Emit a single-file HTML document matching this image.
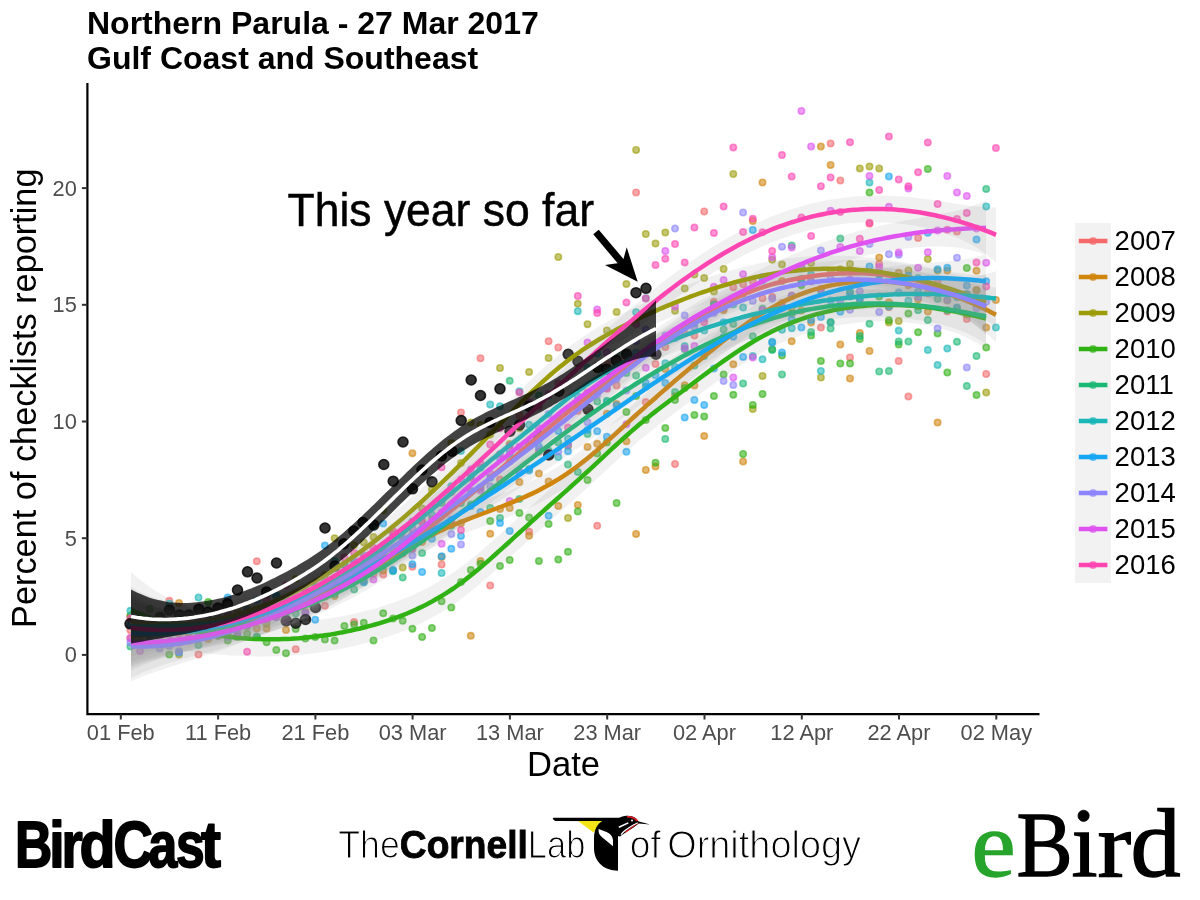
<!DOCTYPE html>
<html><head><meta charset="utf-8"><title>Northern Parula - 27 Mar 2017</title>
<style>
html,body{margin:0;padding:0;background:#fff;}
body{width:1200px;height:900px;overflow:hidden;font-family:"Liberation Sans",sans-serif;}
svg{display:block;will-change:transform;}
text{font-family:"Liberation Sans",sans-serif;}
.ti{font-weight:bold;font-size:32px;fill:#000;}
.tk{font-size:21.8px;fill:#4D4D4D;}
.at{font-size:34.6px;fill:#000;}
.lg{font-size:27.5px;fill:#000;}
.an{font-size:47px;fill:#000;stroke:#000;stroke-width:0.5px;}
.bc{font-weight:bold;font-size:64.5px;fill:#000;stroke:#000;stroke-width:1.8px;stroke-linejoin:round;}
.cl{font-size:38px;fill:#000;stroke:#fff;stroke-width:1.1px;}
.cb{font-weight:bold;font-size:38px;fill:#000;stroke:#000;stroke-width:0.8px;}
.eb text{font-family:"Liberation Serif",serif;font-size:93.7px;stroke-width:1.3px;}
.eb{fill:#000;stroke:#000;}
</style></head><body>
<svg width="1200" height="900" viewBox="0 0 1200 900">
<rect width="1200" height="900" fill="#fff"/>
<text x="87" y="34.2" class="ti">Northern Parula - 27 Mar 2017</text>
<text x="87" y="68.9" class="ti">Gulf Coast and Southeast</text>
<g id="plot">
<g fill="#F5696A" stroke="#F5696A" fill-opacity="0.58" stroke-opacity="0.58" stroke-width="1.6"><circle cx="130.4" cy="630.2" r="3.2"/><circle cx="140.1" cy="622.9" r="3.2"/><circle cx="149.8" cy="629.7" r="3.2"/><circle cx="159.6" cy="632.5" r="3.2"/><circle cx="169.3" cy="600.8" r="3.2"/><circle cx="179.0" cy="632.8" r="3.2"/><circle cx="188.8" cy="633.9" r="3.2"/><circle cx="198.5" cy="654.5" r="3.2"/><circle cx="208.2" cy="623.6" r="3.2"/><circle cx="217.9" cy="632.6" r="3.2"/><circle cx="227.7" cy="621.4" r="3.2"/><circle cx="237.4" cy="627.0" r="3.2"/><circle cx="247.1" cy="624.3" r="3.2"/><circle cx="256.8" cy="561.2" r="3.2"/><circle cx="266.6" cy="610.4" r="3.2"/><circle cx="276.3" cy="614.1" r="3.2"/><circle cx="286.0" cy="609.4" r="3.2"/><circle cx="295.7" cy="649.2" r="3.2"/><circle cx="305.4" cy="603.6" r="3.2"/><circle cx="315.2" cy="592.2" r="3.2"/><circle cx="324.9" cy="605.8" r="3.2"/><circle cx="334.6" cy="578.0" r="3.2"/><circle cx="344.4" cy="577.3" r="3.2"/><circle cx="354.1" cy="621.9" r="3.2"/><circle cx="363.8" cy="557.4" r="3.2"/><circle cx="373.5" cy="573.8" r="3.2"/><circle cx="383.2" cy="574.4" r="3.2"/><circle cx="393.0" cy="557.2" r="3.2"/><circle cx="402.7" cy="553.6" r="3.2"/><circle cx="412.4" cy="566.8" r="3.2"/><circle cx="422.1" cy="521.2" r="3.2"/><circle cx="431.9" cy="518.9" r="3.2"/><circle cx="441.6" cy="564.5" r="3.2"/><circle cx="451.3" cy="504.4" r="3.2"/><circle cx="461.0" cy="412.5" r="3.2"/><circle cx="470.8" cy="491.2" r="3.2"/><circle cx="480.5" cy="358.2" r="3.2"/><circle cx="490.2" cy="585.5" r="3.2"/><circle cx="500.0" cy="479.6" r="3.2"/><circle cx="509.7" cy="461.4" r="3.2"/><circle cx="519.4" cy="415.2" r="3.2"/><circle cx="529.1" cy="531.8" r="3.2"/><circle cx="538.9" cy="451.8" r="3.2"/><circle cx="548.6" cy="341.2" r="3.2"/><circle cx="558.3" cy="347.5" r="3.2"/><circle cx="568.0" cy="444.4" r="3.2"/><circle cx="577.8" cy="410.9" r="3.2"/><circle cx="587.5" cy="410.5" r="3.2"/><circle cx="597.2" cy="525.8" r="3.2"/><circle cx="606.9" cy="363.6" r="3.2"/><circle cx="616.6" cy="385.5" r="3.2"/><circle cx="626.4" cy="357.6" r="3.2"/><circle cx="636.1" cy="192.5" r="3.2"/><circle cx="645.8" cy="402.1" r="3.2"/><circle cx="655.5" cy="364.0" r="3.2"/><circle cx="665.3" cy="347.1" r="3.2"/><circle cx="675.0" cy="464.0" r="3.2"/><circle cx="684.7" cy="333.6" r="3.2"/><circle cx="694.4" cy="335.4" r="3.2"/><circle cx="704.2" cy="211.5" r="3.2"/><circle cx="713.9" cy="301.7" r="3.2"/><circle cx="723.6" cy="308.5" r="3.2"/><circle cx="733.3" cy="287.2" r="3.2"/><circle cx="743.1" cy="284.2" r="3.2"/><circle cx="752.8" cy="281.2" r="3.2"/><circle cx="762.5" cy="298.2" r="3.2"/><circle cx="772.2" cy="296.8" r="3.2"/><circle cx="782.0" cy="302.9" r="3.2"/><circle cx="791.7" cy="295.5" r="3.2"/><circle cx="801.4" cy="281.1" r="3.2"/><circle cx="811.1" cy="281.6" r="3.2"/><circle cx="820.9" cy="327.5" r="3.2"/><circle cx="830.6" cy="143.5" r="3.2"/><circle cx="840.3" cy="180.5" r="3.2"/><circle cx="850.0" cy="357.5" r="3.2"/><circle cx="859.8" cy="301.2" r="3.2"/><circle cx="869.5" cy="223.8" r="3.2"/><circle cx="879.2" cy="264.0" r="3.2"/><circle cx="888.9" cy="307.3" r="3.2"/><circle cx="898.7" cy="361.0" r="3.2"/><circle cx="908.4" cy="396.5" r="3.2"/><circle cx="918.1" cy="237.9" r="3.2"/><circle cx="927.8" cy="293.3" r="3.2"/><circle cx="937.6" cy="282.4" r="3.2"/><circle cx="947.3" cy="311.4" r="3.2"/><circle cx="957.0" cy="231.5" r="3.2"/><circle cx="966.8" cy="319.1" r="3.2"/><circle cx="976.5" cy="289.9" r="3.2"/><circle cx="986.2" cy="374.0" r="3.2"/></g>
<g fill="#D0850C" stroke="#D0850C" fill-opacity="0.58" stroke-opacity="0.58" stroke-width="1.6"><circle cx="130.4" cy="638.3" r="3.2"/><circle cx="140.1" cy="642.7" r="3.2"/><circle cx="149.8" cy="627.2" r="3.2"/><circle cx="159.6" cy="622.9" r="3.2"/><circle cx="169.3" cy="623.5" r="3.2"/><circle cx="179.0" cy="603.0" r="3.2"/><circle cx="188.8" cy="625.8" r="3.2"/><circle cx="198.5" cy="626.2" r="3.2"/><circle cx="208.2" cy="638.9" r="3.2"/><circle cx="217.9" cy="617.5" r="3.2"/><circle cx="227.7" cy="635.6" r="3.2"/><circle cx="237.4" cy="628.1" r="3.2"/><circle cx="247.1" cy="626.2" r="3.2"/><circle cx="256.8" cy="628.5" r="3.2"/><circle cx="266.6" cy="628.4" r="3.2"/><circle cx="276.3" cy="611.0" r="3.2"/><circle cx="286.0" cy="630.0" r="3.2"/><circle cx="295.7" cy="606.9" r="3.2"/><circle cx="305.4" cy="611.7" r="3.2"/><circle cx="315.2" cy="596.7" r="3.2"/><circle cx="324.9" cy="596.5" r="3.2"/><circle cx="334.6" cy="596.0" r="3.2"/><circle cx="344.4" cy="578.7" r="3.2"/><circle cx="354.1" cy="575.3" r="3.2"/><circle cx="363.8" cy="580.7" r="3.2"/><circle cx="373.5" cy="562.6" r="3.2"/><circle cx="383.2" cy="570.6" r="3.2"/><circle cx="393.0" cy="549.9" r="3.2"/><circle cx="402.7" cy="545.8" r="3.2"/><circle cx="412.4" cy="453.2" r="3.2"/><circle cx="422.1" cy="542.0" r="3.2"/><circle cx="431.9" cy="527.9" r="3.2"/><circle cx="441.6" cy="557.0" r="3.2"/><circle cx="451.3" cy="522.1" r="3.2"/><circle cx="461.0" cy="523.2" r="3.2"/><circle cx="470.8" cy="635.8" r="3.2"/><circle cx="480.5" cy="561.0" r="3.2"/><circle cx="490.2" cy="533.8" r="3.2"/><circle cx="500.0" cy="509.0" r="3.2"/><circle cx="509.7" cy="508.0" r="3.2"/><circle cx="519.4" cy="482.1" r="3.2"/><circle cx="529.1" cy="535.8" r="3.2"/><circle cx="538.9" cy="473.6" r="3.2"/><circle cx="548.6" cy="481.4" r="3.2"/><circle cx="558.3" cy="506.0" r="3.2"/><circle cx="568.0" cy="446.1" r="3.2"/><circle cx="577.8" cy="505.0" r="3.2"/><circle cx="587.5" cy="446.9" r="3.2"/><circle cx="597.2" cy="443.8" r="3.2"/><circle cx="606.9" cy="413.8" r="3.2"/><circle cx="616.6" cy="404.1" r="3.2"/><circle cx="626.4" cy="441.2" r="3.2"/><circle cx="636.1" cy="534.0" r="3.2"/><circle cx="645.8" cy="470.0" r="3.2"/><circle cx="655.5" cy="466.5" r="3.2"/><circle cx="665.3" cy="369.1" r="3.2"/><circle cx="675.0" cy="396.1" r="3.2"/><circle cx="684.7" cy="385.3" r="3.2"/><circle cx="694.4" cy="385.4" r="3.2"/><circle cx="704.2" cy="436.0" r="3.2"/><circle cx="713.9" cy="304.0" r="3.2"/><circle cx="723.6" cy="310.2" r="3.2"/><circle cx="733.3" cy="364.3" r="3.2"/><circle cx="743.1" cy="461.5" r="3.2"/><circle cx="752.8" cy="221.0" r="3.2"/><circle cx="762.5" cy="182.5" r="3.2"/><circle cx="772.2" cy="311.3" r="3.2"/><circle cx="782.0" cy="280.9" r="3.2"/><circle cx="791.7" cy="341.3" r="3.2"/><circle cx="801.4" cy="266.6" r="3.2"/><circle cx="811.1" cy="322.6" r="3.2"/><circle cx="820.9" cy="146.5" r="3.2"/><circle cx="830.6" cy="165.0" r="3.2"/><circle cx="840.3" cy="344.5" r="3.2"/><circle cx="850.0" cy="378.5" r="3.2"/><circle cx="859.8" cy="332.9" r="3.2"/><circle cx="869.5" cy="351.0" r="3.2"/><circle cx="879.2" cy="257.4" r="3.2"/><circle cx="888.9" cy="302.3" r="3.2"/><circle cx="898.7" cy="272.8" r="3.2"/><circle cx="908.4" cy="285.2" r="3.2"/><circle cx="918.1" cy="299.2" r="3.2"/><circle cx="927.8" cy="311.6" r="3.2"/><circle cx="937.6" cy="422.5" r="3.2"/><circle cx="947.3" cy="270.6" r="3.2"/><circle cx="957.0" cy="294.0" r="3.2"/><circle cx="966.8" cy="294.2" r="3.2"/><circle cx="976.5" cy="270.8" r="3.2"/><circle cx="986.2" cy="327.6" r="3.2"/><circle cx="995.9" cy="300.0" r="3.2"/></g>
<g fill="#9C9C0A" stroke="#9C9C0A" fill-opacity="0.58" stroke-opacity="0.58" stroke-width="1.6"><circle cx="130.4" cy="615.4" r="3.2"/><circle cx="140.1" cy="617.0" r="3.2"/><circle cx="149.8" cy="628.2" r="3.2"/><circle cx="159.6" cy="617.9" r="3.2"/><circle cx="169.3" cy="633.9" r="3.2"/><circle cx="179.0" cy="654.5" r="3.2"/><circle cx="188.8" cy="625.1" r="3.2"/><circle cx="198.5" cy="624.2" r="3.2"/><circle cx="208.2" cy="622.4" r="3.2"/><circle cx="217.9" cy="621.5" r="3.2"/><circle cx="227.7" cy="614.5" r="3.2"/><circle cx="237.4" cy="609.7" r="3.2"/><circle cx="247.1" cy="607.6" r="3.2"/><circle cx="256.8" cy="609.3" r="3.2"/><circle cx="266.6" cy="623.7" r="3.2"/><circle cx="276.3" cy="595.7" r="3.2"/><circle cx="286.0" cy="602.8" r="3.2"/><circle cx="295.7" cy="579.1" r="3.2"/><circle cx="305.4" cy="593.0" r="3.2"/><circle cx="315.2" cy="599.2" r="3.2"/><circle cx="324.9" cy="575.0" r="3.2"/><circle cx="334.6" cy="538.2" r="3.2"/><circle cx="344.4" cy="564.2" r="3.2"/><circle cx="354.1" cy="545.2" r="3.2"/><circle cx="363.8" cy="542.4" r="3.2"/><circle cx="373.5" cy="537.0" r="3.2"/><circle cx="383.2" cy="510.3" r="3.2"/><circle cx="393.0" cy="533.6" r="3.2"/><circle cx="402.7" cy="567.5" r="3.2"/><circle cx="412.4" cy="534.8" r="3.2"/><circle cx="422.1" cy="508.4" r="3.2"/><circle cx="431.9" cy="489.4" r="3.2"/><circle cx="441.6" cy="454.8" r="3.2"/><circle cx="451.3" cy="443.0" r="3.2"/><circle cx="461.0" cy="463.0" r="3.2"/><circle cx="470.8" cy="422.4" r="3.2"/><circle cx="480.5" cy="425.0" r="3.2"/><circle cx="490.2" cy="434.7" r="3.2"/><circle cx="500.0" cy="368.0" r="3.2"/><circle cx="509.7" cy="444.1" r="3.2"/><circle cx="519.4" cy="428.2" r="3.2"/><circle cx="529.1" cy="371.9" r="3.2"/><circle cx="538.9" cy="404.5" r="3.2"/><circle cx="548.6" cy="358.0" r="3.2"/><circle cx="558.3" cy="257.0" r="3.2"/><circle cx="568.0" cy="518.0" r="3.2"/><circle cx="577.8" cy="303.8" r="3.2"/><circle cx="587.5" cy="324.2" r="3.2"/><circle cx="597.2" cy="369.3" r="3.2"/><circle cx="606.9" cy="330.4" r="3.2"/><circle cx="616.6" cy="311.9" r="3.2"/><circle cx="626.4" cy="284.0" r="3.2"/><circle cx="636.1" cy="150.0" r="3.2"/><circle cx="645.8" cy="234.0" r="3.2"/><circle cx="655.5" cy="243.5" r="3.2"/><circle cx="665.3" cy="232.5" r="3.2"/><circle cx="675.0" cy="310.7" r="3.2"/><circle cx="684.7" cy="288.5" r="3.2"/><circle cx="694.4" cy="274.5" r="3.2"/><circle cx="704.2" cy="277.9" r="3.2"/><circle cx="713.9" cy="291.5" r="3.2"/><circle cx="723.6" cy="269.0" r="3.2"/><circle cx="733.3" cy="174.0" r="3.2"/><circle cx="743.1" cy="293.8" r="3.2"/><circle cx="752.8" cy="409.0" r="3.2"/><circle cx="762.5" cy="376.0" r="3.2"/><circle cx="772.2" cy="259.8" r="3.2"/><circle cx="782.0" cy="264.4" r="3.2"/><circle cx="791.7" cy="307.8" r="3.2"/><circle cx="801.4" cy="310.6" r="3.2"/><circle cx="811.1" cy="263.1" r="3.2"/><circle cx="820.9" cy="377.5" r="3.2"/><circle cx="830.6" cy="271.2" r="3.2"/><circle cx="840.3" cy="269.2" r="3.2"/><circle cx="850.0" cy="264.0" r="3.2"/><circle cx="859.8" cy="168.5" r="3.2"/><circle cx="869.5" cy="166.5" r="3.2"/><circle cx="879.2" cy="168.5" r="3.2"/><circle cx="888.9" cy="322.4" r="3.2"/><circle cx="898.7" cy="321.0" r="3.2"/><circle cx="908.4" cy="270.4" r="3.2"/><circle cx="918.1" cy="306.6" r="3.2"/><circle cx="927.8" cy="259.1" r="3.2"/><circle cx="937.6" cy="270.6" r="3.2"/><circle cx="947.3" cy="300.5" r="3.2"/><circle cx="957.0" cy="295.1" r="3.2"/><circle cx="966.8" cy="314.2" r="3.2"/><circle cx="976.5" cy="290.3" r="3.2"/><circle cx="986.2" cy="392.5" r="3.2"/></g>
<g fill="#30B214" stroke="#30B214" fill-opacity="0.58" stroke-opacity="0.58" stroke-width="1.6"><circle cx="130.4" cy="616.3" r="3.2"/><circle cx="140.1" cy="617.4" r="3.2"/><circle cx="149.8" cy="609.0" r="3.2"/><circle cx="159.6" cy="615.5" r="3.2"/><circle cx="169.3" cy="654.5" r="3.2"/><circle cx="179.0" cy="620.5" r="3.2"/><circle cx="188.8" cy="629.0" r="3.2"/><circle cx="198.5" cy="633.3" r="3.2"/><circle cx="208.2" cy="602.0" r="3.2"/><circle cx="217.9" cy="636.1" r="3.2"/><circle cx="227.7" cy="640.6" r="3.2"/><circle cx="237.4" cy="637.1" r="3.2"/><circle cx="247.1" cy="633.7" r="3.2"/><circle cx="256.8" cy="637.3" r="3.2"/><circle cx="266.6" cy="642.2" r="3.2"/><circle cx="276.3" cy="649.9" r="3.2"/><circle cx="286.0" cy="653.2" r="3.2"/><circle cx="295.7" cy="629.0" r="3.2"/><circle cx="305.4" cy="638.5" r="3.2"/><circle cx="315.2" cy="637.1" r="3.2"/><circle cx="324.9" cy="639.4" r="3.2"/><circle cx="334.6" cy="640.6" r="3.2"/><circle cx="344.4" cy="625.9" r="3.2"/><circle cx="354.1" cy="624.4" r="3.2"/><circle cx="363.8" cy="622.8" r="3.2"/><circle cx="373.5" cy="640.4" r="3.2"/><circle cx="383.2" cy="613.3" r="3.2"/><circle cx="393.0" cy="618.6" r="3.2"/><circle cx="402.7" cy="620.8" r="3.2"/><circle cx="412.4" cy="628.8" r="3.2"/><circle cx="422.1" cy="637.0" r="3.2"/><circle cx="431.9" cy="628.0" r="3.2"/><circle cx="441.6" cy="601.2" r="3.2"/><circle cx="451.3" cy="607.5" r="3.2"/><circle cx="461.0" cy="582.0" r="3.2"/><circle cx="470.8" cy="570.0" r="3.2"/><circle cx="480.5" cy="563.8" r="3.2"/><circle cx="490.2" cy="521.0" r="3.2"/><circle cx="500.0" cy="566.0" r="3.2"/><circle cx="509.7" cy="560.0" r="3.2"/><circle cx="519.4" cy="513.0" r="3.2"/><circle cx="529.1" cy="517.5" r="3.2"/><circle cx="538.9" cy="561.0" r="3.2"/><circle cx="548.6" cy="523.9" r="3.2"/><circle cx="558.3" cy="559.5" r="3.2"/><circle cx="568.0" cy="551.8" r="3.2"/><circle cx="577.8" cy="511.4" r="3.2"/><circle cx="587.5" cy="480.0" r="3.2"/><circle cx="597.2" cy="453.4" r="3.2"/><circle cx="606.9" cy="442.4" r="3.2"/><circle cx="616.6" cy="503.0" r="3.2"/><circle cx="626.4" cy="412.1" r="3.2"/><circle cx="636.1" cy="396.0" r="3.2"/><circle cx="645.8" cy="420.1" r="3.2"/><circle cx="655.5" cy="462.7" r="3.2"/><circle cx="665.3" cy="428.1" r="3.2"/><circle cx="675.0" cy="400.1" r="3.2"/><circle cx="684.7" cy="388.0" r="3.2"/><circle cx="694.4" cy="414.9" r="3.2"/><circle cx="704.2" cy="416.5" r="3.2"/><circle cx="713.9" cy="396.0" r="3.2"/><circle cx="723.6" cy="374.4" r="3.2"/><circle cx="733.3" cy="394.8" r="3.2"/><circle cx="743.1" cy="454.0" r="3.2"/><circle cx="752.8" cy="404.9" r="3.2"/><circle cx="762.5" cy="394.0" r="3.2"/><circle cx="772.2" cy="349.2" r="3.2"/><circle cx="782.0" cy="355.6" r="3.2"/><circle cx="791.7" cy="313.6" r="3.2"/><circle cx="801.4" cy="285.3" r="3.2"/><circle cx="811.1" cy="335.4" r="3.2"/><circle cx="820.9" cy="361.0" r="3.2"/><circle cx="830.6" cy="322.3" r="3.2"/><circle cx="840.3" cy="363.5" r="3.2"/><circle cx="850.0" cy="363.5" r="3.2"/><circle cx="859.8" cy="339.0" r="3.2"/><circle cx="869.5" cy="192.5" r="3.2"/><circle cx="879.2" cy="296.6" r="3.2"/><circle cx="888.9" cy="320.2" r="3.2"/><circle cx="898.7" cy="344.5" r="3.2"/><circle cx="908.4" cy="313.6" r="3.2"/><circle cx="918.1" cy="332.3" r="3.2"/><circle cx="927.8" cy="169.0" r="3.2"/><circle cx="937.6" cy="333.4" r="3.2"/><circle cx="947.3" cy="372.5" r="3.2"/><circle cx="957.0" cy="308.0" r="3.2"/><circle cx="966.8" cy="268.1" r="3.2"/><circle cx="976.5" cy="395.0" r="3.2"/><circle cx="986.2" cy="347.5" r="3.2"/></g>
<g fill="#1CB974" stroke="#1CB974" fill-opacity="0.58" stroke-opacity="0.58" stroke-width="1.6"><circle cx="130.4" cy="646.4" r="3.2"/><circle cx="140.1" cy="622.3" r="3.2"/><circle cx="149.8" cy="635.2" r="3.2"/><circle cx="159.6" cy="632.5" r="3.2"/><circle cx="169.3" cy="631.9" r="3.2"/><circle cx="179.0" cy="641.3" r="3.2"/><circle cx="188.8" cy="629.9" r="3.2"/><circle cx="198.5" cy="645.1" r="3.2"/><circle cx="208.2" cy="629.3" r="3.2"/><circle cx="217.9" cy="629.9" r="3.2"/><circle cx="227.7" cy="614.7" r="3.2"/><circle cx="237.4" cy="627.1" r="3.2"/><circle cx="247.1" cy="623.4" r="3.2"/><circle cx="256.8" cy="636.5" r="3.2"/><circle cx="266.6" cy="614.8" r="3.2"/><circle cx="276.3" cy="609.3" r="3.2"/><circle cx="286.0" cy="616.5" r="3.2"/><circle cx="295.7" cy="613.5" r="3.2"/><circle cx="305.4" cy="594.9" r="3.2"/><circle cx="315.2" cy="596.9" r="3.2"/><circle cx="324.9" cy="593.6" r="3.2"/><circle cx="334.6" cy="594.1" r="3.2"/><circle cx="344.4" cy="585.4" r="3.2"/><circle cx="354.1" cy="589.4" r="3.2"/><circle cx="363.8" cy="570.8" r="3.2"/><circle cx="373.5" cy="570.1" r="3.2"/><circle cx="383.2" cy="565.9" r="3.2"/><circle cx="393.0" cy="570.7" r="3.2"/><circle cx="402.7" cy="577.5" r="3.2"/><circle cx="412.4" cy="549.1" r="3.2"/><circle cx="422.1" cy="553.1" r="3.2"/><circle cx="431.9" cy="533.9" r="3.2"/><circle cx="441.6" cy="502.9" r="3.2"/><circle cx="451.3" cy="525.8" r="3.2"/><circle cx="461.0" cy="503.2" r="3.2"/><circle cx="470.8" cy="504.5" r="3.2"/><circle cx="480.5" cy="488.2" r="3.2"/><circle cx="490.2" cy="507.9" r="3.2"/><circle cx="500.0" cy="518.0" r="3.2"/><circle cx="509.7" cy="380.8" r="3.2"/><circle cx="519.4" cy="498.9" r="3.2"/><circle cx="529.1" cy="469.0" r="3.2"/><circle cx="538.9" cy="395.4" r="3.2"/><circle cx="548.6" cy="450.5" r="3.2"/><circle cx="558.3" cy="442.5" r="3.2"/><circle cx="568.0" cy="464.6" r="3.2"/><circle cx="577.8" cy="471.9" r="3.2"/><circle cx="587.5" cy="433.9" r="3.2"/><circle cx="597.2" cy="401.4" r="3.2"/><circle cx="606.9" cy="400.8" r="3.2"/><circle cx="616.6" cy="352.8" r="3.2"/><circle cx="626.4" cy="373.0" r="3.2"/><circle cx="636.1" cy="375.6" r="3.2"/><circle cx="645.8" cy="386.8" r="3.2"/><circle cx="655.5" cy="345.0" r="3.2"/><circle cx="665.3" cy="439.0" r="3.2"/><circle cx="675.0" cy="392.1" r="3.2"/><circle cx="684.7" cy="349.3" r="3.2"/><circle cx="694.4" cy="365.5" r="3.2"/><circle cx="704.2" cy="356.0" r="3.2"/><circle cx="713.9" cy="345.3" r="3.2"/><circle cx="723.6" cy="329.5" r="3.2"/><circle cx="733.3" cy="323.9" r="3.2"/><circle cx="743.1" cy="383.5" r="3.2"/><circle cx="752.8" cy="336.2" r="3.2"/><circle cx="762.5" cy="308.6" r="3.2"/><circle cx="772.2" cy="349.9" r="3.2"/><circle cx="782.0" cy="374.5" r="3.2"/><circle cx="791.7" cy="245.4" r="3.2"/><circle cx="801.4" cy="278.7" r="3.2"/><circle cx="811.1" cy="332.1" r="3.2"/><circle cx="820.9" cy="291.0" r="3.2"/><circle cx="830.6" cy="328.5" r="3.2"/><circle cx="840.3" cy="238.6" r="3.2"/><circle cx="850.0" cy="291.9" r="3.2"/><circle cx="859.8" cy="336.1" r="3.2"/><circle cx="869.5" cy="323.8" r="3.2"/><circle cx="879.2" cy="371.5" r="3.2"/><circle cx="888.9" cy="371.0" r="3.2"/><circle cx="898.7" cy="341.5" r="3.2"/><circle cx="908.4" cy="341.5" r="3.2"/><circle cx="918.1" cy="310.2" r="3.2"/><circle cx="927.8" cy="320.0" r="3.2"/><circle cx="937.6" cy="299.0" r="3.2"/><circle cx="947.3" cy="310.3" r="3.2"/><circle cx="957.0" cy="341.7" r="3.2"/><circle cx="966.8" cy="386.0" r="3.2"/><circle cx="976.5" cy="356.0" r="3.2"/><circle cx="986.2" cy="189.0" r="3.2"/></g>
<g fill="#1AB6B8" stroke="#1AB6B8" fill-opacity="0.58" stroke-opacity="0.58" stroke-width="1.6"><circle cx="130.4" cy="610.8" r="3.2"/><circle cx="140.1" cy="623.1" r="3.2"/><circle cx="149.8" cy="620.7" r="3.2"/><circle cx="159.6" cy="625.8" r="3.2"/><circle cx="169.3" cy="603.8" r="3.2"/><circle cx="179.0" cy="619.0" r="3.2"/><circle cx="188.8" cy="626.8" r="3.2"/><circle cx="198.5" cy="597.5" r="3.2"/><circle cx="208.2" cy="619.8" r="3.2"/><circle cx="217.9" cy="618.3" r="3.2"/><circle cx="227.7" cy="612.3" r="3.2"/><circle cx="237.4" cy="622.9" r="3.2"/><circle cx="247.1" cy="625.5" r="3.2"/><circle cx="256.8" cy="615.3" r="3.2"/><circle cx="266.6" cy="612.1" r="3.2"/><circle cx="276.3" cy="595.5" r="3.2"/><circle cx="286.0" cy="600.8" r="3.2"/><circle cx="295.7" cy="600.8" r="3.2"/><circle cx="305.4" cy="602.9" r="3.2"/><circle cx="315.2" cy="586.8" r="3.2"/><circle cx="324.9" cy="582.9" r="3.2"/><circle cx="334.6" cy="561.0" r="3.2"/><circle cx="344.4" cy="565.0" r="3.2"/><circle cx="354.1" cy="567.7" r="3.2"/><circle cx="363.8" cy="582.6" r="3.2"/><circle cx="373.5" cy="526.9" r="3.2"/><circle cx="383.2" cy="558.5" r="3.2"/><circle cx="393.0" cy="571.2" r="3.2"/><circle cx="402.7" cy="539.2" r="3.2"/><circle cx="412.4" cy="521.5" r="3.2"/><circle cx="422.1" cy="528.7" r="3.2"/><circle cx="431.9" cy="514.7" r="3.2"/><circle cx="441.6" cy="573.0" r="3.2"/><circle cx="451.3" cy="486.3" r="3.2"/><circle cx="461.0" cy="450.9" r="3.2"/><circle cx="470.8" cy="476.5" r="3.2"/><circle cx="480.5" cy="467.8" r="3.2"/><circle cx="490.2" cy="404.5" r="3.2"/><circle cx="500.0" cy="406.2" r="3.2"/><circle cx="509.7" cy="453.9" r="3.2"/><circle cx="519.4" cy="391.3" r="3.2"/><circle cx="529.1" cy="424.7" r="3.2"/><circle cx="538.9" cy="439.2" r="3.2"/><circle cx="548.6" cy="395.7" r="3.2"/><circle cx="558.3" cy="457.1" r="3.2"/><circle cx="568.0" cy="438.7" r="3.2"/><circle cx="577.8" cy="311.2" r="3.2"/><circle cx="587.5" cy="367.7" r="3.2"/><circle cx="597.2" cy="353.5" r="3.2"/><circle cx="606.9" cy="401.7" r="3.2"/><circle cx="616.6" cy="366.0" r="3.2"/><circle cx="626.4" cy="353.7" r="3.2"/><circle cx="636.1" cy="312.2" r="3.2"/><circle cx="645.8" cy="298.3" r="3.2"/><circle cx="655.5" cy="349.6" r="3.2"/><circle cx="665.3" cy="363.2" r="3.2"/><circle cx="675.0" cy="367.0" r="3.2"/><circle cx="684.7" cy="346.0" r="3.2"/><circle cx="694.4" cy="323.6" r="3.2"/><circle cx="704.2" cy="330.4" r="3.2"/><circle cx="713.9" cy="304.7" r="3.2"/><circle cx="723.6" cy="337.0" r="3.2"/><circle cx="733.3" cy="304.6" r="3.2"/><circle cx="743.1" cy="307.5" r="3.2"/><circle cx="752.8" cy="355.9" r="3.2"/><circle cx="762.5" cy="359.3" r="3.2"/><circle cx="772.2" cy="341.7" r="3.2"/><circle cx="782.0" cy="329.8" r="3.2"/><circle cx="791.7" cy="328.2" r="3.2"/><circle cx="801.4" cy="282.8" r="3.2"/><circle cx="811.1" cy="274.8" r="3.2"/><circle cx="820.9" cy="371.0" r="3.2"/><circle cx="830.6" cy="322.2" r="3.2"/><circle cx="840.3" cy="305.4" r="3.2"/><circle cx="850.0" cy="292.8" r="3.2"/><circle cx="859.8" cy="297.3" r="3.2"/><circle cx="869.5" cy="182.6" r="3.2"/><circle cx="879.2" cy="274.2" r="3.2"/><circle cx="888.9" cy="306.5" r="3.2"/><circle cx="898.7" cy="330.6" r="3.2"/><circle cx="908.4" cy="300.7" r="3.2"/><circle cx="918.1" cy="277.9" r="3.2"/><circle cx="927.8" cy="350.0" r="3.2"/><circle cx="937.6" cy="365.0" r="3.2"/><circle cx="947.3" cy="348.4" r="3.2"/><circle cx="957.0" cy="297.2" r="3.2"/><circle cx="966.8" cy="294.1" r="3.2"/><circle cx="976.5" cy="298.1" r="3.2"/><circle cx="986.2" cy="206.5" r="3.2"/><circle cx="995.9" cy="327.5" r="3.2"/></g>
<g fill="#16A6F3" stroke="#16A6F3" fill-opacity="0.58" stroke-opacity="0.58" stroke-width="1.6"><circle cx="130.4" cy="625.1" r="3.2"/><circle cx="140.1" cy="633.2" r="3.2"/><circle cx="149.8" cy="640.9" r="3.2"/><circle cx="159.6" cy="629.6" r="3.2"/><circle cx="169.3" cy="632.7" r="3.2"/><circle cx="179.0" cy="652.4" r="3.2"/><circle cx="188.8" cy="631.1" r="3.2"/><circle cx="198.5" cy="634.1" r="3.2"/><circle cx="208.2" cy="628.2" r="3.2"/><circle cx="217.9" cy="621.1" r="3.2"/><circle cx="227.7" cy="597.5" r="3.2"/><circle cx="237.4" cy="635.1" r="3.2"/><circle cx="247.1" cy="609.8" r="3.2"/><circle cx="256.8" cy="600.1" r="3.2"/><circle cx="266.6" cy="608.3" r="3.2"/><circle cx="276.3" cy="596.1" r="3.2"/><circle cx="286.0" cy="600.0" r="3.2"/><circle cx="295.7" cy="599.0" r="3.2"/><circle cx="305.4" cy="612.9" r="3.2"/><circle cx="315.2" cy="619.7" r="3.2"/><circle cx="324.9" cy="545.5" r="3.2"/><circle cx="334.6" cy="587.4" r="3.2"/><circle cx="344.4" cy="575.2" r="3.2"/><circle cx="354.1" cy="562.4" r="3.2"/><circle cx="363.8" cy="581.6" r="3.2"/><circle cx="373.5" cy="569.9" r="3.2"/><circle cx="383.2" cy="523.6" r="3.2"/><circle cx="393.0" cy="569.8" r="3.2"/><circle cx="402.7" cy="550.9" r="3.2"/><circle cx="412.4" cy="564.3" r="3.2"/><circle cx="422.1" cy="572.0" r="3.2"/><circle cx="431.9" cy="538.7" r="3.2"/><circle cx="441.6" cy="556.2" r="3.2"/><circle cx="451.3" cy="548.8" r="3.2"/><circle cx="461.0" cy="535.9" r="3.2"/><circle cx="470.8" cy="506.2" r="3.2"/><circle cx="480.5" cy="512.0" r="3.2"/><circle cx="490.2" cy="477.8" r="3.2"/><circle cx="500.0" cy="522.9" r="3.2"/><circle cx="509.7" cy="531.0" r="3.2"/><circle cx="519.4" cy="472.2" r="3.2"/><circle cx="529.1" cy="470.6" r="3.2"/><circle cx="538.9" cy="446.6" r="3.2"/><circle cx="548.6" cy="515.8" r="3.2"/><circle cx="558.3" cy="431.1" r="3.2"/><circle cx="568.0" cy="451.2" r="3.2"/><circle cx="577.8" cy="396.6" r="3.2"/><circle cx="587.5" cy="430.0" r="3.2"/><circle cx="597.2" cy="431.2" r="3.2"/><circle cx="606.9" cy="436.7" r="3.2"/><circle cx="616.6" cy="405.4" r="3.2"/><circle cx="626.4" cy="451.8" r="3.2"/><circle cx="636.1" cy="352.7" r="3.2"/><circle cx="645.8" cy="382.9" r="3.2"/><circle cx="655.5" cy="375.3" r="3.2"/><circle cx="665.3" cy="383.0" r="3.2"/><circle cx="675.0" cy="337.9" r="3.2"/><circle cx="684.7" cy="417.5" r="3.2"/><circle cx="694.4" cy="400.0" r="3.2"/><circle cx="704.2" cy="405.0" r="3.2"/><circle cx="713.9" cy="368.6" r="3.2"/><circle cx="723.6" cy="322.2" r="3.2"/><circle cx="733.3" cy="336.7" r="3.2"/><circle cx="743.1" cy="356.9" r="3.2"/><circle cx="752.8" cy="230.0" r="3.2"/><circle cx="762.5" cy="280.6" r="3.2"/><circle cx="772.2" cy="342.7" r="3.2"/><circle cx="782.0" cy="352.5" r="3.2"/><circle cx="791.7" cy="319.6" r="3.2"/><circle cx="801.4" cy="327.5" r="3.2"/><circle cx="811.1" cy="319.9" r="3.2"/><circle cx="820.9" cy="317.1" r="3.2"/><circle cx="830.6" cy="300.6" r="3.2"/><circle cx="840.3" cy="311.8" r="3.2"/><circle cx="850.0" cy="296.5" r="3.2"/><circle cx="859.8" cy="298.8" r="3.2"/><circle cx="869.5" cy="266.5" r="3.2"/><circle cx="879.2" cy="279.5" r="3.2"/><circle cx="888.9" cy="176.5" r="3.2"/><circle cx="898.7" cy="292.6" r="3.2"/><circle cx="908.4" cy="275.7" r="3.2"/><circle cx="918.1" cy="291.5" r="3.2"/><circle cx="927.8" cy="232.8" r="3.2"/><circle cx="937.6" cy="269.2" r="3.2"/><circle cx="947.3" cy="267.8" r="3.2"/><circle cx="957.0" cy="307.4" r="3.2"/><circle cx="966.8" cy="285.6" r="3.2"/><circle cx="976.5" cy="239.5" r="3.2"/><circle cx="986.2" cy="281.3" r="3.2"/></g>
<g fill="#8D84FF" stroke="#8D84FF" fill-opacity="0.58" stroke-opacity="0.58" stroke-width="1.6"><circle cx="130.4" cy="642.6" r="3.2"/><circle cx="140.1" cy="643.7" r="3.2"/><circle cx="149.8" cy="640.9" r="3.2"/><circle cx="159.6" cy="648.4" r="3.2"/><circle cx="169.3" cy="645.9" r="3.2"/><circle cx="179.0" cy="651.2" r="3.2"/><circle cx="188.8" cy="639.1" r="3.2"/><circle cx="198.5" cy="630.7" r="3.2"/><circle cx="208.2" cy="633.5" r="3.2"/><circle cx="217.9" cy="620.5" r="3.2"/><circle cx="227.7" cy="636.9" r="3.2"/><circle cx="237.4" cy="626.0" r="3.2"/><circle cx="247.1" cy="622.2" r="3.2"/><circle cx="256.8" cy="617.1" r="3.2"/><circle cx="266.6" cy="613.1" r="3.2"/><circle cx="276.3" cy="617.5" r="3.2"/><circle cx="286.0" cy="618.3" r="3.2"/><circle cx="295.7" cy="606.5" r="3.2"/><circle cx="305.4" cy="594.9" r="3.2"/><circle cx="315.2" cy="592.8" r="3.2"/><circle cx="324.9" cy="584.9" r="3.2"/><circle cx="334.6" cy="582.7" r="3.2"/><circle cx="344.4" cy="575.3" r="3.2"/><circle cx="354.1" cy="560.5" r="3.2"/><circle cx="363.8" cy="555.5" r="3.2"/><circle cx="373.5" cy="558.1" r="3.2"/><circle cx="383.2" cy="548.9" r="3.2"/><circle cx="393.0" cy="536.6" r="3.2"/><circle cx="402.7" cy="538.4" r="3.2"/><circle cx="412.4" cy="555.4" r="3.2"/><circle cx="422.1" cy="515.7" r="3.2"/><circle cx="431.9" cy="527.0" r="3.2"/><circle cx="441.6" cy="512.6" r="3.2"/><circle cx="451.3" cy="534.0" r="3.2"/><circle cx="461.0" cy="544.5" r="3.2"/><circle cx="470.8" cy="490.8" r="3.2"/><circle cx="480.5" cy="487.3" r="3.2"/><circle cx="490.2" cy="486.2" r="3.2"/><circle cx="500.0" cy="458.7" r="3.2"/><circle cx="509.7" cy="449.4" r="3.2"/><circle cx="519.4" cy="471.7" r="3.2"/><circle cx="529.1" cy="444.8" r="3.2"/><circle cx="538.9" cy="449.2" r="3.2"/><circle cx="548.6" cy="414.1" r="3.2"/><circle cx="558.3" cy="451.4" r="3.2"/><circle cx="568.0" cy="444.4" r="3.2"/><circle cx="577.8" cy="408.0" r="3.2"/><circle cx="587.5" cy="422.3" r="3.2"/><circle cx="597.2" cy="395.0" r="3.2"/><circle cx="606.9" cy="388.0" r="3.2"/><circle cx="616.6" cy="379.3" r="3.2"/><circle cx="626.4" cy="390.4" r="3.2"/><circle cx="636.1" cy="341.2" r="3.2"/><circle cx="645.8" cy="329.6" r="3.2"/><circle cx="655.5" cy="354.1" r="3.2"/><circle cx="665.3" cy="335.4" r="3.2"/><circle cx="675.0" cy="228.5" r="3.2"/><circle cx="684.7" cy="315.5" r="3.2"/><circle cx="694.4" cy="327.4" r="3.2"/><circle cx="704.2" cy="318.4" r="3.2"/><circle cx="713.9" cy="313.0" r="3.2"/><circle cx="723.6" cy="381.0" r="3.2"/><circle cx="733.3" cy="385.0" r="3.2"/><circle cx="743.1" cy="212.5" r="3.2"/><circle cx="752.8" cy="300.9" r="3.2"/><circle cx="762.5" cy="277.0" r="3.2"/><circle cx="772.2" cy="298.7" r="3.2"/><circle cx="782.0" cy="246.7" r="3.2"/><circle cx="791.7" cy="295.9" r="3.2"/><circle cx="801.4" cy="267.9" r="3.2"/><circle cx="811.1" cy="280.9" r="3.2"/><circle cx="820.9" cy="250.4" r="3.2"/><circle cx="830.6" cy="278.5" r="3.2"/><circle cx="840.3" cy="300.8" r="3.2"/><circle cx="850.0" cy="309.8" r="3.2"/><circle cx="859.8" cy="291.2" r="3.2"/><circle cx="869.5" cy="243.9" r="3.2"/><circle cx="879.2" cy="312.0" r="3.2"/><circle cx="888.9" cy="254.2" r="3.2"/><circle cx="898.7" cy="254.7" r="3.2"/><circle cx="908.4" cy="236.9" r="3.2"/><circle cx="918.1" cy="296.9" r="3.2"/><circle cx="927.8" cy="285.3" r="3.2"/><circle cx="937.6" cy="328.4" r="3.2"/><circle cx="947.3" cy="299.8" r="3.2"/><circle cx="957.0" cy="257.7" r="3.2"/><circle cx="966.8" cy="367.4" r="3.2"/><circle cx="976.5" cy="308.2" r="3.2"/><circle cx="986.2" cy="301.8" r="3.2"/></g>
<g fill="#DF52F0" stroke="#DF52F0" fill-opacity="0.58" stroke-opacity="0.58" stroke-width="1.6"><circle cx="130.4" cy="638.0" r="3.2"/><circle cx="140.1" cy="650.9" r="3.2"/><circle cx="149.8" cy="634.1" r="3.2"/><circle cx="159.6" cy="640.3" r="3.2"/><circle cx="169.3" cy="635.2" r="3.2"/><circle cx="179.0" cy="642.6" r="3.2"/><circle cx="188.8" cy="640.8" r="3.2"/><circle cx="198.5" cy="632.1" r="3.2"/><circle cx="208.2" cy="620.6" r="3.2"/><circle cx="217.9" cy="632.5" r="3.2"/><circle cx="227.7" cy="628.5" r="3.2"/><circle cx="237.4" cy="632.8" r="3.2"/><circle cx="247.1" cy="611.7" r="3.2"/><circle cx="256.8" cy="620.7" r="3.2"/><circle cx="266.6" cy="619.3" r="3.2"/><circle cx="276.3" cy="617.0" r="3.2"/><circle cx="286.0" cy="620.9" r="3.2"/><circle cx="295.7" cy="604.1" r="3.2"/><circle cx="305.4" cy="613.1" r="3.2"/><circle cx="315.2" cy="594.5" r="3.2"/><circle cx="324.9" cy="591.9" r="3.2"/><circle cx="334.6" cy="579.9" r="3.2"/><circle cx="344.4" cy="580.4" r="3.2"/><circle cx="354.1" cy="581.5" r="3.2"/><circle cx="363.8" cy="576.0" r="3.2"/><circle cx="373.5" cy="579.6" r="3.2"/><circle cx="383.2" cy="552.8" r="3.2"/><circle cx="393.0" cy="556.5" r="3.2"/><circle cx="402.7" cy="531.6" r="3.2"/><circle cx="412.4" cy="528.4" r="3.2"/><circle cx="422.1" cy="534.1" r="3.2"/><circle cx="431.9" cy="524.1" r="3.2"/><circle cx="441.6" cy="543.8" r="3.2"/><circle cx="451.3" cy="519.8" r="3.2"/><circle cx="461.0" cy="479.4" r="3.2"/><circle cx="470.8" cy="469.4" r="3.2"/><circle cx="480.5" cy="490.6" r="3.2"/><circle cx="490.2" cy="473.6" r="3.2"/><circle cx="500.0" cy="454.1" r="3.2"/><circle cx="509.7" cy="501.1" r="3.2"/><circle cx="519.4" cy="446.8" r="3.2"/><circle cx="529.1" cy="445.9" r="3.2"/><circle cx="538.9" cy="428.3" r="3.2"/><circle cx="548.6" cy="452.8" r="3.2"/><circle cx="558.3" cy="417.6" r="3.2"/><circle cx="568.0" cy="409.0" r="3.2"/><circle cx="577.8" cy="405.3" r="3.2"/><circle cx="587.5" cy="342.6" r="3.2"/><circle cx="597.2" cy="309.5" r="3.2"/><circle cx="606.9" cy="352.3" r="3.2"/><circle cx="616.6" cy="369.2" r="3.2"/><circle cx="626.4" cy="424.2" r="3.2"/><circle cx="636.1" cy="359.6" r="3.2"/><circle cx="645.8" cy="367.8" r="3.2"/><circle cx="655.5" cy="352.7" r="3.2"/><circle cx="665.3" cy="251.0" r="3.2"/><circle cx="675.0" cy="306.6" r="3.2"/><circle cx="684.7" cy="348.2" r="3.2"/><circle cx="694.4" cy="346.0" r="3.2"/><circle cx="704.2" cy="349.3" r="3.2"/><circle cx="713.9" cy="286.7" r="3.2"/><circle cx="723.6" cy="280.1" r="3.2"/><circle cx="733.3" cy="377.5" r="3.2"/><circle cx="743.1" cy="274.2" r="3.2"/><circle cx="752.8" cy="357.5" r="3.2"/><circle cx="762.5" cy="310.3" r="3.2"/><circle cx="772.2" cy="257.2" r="3.2"/><circle cx="782.0" cy="307.2" r="3.2"/><circle cx="791.7" cy="247.5" r="3.2"/><circle cx="801.4" cy="111.0" r="3.2"/><circle cx="811.1" cy="146.5" r="3.2"/><circle cx="820.9" cy="288.7" r="3.2"/><circle cx="830.6" cy="210.7" r="3.2"/><circle cx="840.3" cy="247.0" r="3.2"/><circle cx="850.0" cy="279.2" r="3.2"/><circle cx="859.8" cy="251.0" r="3.2"/><circle cx="869.5" cy="176.0" r="3.2"/><circle cx="879.2" cy="267.0" r="3.2"/><circle cx="888.9" cy="206.8" r="3.2"/><circle cx="898.7" cy="252.6" r="3.2"/><circle cx="908.4" cy="188.6" r="3.2"/><circle cx="918.1" cy="267.7" r="3.2"/><circle cx="927.8" cy="252.3" r="3.2"/><circle cx="937.6" cy="230.6" r="3.2"/><circle cx="947.3" cy="176.0" r="3.2"/><circle cx="957.0" cy="192.5" r="3.2"/><circle cx="966.8" cy="196.0" r="3.2"/><circle cx="976.5" cy="228.5" r="3.2"/><circle cx="986.2" cy="262.7" r="3.2"/></g>
<g fill="#FF45B2" stroke="#FF45B2" fill-opacity="0.58" stroke-opacity="0.58" stroke-width="1.6"><circle cx="130.4" cy="618.3" r="3.2"/><circle cx="140.1" cy="618.0" r="3.2"/><circle cx="149.8" cy="623.7" r="3.2"/><circle cx="159.6" cy="622.5" r="3.2"/><circle cx="169.3" cy="631.1" r="3.2"/><circle cx="179.0" cy="633.3" r="3.2"/><circle cx="188.8" cy="636.9" r="3.2"/><circle cx="198.5" cy="621.9" r="3.2"/><circle cx="208.2" cy="636.5" r="3.2"/><circle cx="217.9" cy="611.4" r="3.2"/><circle cx="227.7" cy="614.0" r="3.2"/><circle cx="237.4" cy="614.7" r="3.2"/><circle cx="247.1" cy="651.7" r="3.2"/><circle cx="256.8" cy="617.6" r="3.2"/><circle cx="266.6" cy="600.7" r="3.2"/><circle cx="276.3" cy="606.6" r="3.2"/><circle cx="286.0" cy="585.3" r="3.2"/><circle cx="295.7" cy="605.6" r="3.2"/><circle cx="305.4" cy="589.7" r="3.2"/><circle cx="315.2" cy="596.3" r="3.2"/><circle cx="324.9" cy="592.4" r="3.2"/><circle cx="334.6" cy="579.6" r="3.2"/><circle cx="344.4" cy="557.5" r="3.2"/><circle cx="354.1" cy="553.0" r="3.2"/><circle cx="363.8" cy="564.8" r="3.2"/><circle cx="373.5" cy="548.0" r="3.2"/><circle cx="383.2" cy="559.4" r="3.2"/><circle cx="393.0" cy="530.9" r="3.2"/><circle cx="402.7" cy="545.4" r="3.2"/><circle cx="412.4" cy="548.6" r="3.2"/><circle cx="422.1" cy="522.3" r="3.2"/><circle cx="431.9" cy="506.5" r="3.2"/><circle cx="441.6" cy="467.2" r="3.2"/><circle cx="451.3" cy="492.2" r="3.2"/><circle cx="461.0" cy="530.0" r="3.2"/><circle cx="470.8" cy="477.8" r="3.2"/><circle cx="480.5" cy="463.4" r="3.2"/><circle cx="490.2" cy="444.5" r="3.2"/><circle cx="500.0" cy="428.2" r="3.2"/><circle cx="509.7" cy="445.8" r="3.2"/><circle cx="519.4" cy="392.5" r="3.2"/><circle cx="529.1" cy="402.2" r="3.2"/><circle cx="538.9" cy="406.4" r="3.2"/><circle cx="548.6" cy="394.3" r="3.2"/><circle cx="558.3" cy="383.5" r="3.2"/><circle cx="568.0" cy="427.6" r="3.2"/><circle cx="577.8" cy="296.0" r="3.2"/><circle cx="587.5" cy="392.6" r="3.2"/><circle cx="597.2" cy="313.0" r="3.2"/><circle cx="606.9" cy="388.7" r="3.2"/><circle cx="616.6" cy="366.8" r="3.2"/><circle cx="626.4" cy="302.5" r="3.2"/><circle cx="636.1" cy="323.9" r="3.2"/><circle cx="645.8" cy="298.4" r="3.2"/><circle cx="655.5" cy="265.0" r="3.2"/><circle cx="665.3" cy="258.7" r="3.2"/><circle cx="675.0" cy="244.0" r="3.2"/><circle cx="684.7" cy="262.4" r="3.2"/><circle cx="694.4" cy="227.5" r="3.2"/><circle cx="704.2" cy="322.2" r="3.2"/><circle cx="713.9" cy="232.9" r="3.2"/><circle cx="723.6" cy="206.5" r="3.2"/><circle cx="733.3" cy="147.5" r="3.2"/><circle cx="743.1" cy="232.1" r="3.2"/><circle cx="752.8" cy="218.8" r="3.2"/><circle cx="762.5" cy="232.3" r="3.2"/><circle cx="772.2" cy="250.9" r="3.2"/><circle cx="782.0" cy="155.0" r="3.2"/><circle cx="791.7" cy="176.5" r="3.2"/><circle cx="801.4" cy="217.5" r="3.2"/><circle cx="811.1" cy="235.9" r="3.2"/><circle cx="820.9" cy="186.2" r="3.2"/><circle cx="830.6" cy="177.5" r="3.2"/><circle cx="840.3" cy="212.0" r="3.2"/><circle cx="850.0" cy="142.3" r="3.2"/><circle cx="859.8" cy="238.7" r="3.2"/><circle cx="869.5" cy="222.7" r="3.2"/><circle cx="879.2" cy="190.0" r="3.2"/><circle cx="888.9" cy="136.5" r="3.2"/><circle cx="898.7" cy="179.4" r="3.2"/><circle cx="908.4" cy="186.2" r="3.2"/><circle cx="918.1" cy="172.3" r="3.2"/><circle cx="927.8" cy="142.5" r="3.2"/><circle cx="937.6" cy="204.0" r="3.2"/><circle cx="947.3" cy="229.8" r="3.2"/><circle cx="957.0" cy="218.9" r="3.2"/><circle cx="966.8" cy="213.0" r="3.2"/><circle cx="976.5" cy="262.5" r="3.2"/><circle cx="986.2" cy="286.5" r="3.2"/><circle cx="995.9" cy="148.0" r="3.2"/></g>
<g fill="#000" fill-opacity="0.8" stroke="#000" stroke-opacity="0.8" stroke-width="1.6"><circle cx="130.0" cy="623.8" r="5"/><circle cx="140.0" cy="619.0" r="5"/><circle cx="150.0" cy="626.2" r="5"/><circle cx="160.0" cy="617.5" r="5"/><circle cx="169.5" cy="610.0" r="5"/><circle cx="179.5" cy="615.0" r="5"/><circle cx="188.8" cy="615.0" r="5"/><circle cx="198.8" cy="609.2" r="5"/><circle cx="208.0" cy="612.0" r="5"/><circle cx="218.0" cy="608.0" r="5"/><circle cx="227.5" cy="603.8" r="5"/><circle cx="237.5" cy="590.0" r="5"/><circle cx="247.5" cy="571.8" r="5"/><circle cx="257.0" cy="578.0" r="5"/><circle cx="266.6" cy="592.0" r="5"/><circle cx="276.5" cy="563.0" r="5"/><circle cx="286.2" cy="620.8" r="5"/><circle cx="295.8" cy="623.2" r="5"/><circle cx="305.5" cy="619.5" r="5"/><circle cx="315.5" cy="607.5" r="5"/><circle cx="325.0" cy="528.0" r="5"/><circle cx="335.0" cy="566.0" r="5"/><circle cx="343.8" cy="543.8" r="5"/><circle cx="353.8" cy="531.0" r="5"/><circle cx="363.0" cy="522.5" r="5"/><circle cx="373.8" cy="525.0" r="5"/><circle cx="383.8" cy="464.5" r="5"/><circle cx="393.2" cy="481.2" r="5"/><circle cx="403.0" cy="442.0" r="5"/><circle cx="412.5" cy="488.8" r="5"/><circle cx="422.0" cy="470.0" r="5"/><circle cx="432.0" cy="481.8" r="5"/><circle cx="441.4" cy="456.0" r="5"/><circle cx="452.0" cy="451.2" r="5"/><circle cx="461.2" cy="420.5" r="5"/><circle cx="471.2" cy="380.0" r="5"/><circle cx="480.5" cy="395.5" r="5"/><circle cx="490.0" cy="422.5" r="5"/><circle cx="500.0" cy="388.8" r="5"/><circle cx="510.0" cy="431.2" r="5"/><circle cx="519.5" cy="425.0" r="5"/><circle cx="528.8" cy="406.2" r="5"/><circle cx="538.8" cy="436.2" r="5"/><circle cx="548.8" cy="455.0" r="5"/><circle cx="558.8" cy="391.2" r="5"/><circle cx="568.2" cy="354.3" r="5"/><circle cx="578.0" cy="361.3" r="5"/><circle cx="588.0" cy="409.3" r="5"/><circle cx="597.8" cy="367.5" r="5"/><circle cx="606.7" cy="369.3" r="5"/><circle cx="616.4" cy="360.4" r="5"/><circle cx="626.6" cy="354.2" r="5"/><circle cx="636.0" cy="292.7" r="5"/><circle cx="646.0" cy="288.3" r="5"/><circle cx="655.9" cy="354.2" r="5"/></g>
<path d="M131.0,596.6 L135.0,598.7 L139.0,600.7 L143.0,602.4 L147.0,604.0 L151.0,605.4 L155.0,606.6 L159.0,607.7 L163.0,608.7 L167.0,609.5 L171.0,610.2 L175.0,610.8 L179.0,611.2 L183.0,611.6 L187.0,611.9 L191.0,612.0 L195.0,612.1 L199.0,612.1 L203.0,612.0 L207.0,611.8 L211.0,611.5 L215.0,611.2 L219.0,610.8 L223.0,610.3 L227.0,609.7 L231.0,609.1 L235.0,608.4 L239.0,607.7 L243.0,606.9 L247.0,606.0 L251.0,605.1 L255.0,604.1 L259.0,603.1 L263.0,602.0 L267.0,600.9 L271.0,599.7 L275.0,598.4 L279.0,597.1 L283.0,595.8 L287.0,594.4 L291.0,592.9 L295.0,591.4 L299.0,589.9 L303.0,588.3 L307.0,586.6 L311.0,584.9 L315.0,583.2 L319.0,581.4 L323.0,579.6 L327.0,577.7 L331.0,575.8 L335.0,573.8 L339.0,571.8 L343.0,569.7 L347.0,567.6 L351.0,565.4 L355.0,563.2 L359.0,561.0 L363.0,558.7 L367.0,556.4 L371.0,554.0 L375.0,551.6 L379.0,549.1 L383.0,546.6 L387.0,544.1 L391.0,541.5 L395.0,538.9 L399.0,536.2 L403.0,533.5 L407.0,530.7 L411.0,527.9 L415.0,525.0 L419.0,522.1 L423.0,519.2 L427.0,516.2 L431.0,513.2 L435.0,510.2 L439.0,507.1 L443.0,503.9 L447.0,500.8 L451.0,497.6 L455.0,494.3 L459.0,491.1 L463.0,487.8 L467.0,484.5 L471.0,481.1 L475.0,477.8 L479.0,474.4 L483.0,471.0 L487.0,467.6 L491.0,464.2 L495.0,460.8 L499.0,457.3 L503.0,453.9 L507.0,450.4 L511.0,447.0 L515.0,443.6 L519.0,440.1 L523.0,436.7 L527.0,433.2 L531.0,429.8 L535.0,426.4 L539.0,423.0 L543.0,419.6 L547.0,416.3 L551.0,412.9 L555.0,409.6 L559.0,406.3 L563.0,403.0 L567.0,399.8 L571.0,396.6 L575.0,393.4 L579.0,390.3 L583.0,387.2 L587.0,384.1 L591.0,381.0 L595.0,378.0 L599.0,375.0 L603.0,372.0 L607.0,369.0 L611.0,366.1 L615.0,363.1 L619.0,360.1 L623.0,357.2 L627.0,354.2 L631.0,351.3 L635.0,348.4 L639.0,345.5 L643.0,342.6 L647.0,339.7 L651.0,336.8 L655.0,333.9 L659.0,331.1 L663.0,328.3 L667.0,325.5 L671.0,322.7 L675.0,320.0 L679.0,317.3 L683.0,314.7 L687.0,312.1 L691.0,309.5 L695.0,307.0 L699.0,304.6 L703.0,302.2 L707.0,299.8 L711.0,297.6 L715.0,295.3 L719.0,293.2 L723.0,291.1 L727.0,289.1 L731.0,287.1 L735.0,285.2 L739.0,283.4 L743.0,281.7 L747.0,280.0 L751.0,278.4 L755.0,276.9 L759.0,275.4 L763.0,274.1 L767.0,272.8 L771.0,271.6 L775.0,270.5 L779.0,269.5 L783.0,268.5 L787.0,267.6 L791.0,266.7 L795.0,265.9 L799.0,265.2 L803.0,264.5 L807.0,263.9 L811.0,263.3 L815.0,262.7 L819.0,262.2 L823.0,261.8 L827.0,261.4 L831.0,261.0 L835.0,260.7 L839.0,260.5 L843.0,260.3 L847.0,260.1 L851.0,260.1 L855.0,260.0 L859.0,260.0 L863.0,260.1 L867.0,260.2 L871.0,260.4 L875.0,260.6 L879.0,260.9 L883.0,261.3 L887.0,261.6 L891.0,262.1 L895.0,262.6 L899.0,263.1 L903.0,263.7 L907.0,264.4 L911.0,265.0 L915.0,265.8 L919.0,266.5 L923.0,267.4 L927.0,268.2 L931.0,269.1 L935.0,270.0 L939.0,270.9 L943.0,271.9 L947.0,272.8 L951.0,273.8 L955.0,274.7 L959.0,275.6 L963.0,276.5 L967.0,277.4 L971.0,278.1 L975.0,278.8 L979.0,279.4 L983.0,279.9 L986.0,280.2 L986.0,335.2 L983.0,332.1 L979.0,328.4 L975.0,324.9 L971.0,321.7 L967.0,318.8 L963.0,316.0 L959.0,313.4 L955.0,311.0 L951.0,308.8 L947.0,306.7 L943.0,304.8 L939.0,303.0 L935.0,301.3 L931.0,299.7 L927.0,298.3 L923.0,296.9 L919.0,295.7 L915.0,294.5 L911.0,293.4 L907.0,292.4 L903.0,291.5 L899.0,290.7 L895.0,290.0 L891.0,289.3 L887.0,288.7 L883.0,288.2 L879.0,287.7 L875.0,287.4 L871.0,287.0 L867.0,286.8 L863.0,286.6 L859.0,286.5 L855.0,286.4 L851.0,286.4 L847.0,286.4 L843.0,286.5 L839.0,286.7 L835.0,286.9 L831.0,287.2 L827.0,287.5 L823.0,287.9 L819.0,288.3 L815.0,288.8 L811.0,289.3 L807.0,289.9 L803.0,290.6 L799.0,291.2 L795.0,292.0 L791.0,292.8 L787.0,293.6 L783.0,294.5 L779.0,295.5 L775.0,296.5 L771.0,297.6 L767.0,298.8 L763.0,300.1 L759.0,301.5 L755.0,302.9 L751.0,304.4 L747.0,306.0 L743.0,307.7 L739.0,309.4 L735.0,311.2 L731.0,313.1 L727.0,315.1 L723.0,317.1 L719.0,319.2 L715.0,321.3 L711.0,323.6 L707.0,325.8 L703.0,328.2 L699.0,330.6 L695.0,333.0 L691.0,335.5 L687.0,338.1 L683.0,340.7 L679.0,343.3 L675.0,346.0 L671.0,348.7 L667.0,351.5 L663.0,354.3 L659.0,357.1 L655.0,359.9 L651.0,362.8 L647.0,365.7 L643.0,368.6 L639.0,371.5 L635.0,374.4 L631.0,377.3 L627.0,380.2 L623.0,383.2 L619.0,386.1 L615.0,389.1 L611.0,392.1 L607.0,395.0 L603.0,398.0 L599.0,401.0 L595.0,404.0 L591.0,407.0 L587.0,410.1 L583.0,413.2 L579.0,416.3 L575.0,419.4 L571.0,422.6 L567.0,425.8 L563.0,429.0 L559.0,432.3 L555.0,435.6 L551.0,438.9 L547.0,442.3 L543.0,445.6 L539.0,449.0 L535.0,452.4 L531.0,455.8 L527.0,459.3 L523.0,462.7 L519.0,466.1 L515.0,469.6 L511.0,473.0 L507.0,476.4 L503.0,479.9 L499.0,483.3 L495.0,486.8 L491.0,490.2 L487.0,493.6 L483.0,497.0 L479.0,500.4 L475.0,503.8 L471.0,507.2 L467.0,510.5 L463.0,513.8 L459.0,517.1 L455.0,520.4 L451.0,523.6 L447.0,526.8 L443.0,530.0 L439.0,533.1 L435.0,536.2 L431.0,539.3 L427.0,542.3 L423.0,545.3 L419.0,548.2 L415.0,551.1 L411.0,554.0 L407.0,556.8 L403.0,559.6 L399.0,562.3 L395.0,565.0 L391.0,567.6 L387.0,570.2 L383.0,572.8 L379.0,575.3 L375.0,577.8 L371.0,580.2 L367.0,582.6 L363.0,585.0 L359.0,587.3 L355.0,589.5 L351.0,591.8 L347.0,594.0 L343.0,596.1 L339.0,598.2 L335.0,600.3 L331.0,602.3 L327.0,604.3 L323.0,606.2 L319.0,608.1 L315.0,609.9 L311.0,611.7 L307.0,613.5 L303.0,615.2 L299.0,616.9 L295.0,618.6 L291.0,620.2 L287.0,621.8 L283.0,623.3 L279.0,624.8 L275.0,626.2 L271.0,627.6 L267.0,629.0 L263.0,630.4 L259.0,631.7 L255.0,632.9 L251.0,634.2 L247.0,635.4 L243.0,636.6 L239.0,637.7 L235.0,638.8 L231.0,639.9 L227.0,641.0 L223.0,642.0 L219.0,643.0 L215.0,644.0 L211.0,645.0 L207.0,645.9 L203.0,646.8 L199.0,647.8 L195.0,648.7 L191.0,649.6 L187.0,650.5 L183.0,651.5 L179.0,652.4 L175.0,653.3 L171.0,654.3 L167.0,655.3 L163.0,656.3 L159.0,657.3 L155.0,658.4 L151.0,659.6 L147.0,660.8 L143.0,662.1 L139.0,663.5 L135.0,665.0 L131.0,666.6Z" fill="#999" fill-opacity="0.135"/>
<path d="M131.0,631.6 L135.0,631.9 L139.0,632.1 L143.0,632.3 L147.0,632.4 L151.0,632.5 L155.0,632.5 L159.0,632.5 L163.0,632.5 L167.0,632.4 L171.0,632.2 L175.0,632.0 L179.0,631.8 L183.0,631.5 L187.0,631.2 L191.0,630.8 L195.0,630.4 L199.0,629.9 L203.0,629.4 L207.0,628.8 L211.0,628.2 L215.0,627.6 L219.0,626.9 L223.0,626.1 L227.0,625.3 L231.0,624.5 L235.0,623.6 L239.0,622.7 L243.0,621.7 L247.0,620.7 L251.0,619.7 L255.0,618.5 L259.0,617.4 L263.0,616.2 L267.0,614.9 L271.0,613.7 L275.0,612.3 L279.0,611.0 L283.0,609.5 L287.0,608.1 L291.0,606.6 L295.0,605.0 L299.0,603.4 L303.0,601.8 L307.0,600.1 L311.0,598.3 L315.0,596.6 L319.0,594.7 L323.0,592.9 L327.0,591.0 L331.0,589.0 L335.0,587.0 L339.0,585.0 L343.0,582.9 L347.0,580.8 L351.0,578.6 L355.0,576.4 L359.0,574.1 L363.0,571.8 L367.0,569.5 L371.0,567.1 L375.0,564.7 L379.0,562.2 L383.0,559.7 L387.0,557.2 L391.0,554.6 L395.0,551.9 L399.0,549.2 L403.0,546.5 L407.0,543.7 L411.0,540.9 L415.0,538.1 L419.0,535.2 L423.0,532.3 L427.0,529.3 L431.0,526.3 L435.0,523.2 L439.0,520.1 L443.0,517.0 L447.0,513.8 L451.0,510.6 L455.0,507.3 L459.0,504.1 L463.0,500.8 L467.0,497.5 L471.0,494.1 L475.0,490.8 L479.0,487.4 L483.0,484.0 L487.0,480.6 L491.0,477.2 L495.0,473.8 L499.0,470.3 L503.0,466.9 L507.0,463.4 L511.0,460.0 L515.0,456.6 L519.0,453.1 L523.0,449.7 L527.0,446.2 L531.0,442.8 L535.0,439.4 L539.0,436.0 L543.0,432.6 L547.0,429.3 L551.0,425.9 L555.0,422.6 L559.0,419.3 L563.0,416.0 L567.0,412.8 L571.0,409.6 L575.0,406.4 L579.0,403.3 L583.0,400.2 L587.0,397.1 L591.0,394.0 L595.0,391.0 L599.0,388.0 L603.0,385.0 L607.0,382.0 L611.0,379.1 L615.0,376.1 L619.0,373.1 L623.0,370.2 L627.0,367.2 L631.0,364.3 L635.0,361.4 L639.0,358.5 L643.0,355.6 L647.0,352.7 L651.0,349.8 L655.0,346.9 L659.0,344.1 L663.0,341.3 L667.0,338.5 L671.0,335.7 L675.0,333.0 L679.0,330.3 L683.0,327.7 L687.0,325.1 L691.0,322.5 L695.0,320.0 L699.0,317.6 L703.0,315.2 L707.0,312.8 L711.0,310.6 L715.0,308.3 L719.0,306.2 L723.0,304.1 L727.0,302.1 L731.0,300.1 L735.0,298.2 L739.0,296.4 L743.0,294.7 L747.0,293.0 L751.0,291.4 L755.0,289.9 L759.0,288.5 L763.0,287.1 L767.0,285.8 L771.0,284.6 L775.0,283.5 L779.0,282.5 L783.0,281.5 L787.0,280.6 L791.0,279.7 L795.0,279.0 L799.0,278.2 L803.0,277.5 L807.0,276.9 L811.0,276.3 L815.0,275.8 L819.0,275.3 L823.0,274.8 L827.0,274.4 L831.0,274.1 L835.0,273.8 L839.0,273.6 L843.0,273.4 L847.0,273.3 L851.0,273.2 L855.0,273.2 L859.0,273.2 L863.0,273.3 L867.0,273.5 L871.0,273.7 L875.0,274.0 L879.0,274.3 L883.0,274.7 L887.0,275.2 L891.0,275.7 L895.0,276.3 L899.0,276.9 L903.0,277.6 L907.0,278.4 L911.0,279.2 L915.0,280.1 L919.0,281.1 L923.0,282.1 L927.0,283.2 L931.0,284.4 L935.0,285.6 L939.0,286.9 L943.0,288.3 L947.0,289.8 L951.0,291.3 L955.0,292.9 L959.0,294.5 L963.0,296.3 L967.0,298.1 L971.0,299.9 L975.0,301.9 L979.0,303.9 L983.0,306.0 L986.0,307.7" fill="none" stroke="#F5696A" stroke-width="4.5" stroke-linejoin="round"/>
<path d="M131.0,601.2 L135.0,602.8 L139.0,604.2 L143.0,605.5 L147.0,606.7 L151.0,607.7 L155.0,608.7 L159.0,609.5 L163.0,610.2 L167.0,610.9 L171.0,611.4 L175.0,611.9 L179.0,612.3 L183.0,612.6 L187.0,612.9 L191.0,613.1 L195.0,613.2 L199.0,613.2 L203.0,613.2 L207.0,613.1 L211.0,613.0 L215.0,612.8 L219.0,612.6 L223.0,612.3 L227.0,611.9 L231.0,611.4 L235.0,610.9 L239.0,610.4 L243.0,609.8 L247.0,609.1 L251.0,608.3 L255.0,607.5 L259.0,606.6 L263.0,605.7 L267.0,604.7 L271.0,603.6 L275.0,602.4 L279.0,601.2 L283.0,599.9 L287.0,598.5 L291.0,597.0 L295.0,595.5 L299.0,593.9 L303.0,592.2 L307.0,590.4 L311.0,588.6 L315.0,586.7 L319.0,584.7 L323.0,582.7 L327.0,580.7 L331.0,578.6 L335.0,576.4 L339.0,574.3 L343.0,572.1 L347.0,569.8 L351.0,567.5 L355.0,565.2 L359.0,562.9 L363.0,560.6 L367.0,558.3 L371.0,555.9 L375.0,553.6 L379.0,551.2 L383.0,548.9 L387.0,546.5 L391.0,544.2 L395.0,541.9 L399.0,539.6 L403.0,537.3 L407.0,535.1 L411.0,532.8 L415.0,530.7 L419.0,528.5 L423.0,526.4 L427.0,524.3 L431.0,522.3 L435.0,520.3 L439.0,518.4 L443.0,516.6 L447.0,514.8 L451.0,513.1 L455.0,511.4 L459.0,509.7 L463.0,508.1 L467.0,506.6 L471.0,505.0 L475.0,503.5 L479.0,502.0 L483.0,500.5 L487.0,499.0 L491.0,497.5 L495.0,496.0 L499.0,494.5 L503.0,492.9 L507.0,491.4 L511.0,489.8 L515.0,488.1 L519.0,486.5 L523.0,484.7 L527.0,482.9 L531.0,481.1 L535.0,479.2 L539.0,477.2 L543.0,475.1 L547.0,472.9 L551.0,470.7 L555.0,468.3 L559.0,465.9 L563.0,463.3 L567.0,460.7 L571.0,457.9 L575.0,455.0 L579.0,452.0 L583.0,448.9 L587.0,445.7 L591.0,442.4 L595.0,439.1 L599.0,435.6 L603.0,432.1 L607.0,428.5 L611.0,424.9 L615.0,421.3 L619.0,417.6 L623.0,414.0 L627.0,410.3 L631.0,406.6 L635.0,403.0 L639.0,399.4 L643.0,395.8 L647.0,392.2 L651.0,388.7 L655.0,385.2 L659.0,381.6 L663.0,378.1 L667.0,374.7 L671.0,371.2 L675.0,367.8 L679.0,364.4 L683.0,361.0 L687.0,357.6 L691.0,354.3 L695.0,351.0 L699.0,347.7 L703.0,344.4 L707.0,341.1 L711.0,337.9 L715.0,334.7 L719.0,331.5 L723.0,328.3 L727.0,325.2 L731.0,322.1 L735.0,319.1 L739.0,316.1 L743.0,313.2 L747.0,310.4 L751.0,307.6 L755.0,304.9 L759.0,302.3 L763.0,299.8 L767.0,297.4 L771.0,295.1 L775.0,292.9 L779.0,290.8 L783.0,288.8 L787.0,286.9 L791.0,285.1 L795.0,283.4 L799.0,281.8 L803.0,280.3 L807.0,278.9 L811.0,277.6 L815.0,276.4 L819.0,275.2 L823.0,274.2 L827.0,273.2 L831.0,272.4 L835.0,271.6 L839.0,270.9 L843.0,270.2 L847.0,269.7 L851.0,269.2 L855.0,268.8 L859.0,268.5 L863.0,268.3 L867.0,268.2 L871.0,268.1 L875.0,268.1 L879.0,268.1 L883.0,268.2 L887.0,268.4 L891.0,268.7 L895.0,269.0 L899.0,269.4 L903.0,269.8 L907.0,270.3 L911.0,270.8 L915.0,271.4 L919.0,272.1 L923.0,272.8 L927.0,273.5 L931.0,274.3 L935.0,275.1 L939.0,276.0 L943.0,276.8 L947.0,277.8 L951.0,278.7 L955.0,279.6 L959.0,280.6 L963.0,281.5 L967.0,282.5 L971.0,283.4 L975.0,284.2 L979.0,285.0 L983.0,285.8 L987.0,286.4 L991.0,286.9 L995.0,287.3 L996.0,287.3 L996.0,342.3 L995.0,341.3 L991.0,337.5 L987.0,333.9 L983.0,330.6 L979.0,327.5 L975.0,324.6 L971.0,322.0 L967.0,319.5 L963.0,317.2 L959.0,315.0 L955.0,313.0 L951.0,311.2 L947.0,309.4 L943.0,307.8 L939.0,306.3 L935.0,304.9 L931.0,303.6 L927.0,302.4 L923.0,301.3 L919.0,300.3 L915.0,299.4 L911.0,298.5 L907.0,297.8 L903.0,297.1 L899.0,296.5 L895.0,296.0 L891.0,295.6 L887.0,295.2 L883.0,294.9 L879.0,294.7 L875.0,294.6 L871.0,294.5 L867.0,294.5 L863.0,294.7 L859.0,294.8 L855.0,295.1 L851.0,295.5 L847.0,295.9 L843.0,296.4 L839.0,297.0 L835.0,297.7 L831.0,298.5 L827.0,299.3 L823.0,300.3 L819.0,301.3 L815.0,302.4 L811.0,303.7 L807.0,305.0 L803.0,306.4 L799.0,307.9 L795.0,309.5 L791.0,311.2 L787.0,312.9 L783.0,314.8 L779.0,316.8 L775.0,318.9 L771.0,321.1 L767.0,323.4 L763.0,325.8 L759.0,328.3 L755.0,330.9 L751.0,333.6 L747.0,336.4 L743.0,339.2 L739.0,342.1 L735.0,345.1 L731.0,348.1 L727.0,351.2 L723.0,354.3 L719.0,357.5 L715.0,360.7 L711.0,363.9 L707.0,367.1 L703.0,370.4 L699.0,373.7 L695.0,377.0 L691.0,380.3 L687.0,383.6 L683.0,387.0 L679.0,390.4 L675.0,393.8 L671.0,397.2 L667.0,400.7 L663.0,404.1 L659.0,407.6 L655.0,411.2 L651.0,414.7 L647.0,418.2 L643.0,421.8 L639.0,425.4 L635.0,429.0 L631.0,432.6 L627.0,436.3 L623.0,440.0 L619.0,443.6 L615.0,447.3 L611.0,450.9 L607.0,454.5 L603.0,458.1 L599.0,461.6 L595.0,465.1 L591.0,468.4 L587.0,471.7 L583.0,474.9 L579.0,478.0 L575.0,481.0 L571.0,483.9 L567.0,486.7 L563.0,489.3 L559.0,491.9 L555.0,494.3 L551.0,496.7 L547.0,498.9 L543.0,501.1 L539.0,503.2 L535.0,505.2 L531.0,507.1 L527.0,508.9 L523.0,510.7 L519.0,512.5 L515.0,514.2 L511.0,515.8 L507.0,517.4 L503.0,519.0 L499.0,520.5 L495.0,522.0 L491.0,523.5 L487.0,525.0 L483.0,526.5 L479.0,528.0 L475.0,529.5 L471.0,531.0 L467.0,532.6 L463.0,534.2 L459.0,535.8 L455.0,537.4 L451.0,539.1 L447.0,540.8 L443.0,542.6 L439.0,544.5 L435.0,546.4 L431.0,548.4 L427.0,550.4 L423.0,552.5 L419.0,554.6 L415.0,556.7 L411.0,558.9 L407.0,561.2 L403.0,563.4 L399.0,565.7 L395.0,568.0 L391.0,570.3 L387.0,572.7 L383.0,575.0 L379.0,577.4 L375.0,579.8 L371.0,582.1 L367.0,584.5 L363.0,586.9 L359.0,589.2 L355.0,591.6 L351.0,593.9 L347.0,596.2 L343.0,598.5 L339.0,600.7 L335.0,602.9 L331.0,605.1 L327.0,607.3 L323.0,609.4 L319.0,611.4 L315.0,613.4 L311.0,615.4 L307.0,617.3 L303.0,619.1 L299.0,620.9 L295.0,622.6 L291.0,624.3 L287.0,625.9 L283.0,627.4 L279.0,628.8 L275.0,630.2 L271.0,631.5 L267.0,632.8 L263.0,634.0 L259.0,635.2 L255.0,636.3 L251.0,637.4 L247.0,638.4 L243.0,639.4 L239.0,640.4 L235.0,641.3 L231.0,642.2 L227.0,643.1 L223.0,644.0 L219.0,644.8 L215.0,645.6 L211.0,646.5 L207.0,647.3 L203.0,648.1 L199.0,648.9 L195.0,649.8 L191.0,650.7 L187.0,651.5 L183.0,652.5 L179.0,653.4 L175.0,654.4 L171.0,655.5 L167.0,656.6 L163.0,657.8 L159.0,659.1 L155.0,660.5 L151.0,661.9 L147.0,663.5 L143.0,665.2 L139.0,667.1 L135.0,669.1 L131.0,671.2Z" fill="#999" fill-opacity="0.135"/>
<path d="M131.0,636.2 L135.0,635.9 L139.0,635.7 L143.0,635.4 L147.0,635.1 L151.0,634.8 L155.0,634.6 L159.0,634.3 L163.0,634.0 L167.0,633.7 L171.0,633.5 L175.0,633.2 L179.0,632.9 L183.0,632.5 L187.0,632.2 L191.0,631.9 L195.0,631.5 L199.0,631.1 L203.0,630.7 L207.0,630.2 L211.0,629.7 L215.0,629.2 L219.0,628.7 L223.0,628.1 L227.0,627.5 L231.0,626.8 L235.0,626.1 L239.0,625.4 L243.0,624.6 L247.0,623.8 L251.0,622.9 L255.0,621.9 L259.0,620.9 L263.0,619.9 L267.0,618.7 L271.0,617.6 L275.0,616.3 L279.0,615.0 L283.0,613.6 L287.0,612.2 L291.0,610.7 L295.0,609.1 L299.0,607.4 L303.0,605.7 L307.0,603.9 L311.0,602.0 L315.0,600.1 L319.0,598.1 L323.0,596.0 L327.0,594.0 L331.0,591.8 L335.0,589.7 L339.0,587.5 L343.0,585.3 L347.0,583.0 L351.0,580.7 L355.0,578.4 L359.0,576.1 L363.0,573.7 L367.0,571.4 L371.0,569.0 L375.0,566.7 L379.0,564.3 L383.0,562.0 L387.0,559.6 L391.0,557.3 L395.0,554.9 L399.0,552.6 L403.0,550.4 L407.0,548.1 L411.0,545.9 L415.0,543.7 L419.0,541.5 L423.0,539.4 L427.0,537.4 L431.0,535.3 L435.0,533.4 L439.0,531.5 L443.0,529.6 L447.0,527.8 L451.0,526.1 L455.0,524.4 L459.0,522.7 L463.0,521.1 L467.0,519.6 L471.0,518.0 L475.0,516.5 L479.0,515.0 L483.0,513.5 L487.0,512.0 L491.0,510.5 L495.0,509.0 L499.0,507.5 L503.0,506.0 L507.0,504.4 L511.0,502.8 L515.0,501.1 L519.0,499.5 L523.0,497.7 L527.0,495.9 L531.0,494.1 L535.0,492.2 L539.0,490.2 L543.0,488.1 L547.0,485.9 L551.0,483.7 L555.0,481.3 L559.0,478.9 L563.0,476.3 L567.0,473.7 L571.0,470.9 L575.0,468.0 L579.0,465.0 L583.0,461.9 L587.0,458.7 L591.0,455.4 L595.0,452.1 L599.0,448.6 L603.0,445.1 L607.0,441.5 L611.0,437.9 L615.0,434.3 L619.0,430.6 L623.0,427.0 L627.0,423.3 L631.0,419.6 L635.0,416.0 L639.0,412.4 L643.0,408.8 L647.0,405.2 L651.0,401.7 L655.0,398.2 L659.0,394.6 L663.0,391.1 L667.0,387.7 L671.0,384.2 L675.0,380.8 L679.0,377.4 L683.0,374.0 L687.0,370.6 L691.0,367.3 L695.0,364.0 L699.0,360.7 L703.0,357.4 L707.0,354.1 L711.0,350.9 L715.0,347.7 L719.0,344.5 L723.0,341.3 L727.0,338.2 L731.0,335.1 L735.0,332.1 L739.0,329.1 L743.0,326.2 L747.0,323.4 L751.0,320.6 L755.0,317.9 L759.0,315.3 L763.0,312.8 L767.0,310.4 L771.0,308.1 L775.0,305.9 L779.0,303.8 L783.0,301.8 L787.0,299.9 L791.0,298.1 L795.0,296.5 L799.0,294.9 L803.0,293.4 L807.0,291.9 L811.0,290.6 L815.0,289.4 L819.0,288.3 L823.0,287.2 L827.0,286.3 L831.0,285.4 L835.0,284.6 L839.0,283.9 L843.0,283.3 L847.0,282.8 L851.0,282.3 L855.0,282.0 L859.0,281.7 L863.0,281.5 L867.0,281.3 L871.0,281.3 L875.0,281.3 L879.0,281.4 L883.0,281.6 L887.0,281.8 L891.0,282.1 L895.0,282.5 L899.0,282.9 L903.0,283.4 L907.0,284.0 L911.0,284.7 L915.0,285.4 L919.0,286.2 L923.0,287.0 L927.0,287.9 L931.0,288.9 L935.0,290.0 L939.0,291.1 L943.0,292.3 L947.0,293.6 L951.0,294.9 L955.0,296.3 L959.0,297.8 L963.0,299.3 L967.0,301.0 L971.0,302.7 L975.0,304.4 L979.0,306.3 L983.0,308.2 L987.0,310.1 L991.0,312.2 L995.0,314.3 L996.0,314.8" fill="none" stroke="#D0850C" stroke-width="4.5" stroke-linejoin="round"/>
<path d="M131.0,586.4 L135.0,588.9 L139.0,591.2 L143.0,593.2 L147.0,595.0 L151.0,596.7 L155.0,598.1 L159.0,599.4 L163.0,600.5 L167.0,601.5 L171.0,602.3 L175.0,603.0 L179.0,603.6 L183.0,604.0 L187.0,604.3 L191.0,604.5 L195.0,604.5 L199.0,604.5 L203.0,604.4 L207.0,604.1 L211.0,603.8 L215.0,603.4 L219.0,602.9 L223.0,602.3 L227.0,601.6 L231.0,600.8 L235.0,599.9 L239.0,599.0 L243.0,598.0 L247.0,596.9 L251.0,595.7 L255.0,594.5 L259.0,593.2 L263.0,591.8 L267.0,590.3 L271.0,588.8 L275.0,587.2 L279.0,585.6 L283.0,583.8 L287.0,582.0 L291.0,580.2 L295.0,578.3 L299.0,576.3 L303.0,574.3 L307.0,572.2 L311.0,570.0 L315.0,567.8 L319.0,565.5 L323.0,563.2 L327.0,560.8 L331.0,558.4 L335.0,555.9 L339.0,553.3 L343.0,550.7 L347.0,548.0 L351.0,545.3 L355.0,542.5 L359.0,539.7 L363.0,536.8 L367.0,533.8 L371.0,530.8 L375.0,527.8 L379.0,524.7 L383.0,521.5 L387.0,518.3 L391.0,515.1 L395.0,511.8 L399.0,508.4 L403.0,505.0 L407.0,501.6 L411.0,498.1 L415.0,494.5 L419.0,490.9 L423.0,487.3 L427.0,483.6 L431.0,479.9 L435.0,476.1 L439.0,472.3 L443.0,468.5 L447.0,464.6 L451.0,460.8 L455.0,456.8 L459.0,452.9 L463.0,448.9 L467.0,444.9 L471.0,440.8 L475.0,436.8 L479.0,432.7 L483.0,428.6 L487.0,424.5 L491.0,420.3 L495.0,416.2 L499.0,412.1 L503.0,407.9 L507.0,403.8 L511.0,399.7 L515.0,395.6 L519.0,391.5 L523.0,387.5 L527.0,383.6 L531.0,379.7 L535.0,375.8 L539.0,372.1 L543.0,368.4 L547.0,364.8 L551.0,361.3 L555.0,357.9 L559.0,354.6 L563.0,351.4 L567.0,348.3 L571.0,345.2 L575.0,342.3 L579.0,339.5 L583.0,336.7 L587.0,334.1 L591.0,331.5 L595.0,329.0 L599.0,326.5 L603.0,324.2 L607.0,321.9 L611.0,319.6 L615.0,317.4 L619.0,315.3 L623.0,313.2 L627.0,311.2 L631.0,309.2 L635.0,307.3 L639.0,305.4 L643.0,303.5 L647.0,301.7 L651.0,299.9 L655.0,298.1 L659.0,296.3 L663.0,294.6 L667.0,292.9 L671.0,291.3 L675.0,289.6 L679.0,288.1 L683.0,286.5 L687.0,284.9 L691.0,283.4 L695.0,282.0 L699.0,280.5 L703.0,279.1 L707.0,277.8 L711.0,276.4 L715.0,275.1 L719.0,273.9 L723.0,272.7 L727.0,271.5 L731.0,270.3 L735.0,269.2 L739.0,268.2 L743.0,267.1 L747.0,266.1 L751.0,265.2 L755.0,264.3 L759.0,263.4 L763.0,262.6 L767.0,261.8 L771.0,261.1 L775.0,260.4 L779.0,259.8 L783.0,259.2 L787.0,258.6 L791.0,258.1 L795.0,257.6 L799.0,257.2 L803.0,256.9 L807.0,256.6 L811.0,256.3 L815.0,256.1 L819.0,255.9 L823.0,255.8 L827.0,255.7 L831.0,255.6 L835.0,255.7 L839.0,255.7 L843.0,255.8 L847.0,256.0 L851.0,256.1 L855.0,256.4 L859.0,256.7 L863.0,257.0 L867.0,257.3 L871.0,257.7 L875.0,258.2 L879.0,258.7 L883.0,259.2 L887.0,259.7 L891.0,260.3 L895.0,260.9 L899.0,261.6 L903.0,262.3 L907.0,263.0 L911.0,263.7 L915.0,264.5 L919.0,265.3 L923.0,266.1 L927.0,266.9 L931.0,267.7 L935.0,268.5 L939.0,269.3 L943.0,270.1 L947.0,270.9 L951.0,271.7 L955.0,272.4 L959.0,273.0 L963.0,273.6 L967.0,274.2 L971.0,274.6 L975.0,274.9 L979.0,275.1 L983.0,275.1 L986.0,275.0 L986.0,330.0 L983.0,327.3 L979.0,324.0 L975.0,321.0 L971.0,318.2 L967.0,315.6 L963.0,313.1 L959.0,310.8 L955.0,308.7 L951.0,306.7 L947.0,304.8 L943.0,303.0 L939.0,301.4 L935.0,299.8 L931.0,298.3 L927.0,296.9 L923.0,295.6 L919.0,294.4 L915.0,293.2 L911.0,292.1 L907.0,291.1 L903.0,290.1 L899.0,289.2 L895.0,288.3 L891.0,287.5 L887.0,286.8 L883.0,286.1 L879.0,285.5 L875.0,284.9 L871.0,284.4 L867.0,283.9 L863.0,283.5 L859.0,283.1 L855.0,282.7 L851.0,282.5 L847.0,282.2 L843.0,282.1 L839.0,281.9 L835.0,281.8 L831.0,281.8 L827.0,281.8 L823.0,281.9 L819.0,282.0 L815.0,282.2 L811.0,282.4 L807.0,282.6 L803.0,282.9 L799.0,283.3 L795.0,283.7 L791.0,284.1 L787.0,284.7 L783.0,285.2 L779.0,285.8 L775.0,286.4 L771.0,287.1 L767.0,287.9 L763.0,288.6 L759.0,289.4 L755.0,290.3 L751.0,291.2 L747.0,292.2 L743.0,293.1 L739.0,294.2 L735.0,295.2 L731.0,296.3 L727.0,297.5 L723.0,298.7 L719.0,299.9 L715.0,301.2 L711.0,302.4 L707.0,303.8 L703.0,305.1 L699.0,306.5 L695.0,308.0 L691.0,309.4 L687.0,311.0 L683.0,312.5 L679.0,314.1 L675.0,315.7 L671.0,317.3 L667.0,318.9 L663.0,320.6 L659.0,322.3 L655.0,324.1 L651.0,325.9 L647.0,327.7 L643.0,329.5 L639.0,331.4 L635.0,333.3 L631.0,335.2 L627.0,337.2 L623.0,339.2 L619.0,341.3 L615.0,343.4 L611.0,345.6 L607.0,347.9 L603.0,350.2 L599.0,352.5 L595.0,355.0 L591.0,357.5 L587.0,360.1 L583.0,362.7 L579.0,365.5 L575.0,368.3 L571.0,371.2 L567.0,374.3 L563.0,377.4 L559.0,380.6 L555.0,383.9 L551.0,387.3 L547.0,390.8 L543.0,394.4 L539.0,398.1 L535.0,401.8 L531.0,405.7 L527.0,409.6 L523.0,413.5 L519.0,417.5 L515.0,421.6 L511.0,425.7 L507.0,429.8 L503.0,433.9 L499.0,438.1 L495.0,442.2 L491.0,446.4 L487.0,450.5 L483.0,454.6 L479.0,458.7 L475.0,462.8 L471.0,466.9 L467.0,470.9 L463.0,474.9 L459.0,478.9 L455.0,482.9 L451.0,486.8 L447.0,490.7 L443.0,494.6 L439.0,498.4 L435.0,502.2 L431.0,505.9 L427.0,509.7 L423.0,513.3 L419.0,517.0 L415.0,520.6 L411.0,524.1 L407.0,527.6 L403.0,531.1 L399.0,534.5 L395.0,537.9 L391.0,541.2 L387.0,544.5 L383.0,547.7 L379.0,550.9 L375.0,554.0 L371.0,557.0 L367.0,560.1 L363.0,563.0 L359.0,565.9 L355.0,568.8 L351.0,571.6 L347.0,574.4 L343.0,577.1 L339.0,579.7 L335.0,582.3 L331.0,584.9 L327.0,587.4 L323.0,589.8 L319.0,592.2 L315.0,594.5 L311.0,596.8 L307.0,599.1 L303.0,601.2 L299.0,603.4 L295.0,605.4 L291.0,607.5 L287.0,609.4 L283.0,611.3 L279.0,613.2 L275.0,615.0 L271.0,616.8 L267.0,618.5 L263.0,620.1 L259.0,621.7 L255.0,623.3 L251.0,624.8 L247.0,626.2 L243.0,627.6 L239.0,629.0 L235.0,630.3 L231.0,631.6 L227.0,632.8 L223.0,633.9 L219.0,635.1 L215.0,636.2 L211.0,637.2 L207.0,638.3 L203.0,639.3 L199.0,640.2 L195.0,641.2 L191.0,642.1 L187.0,643.0 L183.0,643.8 L179.0,644.7 L175.0,645.6 L171.0,646.4 L167.0,647.3 L163.0,648.1 L159.0,649.0 L155.0,649.9 L151.0,650.9 L147.0,651.8 L143.0,652.9 L139.0,654.0 L135.0,655.2 L131.0,656.4Z" fill="#999" fill-opacity="0.135"/>
<path d="M131.0,621.4 L135.0,622.0 L139.0,622.6 L143.0,623.0 L147.0,623.4 L151.0,623.8 L155.0,624.0 L159.0,624.2 L163.0,624.3 L167.0,624.4 L171.0,624.4 L175.0,624.3 L179.0,624.1 L183.0,623.9 L187.0,623.6 L191.0,623.3 L195.0,622.9 L199.0,622.4 L203.0,621.8 L207.0,621.2 L211.0,620.5 L215.0,619.8 L219.0,619.0 L223.0,618.1 L227.0,617.2 L231.0,616.2 L235.0,615.1 L239.0,614.0 L243.0,612.8 L247.0,611.5 L251.0,610.2 L255.0,608.9 L259.0,607.4 L263.0,605.9 L267.0,604.4 L271.0,602.8 L275.0,601.1 L279.0,599.4 L283.0,597.6 L287.0,595.7 L291.0,593.8 L295.0,591.9 L299.0,589.8 L303.0,587.8 L307.0,585.6 L311.0,583.4 L315.0,581.2 L319.0,578.9 L323.0,576.5 L327.0,574.1 L331.0,571.6 L335.0,569.1 L339.0,566.5 L343.0,563.9 L347.0,561.2 L351.0,558.4 L355.0,555.6 L359.0,552.8 L363.0,549.9 L367.0,546.9 L371.0,543.9 L375.0,540.9 L379.0,537.8 L383.0,534.6 L387.0,531.4 L391.0,528.1 L395.0,524.8 L399.0,521.5 L403.0,518.1 L407.0,514.6 L411.0,511.1 L415.0,507.5 L419.0,504.0 L423.0,500.3 L427.0,496.6 L431.0,492.9 L435.0,489.2 L439.0,485.4 L443.0,481.5 L447.0,477.7 L451.0,473.8 L455.0,469.8 L459.0,465.9 L463.0,461.9 L467.0,457.9 L471.0,453.9 L475.0,449.8 L479.0,445.7 L483.0,441.6 L487.0,437.5 L491.0,433.4 L495.0,429.2 L499.0,425.1 L503.0,420.9 L507.0,416.8 L511.0,412.7 L515.0,408.6 L519.0,404.5 L523.0,400.5 L527.0,396.6 L531.0,392.7 L535.0,388.8 L539.0,385.1 L543.0,381.4 L547.0,377.8 L551.0,374.3 L555.0,370.9 L559.0,367.6 L563.0,364.4 L567.0,361.3 L571.0,358.2 L575.0,355.3 L579.0,352.5 L583.0,349.7 L587.0,347.1 L591.0,344.5 L595.0,342.0 L599.0,339.5 L603.0,337.2 L607.0,334.9 L611.0,332.6 L615.0,330.4 L619.0,328.3 L623.0,326.2 L627.0,324.2 L631.0,322.2 L635.0,320.3 L639.0,318.4 L643.0,316.5 L647.0,314.7 L651.0,312.9 L655.0,311.1 L659.0,309.3 L663.0,307.6 L667.0,305.9 L671.0,304.3 L675.0,302.7 L679.0,301.1 L683.0,299.5 L687.0,298.0 L691.0,296.4 L695.0,295.0 L699.0,293.5 L703.0,292.1 L707.0,290.8 L711.0,289.4 L715.0,288.1 L719.0,286.9 L723.0,285.7 L727.0,284.5 L731.0,283.3 L735.0,282.2 L739.0,281.2 L743.0,280.1 L747.0,279.2 L751.0,278.2 L755.0,277.3 L759.0,276.4 L763.0,275.6 L767.0,274.8 L771.0,274.1 L775.0,273.4 L779.0,272.8 L783.0,272.2 L787.0,271.6 L791.0,271.1 L795.0,270.7 L799.0,270.3 L803.0,269.9 L807.0,269.6 L811.0,269.3 L815.0,269.1 L819.0,268.9 L823.0,268.8 L827.0,268.8 L831.0,268.7 L835.0,268.7 L839.0,268.8 L843.0,268.9 L847.0,269.1 L851.0,269.3 L855.0,269.6 L859.0,269.9 L863.0,270.2 L867.0,270.6 L871.0,271.0 L875.0,271.5 L879.0,272.1 L883.0,272.6 L887.0,273.3 L891.0,273.9 L895.0,274.6 L899.0,275.4 L903.0,276.2 L907.0,277.0 L911.0,277.9 L915.0,278.9 L919.0,279.8 L923.0,280.8 L927.0,281.9 L931.0,283.0 L935.0,284.2 L939.0,285.4 L943.0,286.6 L947.0,287.9 L951.0,289.2 L955.0,290.5 L959.0,291.9 L963.0,293.4 L967.0,294.9 L971.0,296.4 L975.0,298.0 L979.0,299.6 L983.0,301.2 L986.0,302.5" fill="none" stroke="#9C9C0A" stroke-width="4.5" stroke-linejoin="round"/>
<path d="M131.0,572.0 L135.0,575.6 L139.0,578.9 L143.0,582.1 L147.0,585.0 L151.0,587.8 L155.0,590.5 L159.0,592.9 L163.0,595.3 L167.0,597.5 L171.0,599.5 L175.0,601.5 L179.0,603.3 L183.0,605.0 L187.0,606.6 L191.0,608.1 L195.0,609.6 L199.0,610.9 L203.0,612.1 L207.0,613.3 L211.0,614.4 L215.0,615.4 L219.0,616.3 L223.0,617.1 L227.0,617.9 L231.0,618.6 L235.0,619.3 L239.0,619.9 L243.0,620.4 L247.0,620.8 L251.0,621.2 L255.0,621.6 L259.0,621.8 L263.0,622.1 L267.0,622.2 L271.0,622.4 L275.0,622.4 L279.0,622.4 L283.0,622.4 L287.0,622.3 L291.0,622.2 L295.0,622.0 L299.0,621.7 L303.0,621.4 L307.0,621.1 L311.0,620.7 L315.0,620.3 L319.0,619.8 L323.0,619.3 L327.0,618.7 L331.0,618.1 L335.0,617.4 L339.0,616.7 L343.0,616.0 L347.0,615.2 L351.0,614.4 L355.0,613.5 L359.0,612.6 L363.0,611.6 L367.0,610.6 L371.0,609.5 L375.0,608.4 L379.0,607.3 L383.0,606.0 L387.0,604.8 L391.0,603.4 L395.0,602.0 L399.0,600.6 L403.0,599.0 L407.0,597.4 L411.0,595.7 L415.0,594.0 L419.0,592.1 L423.0,590.2 L427.0,588.1 L431.0,586.0 L435.0,583.8 L439.0,581.5 L443.0,579.1 L447.0,576.6 L451.0,574.0 L455.0,571.3 L459.0,568.4 L463.0,565.5 L467.0,562.4 L471.0,559.3 L475.0,556.0 L479.0,552.7 L483.0,549.3 L487.0,545.8 L491.0,542.3 L495.0,538.8 L499.0,535.2 L503.0,531.6 L507.0,528.0 L511.0,524.3 L515.0,520.7 L519.0,517.0 L523.0,513.4 L527.0,509.8 L531.0,506.1 L535.0,502.5 L539.0,498.9 L543.0,495.3 L547.0,491.8 L551.0,488.2 L555.0,484.7 L559.0,481.2 L563.0,477.6 L567.0,474.1 L571.0,470.5 L575.0,466.9 L579.0,463.3 L583.0,459.7 L587.0,456.0 L591.0,452.3 L595.0,448.6 L599.0,444.9 L603.0,441.1 L607.0,437.4 L611.0,433.7 L615.0,430.0 L619.0,426.4 L623.0,422.7 L627.0,419.2 L631.0,415.6 L635.0,412.2 L639.0,408.8 L643.0,405.5 L647.0,402.2 L651.0,399.0 L655.0,395.9 L659.0,392.8 L663.0,389.8 L667.0,386.7 L671.0,383.7 L675.0,380.8 L679.0,377.8 L683.0,374.8 L687.0,371.7 L691.0,368.7 L695.0,365.8 L699.0,362.8 L703.0,359.8 L707.0,356.9 L711.0,353.9 L715.0,351.1 L719.0,348.2 L723.0,345.4 L727.0,342.6 L731.0,339.9 L735.0,337.2 L739.0,334.5 L743.0,332.0 L747.0,329.5 L751.0,327.0 L755.0,324.6 L759.0,322.3 L763.0,320.1 L767.0,318.0 L771.0,315.9 L775.0,314.0 L779.0,312.1 L783.0,310.3 L787.0,308.6 L791.0,306.9 L795.0,305.3 L799.0,303.9 L803.0,302.4 L807.0,301.1 L811.0,299.9 L815.0,298.7 L819.0,297.5 L823.0,296.5 L827.0,295.5 L831.0,294.6 L835.0,293.8 L839.0,293.0 L843.0,292.3 L847.0,291.6 L851.0,291.1 L855.0,290.5 L859.0,290.1 L863.0,289.7 L867.0,289.3 L871.0,289.0 L875.0,288.8 L879.0,288.6 L883.0,288.4 L887.0,288.3 L891.0,288.3 L895.0,288.2 L899.0,288.3 L903.0,288.3 L907.0,288.4 L911.0,288.5 L915.0,288.7 L919.0,288.9 L923.0,289.1 L927.0,289.3 L931.0,289.5 L935.0,289.7 L939.0,289.9 L943.0,290.1 L947.0,290.3 L951.0,290.4 L955.0,290.5 L959.0,290.5 L963.0,290.5 L967.0,290.4 L971.0,290.2 L975.0,289.8 L979.0,289.3 L983.0,288.6 L986.0,288.0 L986.0,349.0 L983.0,346.9 L979.0,344.3 L975.0,341.9 L971.0,339.7 L967.0,337.8 L963.0,336.0 L959.0,334.3 L955.0,332.8 L951.0,331.4 L947.0,330.2 L943.0,329.0 L939.0,327.9 L935.0,327.0 L931.0,326.1 L927.0,325.3 L923.0,324.6 L919.0,324.0 L915.0,323.4 L911.0,322.9 L907.0,322.5 L903.0,322.1 L899.0,321.9 L895.0,321.6 L891.0,321.5 L887.0,321.4 L883.0,321.3 L879.0,321.4 L875.0,321.5 L871.0,321.6 L867.0,321.9 L863.0,322.1 L859.0,322.5 L855.0,322.9 L851.0,323.4 L847.0,323.9 L843.0,324.5 L839.0,325.2 L835.0,326.0 L831.0,326.8 L827.0,327.7 L823.0,328.6 L819.0,329.7 L815.0,330.8 L811.0,331.9 L807.0,333.2 L803.0,334.5 L799.0,335.9 L795.0,337.4 L791.0,339.0 L787.0,340.6 L783.0,342.3 L779.0,344.1 L775.0,346.0 L771.0,348.0 L767.0,350.0 L763.0,352.1 L759.0,354.4 L755.0,356.6 L751.0,359.0 L747.0,361.5 L743.0,364.0 L739.0,366.5 L735.0,369.2 L731.0,371.9 L727.0,374.6 L723.0,377.4 L719.0,380.2 L715.0,383.1 L711.0,385.9 L707.0,388.9 L703.0,391.8 L699.0,394.8 L695.0,397.8 L691.0,400.8 L687.0,403.8 L683.0,406.8 L679.0,409.8 L675.0,412.8 L671.0,415.7 L667.0,418.8 L663.0,421.8 L659.0,424.8 L655.0,427.9 L651.0,431.0 L647.0,434.2 L643.0,437.5 L639.0,440.8 L635.0,444.2 L631.0,447.6 L627.0,451.2 L623.0,454.7 L619.0,458.4 L615.0,462.0 L611.0,465.7 L607.0,469.4 L603.0,473.1 L599.0,476.9 L595.0,480.6 L591.0,484.3 L587.0,488.0 L583.0,491.7 L579.0,495.3 L575.0,498.9 L571.0,502.5 L567.0,506.1 L563.0,509.6 L559.0,513.2 L555.0,516.7 L551.0,520.2 L547.0,523.8 L543.0,527.3 L539.0,530.9 L535.0,534.5 L531.0,538.1 L527.0,541.8 L523.0,545.4 L519.0,549.1 L515.0,552.7 L511.0,556.3 L507.0,560.0 L503.0,563.6 L499.0,567.2 L495.0,570.8 L491.0,574.4 L487.0,577.9 L483.0,581.3 L479.0,584.7 L475.0,588.0 L471.0,591.3 L467.0,594.4 L463.0,597.5 L459.0,600.5 L455.0,603.3 L451.0,606.0 L447.0,608.6 L443.0,611.2 L439.0,613.6 L435.0,615.9 L431.0,618.1 L427.0,620.2 L423.0,622.2 L419.0,624.2 L415.0,626.0 L411.0,627.8 L407.0,629.5 L403.0,631.1 L399.0,632.7 L395.0,634.2 L391.0,635.6 L387.0,636.9 L383.0,638.2 L379.0,639.4 L375.0,640.6 L371.0,641.7 L367.0,642.8 L363.0,643.8 L359.0,644.8 L355.0,645.8 L351.0,646.7 L347.0,647.6 L343.0,648.4 L339.0,649.2 L335.0,649.9 L331.0,650.6 L327.0,651.3 L323.0,651.9 L319.0,652.5 L315.0,653.0 L311.0,653.5 L307.0,654.0 L303.0,654.4 L299.0,654.8 L295.0,655.1 L291.0,655.4 L287.0,655.7 L283.0,655.9 L279.0,656.1 L275.0,656.2 L271.0,656.3 L267.0,656.4 L263.0,656.4 L259.0,656.4 L255.0,656.4 L251.0,656.3 L247.0,656.2 L243.0,656.0 L239.0,655.8 L235.0,655.6 L231.0,655.4 L227.0,655.1 L223.0,654.8 L219.0,654.5 L215.0,654.2 L211.0,653.8 L207.0,653.4 L203.0,653.0 L199.0,652.6 L195.0,652.2 L191.0,651.7 L187.0,651.3 L183.0,650.9 L179.0,650.4 L175.0,650.0 L171.0,649.6 L167.0,649.2 L163.0,648.9 L159.0,648.6 L155.0,648.3 L151.0,648.0 L147.0,647.9 L143.0,647.8 L139.0,647.8 L135.0,647.8 L131.0,648.0Z" fill="#999" fill-opacity="0.135"/>
<path d="M131.0,610.0 L135.0,611.7 L139.0,613.4 L143.0,614.9 L147.0,616.5 L151.0,617.9 L155.0,619.4 L159.0,620.7 L163.0,622.1 L167.0,623.3 L171.0,624.6 L175.0,625.7 L179.0,626.9 L183.0,627.9 L187.0,629.0 L191.0,629.9 L195.0,630.9 L199.0,631.7 L203.0,632.6 L207.0,633.3 L211.0,634.1 L215.0,634.8 L219.0,635.4 L223.0,636.0 L227.0,636.5 L231.0,637.0 L235.0,637.5 L239.0,637.9 L243.0,638.2 L247.0,638.5 L251.0,638.8 L255.0,639.0 L259.0,639.1 L263.0,639.2 L267.0,639.3 L271.0,639.3 L275.0,639.3 L279.0,639.3 L283.0,639.1 L287.0,639.0 L291.0,638.8 L295.0,638.5 L299.0,638.3 L303.0,637.9 L307.0,637.5 L311.0,637.1 L315.0,636.7 L319.0,636.1 L323.0,635.6 L327.0,635.0 L331.0,634.4 L335.0,633.7 L339.0,632.9 L343.0,632.2 L347.0,631.4 L351.0,630.5 L355.0,629.6 L359.0,628.7 L363.0,627.7 L367.0,626.7 L371.0,625.6 L375.0,624.5 L379.0,623.4 L383.0,622.1 L387.0,620.8 L391.0,619.5 L395.0,618.1 L399.0,616.6 L403.0,615.1 L407.0,613.5 L411.0,611.8 L415.0,610.0 L419.0,608.1 L423.0,606.2 L427.0,604.2 L431.0,602.1 L435.0,599.8 L439.0,597.5 L443.0,595.1 L447.0,592.6 L451.0,590.0 L455.0,587.3 L459.0,584.4 L463.0,581.5 L467.0,578.4 L471.0,575.3 L475.0,572.0 L479.0,568.7 L483.0,565.3 L487.0,561.9 L491.0,558.3 L495.0,554.8 L499.0,551.2 L503.0,547.6 L507.0,544.0 L511.0,540.3 L515.0,536.7 L519.0,533.0 L523.0,529.4 L527.0,525.8 L531.0,522.1 L535.0,518.5 L539.0,514.9 L543.0,511.3 L547.0,507.8 L551.0,504.2 L555.0,500.7 L559.0,497.2 L563.0,493.6 L567.0,490.1 L571.0,486.5 L575.0,482.9 L579.0,479.3 L583.0,475.7 L587.0,472.0 L591.0,468.3 L595.0,464.6 L599.0,460.9 L603.0,457.1 L607.0,453.4 L611.0,449.7 L615.0,446.0 L619.0,442.4 L623.0,438.7 L627.0,435.2 L631.0,431.6 L635.0,428.2 L639.0,424.8 L643.0,421.5 L647.0,418.2 L651.0,415.0 L655.0,411.9 L659.0,408.8 L663.0,405.8 L667.0,402.8 L671.0,399.7 L675.0,396.8 L679.0,393.8 L683.0,390.8 L687.0,387.8 L691.0,384.7 L695.0,381.8 L699.0,378.8 L703.0,375.8 L707.0,372.9 L711.0,369.9 L715.0,367.1 L719.0,364.2 L723.0,361.4 L727.0,358.6 L731.0,355.9 L735.0,353.2 L739.0,350.5 L743.0,348.0 L747.0,345.5 L751.0,343.0 L755.0,340.6 L759.0,338.3 L763.0,336.1 L767.0,334.0 L771.0,331.9 L775.0,330.0 L779.0,328.1 L783.0,326.3 L787.0,324.6 L791.0,322.9 L795.0,321.4 L799.0,319.9 L803.0,318.5 L807.0,317.2 L811.0,315.9 L815.0,314.7 L819.0,313.6 L823.0,312.6 L827.0,311.6 L831.0,310.7 L835.0,309.9 L839.0,309.1 L843.0,308.4 L847.0,307.8 L851.0,307.2 L855.0,306.7 L859.0,306.3 L863.0,305.9 L867.0,305.6 L871.0,305.3 L875.0,305.1 L879.0,305.0 L883.0,304.9 L887.0,304.8 L891.0,304.9 L895.0,304.9 L899.0,305.1 L903.0,305.2 L907.0,305.5 L911.0,305.7 L915.0,306.1 L919.0,306.4 L923.0,306.8 L927.0,307.3 L931.0,307.8 L935.0,308.3 L939.0,308.9 L943.0,309.5 L947.0,310.2 L951.0,310.9 L955.0,311.6 L959.0,312.4 L963.0,313.2 L967.0,314.1 L971.0,315.0 L975.0,315.9 L979.0,316.8 L983.0,317.8 L986.0,318.5" fill="none" stroke="#30B214" stroke-width="4.5" stroke-linejoin="round"/>
<path d="M131.0,595.0 L135.0,597.3 L139.0,599.4 L143.0,601.3 L147.0,603.1 L151.0,604.6 L155.0,606.0 L159.0,607.3 L163.0,608.4 L167.0,609.4 L171.0,610.3 L175.0,611.0 L179.0,611.6 L183.0,612.2 L187.0,612.6 L191.0,612.9 L195.0,613.2 L199.0,613.3 L203.0,613.4 L207.0,613.4 L211.0,613.3 L215.0,613.1 L219.0,612.8 L223.0,612.5 L227.0,612.1 L231.0,611.7 L235.0,611.2 L239.0,610.6 L243.0,610.0 L247.0,609.3 L251.0,608.5 L255.0,607.7 L259.0,606.8 L263.0,605.9 L267.0,604.9 L271.0,603.8 L275.0,602.7 L279.0,601.6 L283.0,600.4 L287.0,599.1 L291.0,597.8 L295.0,596.4 L299.0,595.0 L303.0,593.6 L307.0,592.0 L311.0,590.5 L315.0,588.9 L319.0,587.2 L323.0,585.5 L327.0,583.7 L331.0,581.9 L335.0,580.1 L339.0,578.2 L343.0,576.2 L347.0,574.2 L351.0,572.2 L355.0,570.1 L359.0,567.9 L363.0,565.7 L367.0,563.5 L371.0,561.2 L375.0,558.8 L379.0,556.5 L383.0,554.0 L387.0,551.6 L391.0,549.0 L395.0,546.5 L399.0,543.9 L403.0,541.2 L407.0,538.6 L411.0,535.8 L415.0,533.1 L419.0,530.3 L423.0,527.5 L427.0,524.7 L431.0,521.8 L435.0,518.9 L439.0,516.0 L443.0,513.1 L447.0,510.1 L451.0,507.1 L455.0,504.2 L459.0,501.1 L463.0,498.1 L467.0,495.1 L471.0,492.0 L475.0,489.0 L479.0,485.9 L483.0,482.8 L487.0,479.7 L491.0,476.6 L495.0,473.5 L499.0,470.4 L503.0,467.3 L507.0,464.2 L511.0,461.1 L515.0,458.0 L519.0,455.0 L523.0,451.9 L527.0,448.8 L531.0,445.7 L535.0,442.6 L539.0,439.6 L543.0,436.5 L547.0,433.5 L551.0,430.4 L555.0,427.4 L559.0,424.4 L563.0,421.4 L567.0,418.5 L571.0,415.5 L575.0,412.6 L579.0,409.7 L583.0,406.8 L587.0,403.9 L591.0,401.1 L595.0,398.3 L599.0,395.5 L603.0,392.7 L607.0,390.0 L611.0,387.2 L615.0,384.5 L619.0,381.9 L623.0,379.2 L627.0,376.6 L631.0,374.0 L635.0,371.5 L639.0,369.0 L643.0,366.5 L647.0,364.0 L651.0,361.6 L655.0,359.2 L659.0,356.8 L663.0,354.5 L667.0,352.2 L671.0,349.9 L675.0,347.7 L679.0,345.5 L683.0,343.3 L687.0,341.2 L691.0,339.1 L695.0,337.1 L699.0,335.1 L703.0,333.1 L707.0,331.1 L711.0,329.2 L715.0,327.4 L719.0,325.6 L723.0,323.8 L727.0,322.1 L731.0,320.4 L735.0,318.7 L739.0,317.1 L743.0,315.5 L747.0,314.0 L751.0,312.5 L755.0,311.1 L759.0,309.7 L763.0,308.4 L767.0,307.1 L771.0,305.8 L775.0,304.6 L779.0,303.5 L783.0,302.4 L787.0,301.3 L791.0,300.3 L795.0,299.4 L799.0,298.5 L803.0,297.6 L807.0,296.8 L811.0,296.1 L815.0,295.4 L819.0,294.7 L823.0,294.1 L827.0,293.5 L831.0,293.0 L835.0,292.6 L839.0,292.1 L843.0,291.7 L847.0,291.4 L851.0,291.1 L855.0,290.9 L859.0,290.6 L863.0,290.5 L867.0,290.3 L871.0,290.2 L875.0,290.1 L879.0,290.1 L883.0,290.1 L887.0,290.1 L891.0,290.2 L895.0,290.3 L899.0,290.4 L903.0,290.5 L907.0,290.7 L911.0,290.8 L915.0,291.0 L919.0,291.2 L923.0,291.4 L927.0,291.6 L931.0,291.7 L935.0,291.9 L939.0,292.1 L943.0,292.2 L947.0,292.3 L951.0,292.4 L955.0,292.4 L959.0,292.3 L963.0,292.2 L967.0,292.0 L971.0,291.6 L975.0,291.1 L979.0,290.5 L983.0,289.7 L986.0,289.0 L986.0,344.0 L983.0,341.9 L979.0,339.5 L975.0,337.2 L971.0,335.2 L967.0,333.3 L963.0,331.7 L959.0,330.1 L955.0,328.7 L951.0,327.4 L947.0,326.2 L943.0,325.1 L939.0,324.1 L935.0,323.2 L931.0,322.4 L927.0,321.6 L923.0,320.9 L919.0,320.3 L915.0,319.7 L911.0,319.2 L907.0,318.7 L903.0,318.3 L899.0,318.0 L895.0,317.7 L891.0,317.4 L887.0,317.2 L883.0,317.0 L879.0,316.9 L875.0,316.9 L871.0,316.8 L867.0,316.9 L863.0,316.9 L859.0,317.1 L855.0,317.2 L851.0,317.4 L847.0,317.7 L843.0,318.0 L839.0,318.3 L835.0,318.7 L831.0,319.2 L827.0,319.7 L823.0,320.2 L819.0,320.8 L815.0,321.5 L811.0,322.1 L807.0,322.9 L803.0,323.7 L799.0,324.5 L795.0,325.4 L791.0,326.4 L787.0,327.4 L783.0,328.4 L779.0,329.5 L775.0,330.7 L771.0,331.9 L767.0,333.1 L763.0,334.4 L759.0,335.7 L755.0,337.1 L751.0,338.5 L747.0,340.0 L743.0,341.5 L739.0,343.1 L735.0,344.7 L731.0,346.4 L727.0,348.1 L723.0,349.8 L719.0,351.6 L715.0,353.4 L711.0,355.2 L707.0,357.1 L703.0,359.1 L699.0,361.1 L695.0,363.1 L691.0,365.1 L687.0,367.2 L683.0,369.3 L679.0,371.5 L675.0,373.7 L671.0,375.9 L667.0,378.2 L663.0,380.5 L659.0,382.8 L655.0,385.2 L651.0,387.6 L647.0,390.0 L643.0,392.5 L639.0,395.0 L635.0,397.5 L631.0,400.1 L627.0,402.6 L623.0,405.2 L619.0,407.9 L615.0,410.5 L611.0,413.2 L607.0,416.0 L603.0,418.7 L599.0,421.5 L595.0,424.3 L591.0,427.1 L587.0,429.9 L583.0,432.8 L579.0,435.7 L575.0,438.6 L571.0,441.5 L567.0,444.5 L563.0,447.4 L559.0,450.4 L555.0,453.4 L551.0,456.4 L547.0,459.5 L543.0,462.5 L539.0,465.6 L535.0,468.6 L531.0,471.7 L527.0,474.8 L523.0,477.9 L519.0,481.0 L515.0,484.1 L511.0,487.2 L507.0,490.3 L503.0,493.4 L499.0,496.5 L495.0,499.6 L491.0,502.7 L487.0,505.7 L483.0,508.8 L479.0,511.9 L475.0,515.0 L471.0,518.0 L467.0,521.1 L463.0,524.1 L459.0,527.2 L455.0,530.2 L451.0,533.2 L447.0,536.2 L443.0,539.1 L439.0,542.1 L435.0,545.0 L431.0,547.9 L427.0,550.7 L423.0,553.6 L419.0,556.4 L415.0,559.2 L411.0,561.9 L407.0,564.7 L403.0,567.3 L399.0,570.0 L395.0,572.6 L391.0,575.2 L387.0,577.7 L383.0,580.2 L379.0,582.6 L375.0,585.0 L371.0,587.4 L367.0,589.7 L363.0,592.0 L359.0,594.2 L355.0,596.4 L351.0,598.5 L347.0,600.6 L343.0,602.6 L339.0,604.6 L335.0,606.5 L331.0,608.4 L327.0,610.3 L323.0,612.1 L319.0,613.9 L315.0,615.6 L311.0,617.3 L307.0,618.9 L303.0,620.5 L299.0,622.1 L295.0,623.6 L291.0,625.1 L287.0,626.5 L283.0,627.9 L279.0,629.2 L275.0,630.5 L271.0,631.8 L267.0,633.0 L263.0,634.2 L259.0,635.4 L255.0,636.5 L251.0,637.5 L247.0,638.6 L243.0,639.6 L239.0,640.6 L235.0,641.5 L231.0,642.5 L227.0,643.4 L223.0,644.2 L219.0,645.1 L215.0,645.9 L211.0,646.7 L207.0,647.5 L203.0,648.3 L199.0,649.0 L195.0,649.8 L191.0,650.5 L187.0,651.3 L183.0,652.0 L179.0,652.8 L175.0,653.6 L171.0,654.3 L167.0,655.2 L163.0,656.0 L159.0,656.9 L155.0,657.8 L151.0,658.8 L147.0,659.9 L143.0,661.0 L139.0,662.2 L135.0,663.6 L131.0,665.0Z" fill="#999" fill-opacity="0.135"/>
<path d="M131.0,630.0 L135.0,630.4 L139.0,630.8 L143.0,631.2 L147.0,631.5 L151.0,631.7 L155.0,631.9 L159.0,632.1 L163.0,632.2 L167.0,632.3 L171.0,632.3 L175.0,632.3 L179.0,632.2 L183.0,632.1 L187.0,631.9 L191.0,631.7 L195.0,631.5 L199.0,631.2 L203.0,630.8 L207.0,630.4 L211.0,630.0 L215.0,629.5 L219.0,629.0 L223.0,628.4 L227.0,627.7 L231.0,627.1 L235.0,626.4 L239.0,625.6 L243.0,624.8 L247.0,623.9 L251.0,623.0 L255.0,622.1 L259.0,621.1 L263.0,620.0 L267.0,618.9 L271.0,617.8 L275.0,616.6 L279.0,615.4 L283.0,614.1 L287.0,612.8 L291.0,611.4 L295.0,610.0 L299.0,608.5 L303.0,607.0 L307.0,605.5 L311.0,603.9 L315.0,602.2 L319.0,600.5 L323.0,598.8 L327.0,597.0 L331.0,595.2 L335.0,593.3 L339.0,591.4 L343.0,589.4 L347.0,587.4 L351.0,585.3 L355.0,583.2 L359.0,581.0 L363.0,578.8 L367.0,576.6 L371.0,574.3 L375.0,571.9 L379.0,569.5 L383.0,567.1 L387.0,564.6 L391.0,562.1 L395.0,559.5 L399.0,556.9 L403.0,554.3 L407.0,551.6 L411.0,548.9 L415.0,546.1 L419.0,543.4 L423.0,540.6 L427.0,537.7 L431.0,534.8 L435.0,532.0 L439.0,529.0 L443.0,526.1 L447.0,523.1 L451.0,520.2 L455.0,517.2 L459.0,514.2 L463.0,511.1 L467.0,508.1 L471.0,505.0 L475.0,502.0 L479.0,498.9 L483.0,495.8 L487.0,492.7 L491.0,489.6 L495.0,486.6 L499.0,483.5 L503.0,480.4 L507.0,477.3 L511.0,474.2 L515.0,471.1 L519.0,468.0 L523.0,464.9 L527.0,461.8 L531.0,458.7 L535.0,455.6 L539.0,452.6 L543.0,449.5 L547.0,446.5 L551.0,443.4 L555.0,440.4 L559.0,437.4 L563.0,434.4 L567.0,431.5 L571.0,428.5 L575.0,425.6 L579.0,422.7 L583.0,419.8 L587.0,416.9 L591.0,414.1 L595.0,411.3 L599.0,408.5 L603.0,405.7 L607.0,403.0 L611.0,400.2 L615.0,397.5 L619.0,394.9 L623.0,392.2 L627.0,389.6 L631.0,387.1 L635.0,384.5 L639.0,382.0 L643.0,379.5 L647.0,377.0 L651.0,374.6 L655.0,372.2 L659.0,369.8 L663.0,367.5 L667.0,365.2 L671.0,362.9 L675.0,360.7 L679.0,358.5 L683.0,356.3 L687.0,354.2 L691.0,352.1 L695.0,350.1 L699.0,348.1 L703.0,346.1 L707.0,344.1 L711.0,342.2 L715.0,340.4 L719.0,338.6 L723.0,336.8 L727.0,335.1 L731.0,333.4 L735.0,331.7 L739.0,330.1 L743.0,328.5 L747.0,327.0 L751.0,325.5 L755.0,324.1 L759.0,322.7 L763.0,321.4 L767.0,320.1 L771.0,318.8 L775.0,317.6 L779.0,316.5 L783.0,315.4 L787.0,314.3 L791.0,313.3 L795.0,312.4 L799.0,311.5 L803.0,310.6 L807.0,309.8 L811.0,309.1 L815.0,308.4 L819.0,307.8 L823.0,307.2 L827.0,306.6 L831.0,306.1 L835.0,305.6 L839.0,305.2 L843.0,304.9 L847.0,304.5 L851.0,304.3 L855.0,304.0 L859.0,303.9 L863.0,303.7 L867.0,303.6 L871.0,303.5 L875.0,303.5 L879.0,303.5 L883.0,303.6 L887.0,303.7 L891.0,303.8 L895.0,304.0 L899.0,304.2 L903.0,304.4 L907.0,304.7 L911.0,305.0 L915.0,305.3 L919.0,305.7 L923.0,306.1 L927.0,306.6 L931.0,307.1 L935.0,307.6 L939.0,308.1 L943.0,308.7 L947.0,309.3 L951.0,309.9 L955.0,310.5 L959.0,311.2 L963.0,311.9 L967.0,312.6 L971.0,313.4 L975.0,314.2 L979.0,315.0 L983.0,315.8 L986.0,316.5" fill="none" stroke="#1CB974" stroke-width="4.5" stroke-linejoin="round"/>
<path d="M131.0,591.2 L135.0,593.2 L139.0,595.0 L143.0,596.6 L147.0,598.1 L151.0,599.4 L155.0,600.6 L159.0,601.6 L163.0,602.6 L167.0,603.4 L171.0,604.1 L175.0,604.7 L179.0,605.3 L183.0,605.7 L187.0,606.0 L191.0,606.3 L195.0,606.5 L199.0,606.5 L203.0,606.6 L207.0,606.5 L211.0,606.3 L215.0,606.1 L219.0,605.8 L223.0,605.5 L227.0,605.1 L231.0,604.6 L235.0,604.0 L239.0,603.3 L243.0,602.6 L247.0,601.9 L251.0,601.0 L255.0,600.1 L259.0,599.1 L263.0,598.0 L267.0,596.9 L271.0,595.7 L275.0,594.4 L279.0,593.1 L283.0,591.6 L287.0,590.2 L291.0,588.6 L295.0,586.9 L299.0,585.2 L303.0,583.4 L307.0,581.5 L311.0,579.6 L315.0,577.6 L319.0,575.5 L323.0,573.4 L327.0,571.2 L331.0,568.9 L335.0,566.6 L339.0,564.2 L343.0,561.8 L347.0,559.3 L351.0,556.8 L355.0,554.2 L359.0,551.5 L363.0,548.8 L367.0,546.1 L371.0,543.3 L375.0,540.5 L379.0,537.6 L383.0,534.7 L387.0,531.8 L391.0,528.8 L395.0,525.8 L399.0,522.7 L403.0,519.6 L407.0,516.5 L411.0,513.4 L415.0,510.2 L419.0,507.0 L423.0,503.8 L427.0,500.5 L431.0,497.3 L435.0,494.0 L439.0,490.7 L443.0,487.4 L447.0,484.0 L451.0,480.7 L455.0,477.3 L459.0,473.9 L463.0,470.5 L467.0,467.1 L471.0,463.8 L475.0,460.4 L479.0,457.0 L483.0,453.7 L487.0,450.4 L491.0,447.1 L495.0,443.8 L499.0,440.6 L503.0,437.5 L507.0,434.3 L511.0,431.2 L515.0,428.1 L519.0,425.0 L523.0,421.8 L527.0,418.6 L531.0,415.4 L535.0,412.1 L539.0,408.8 L543.0,405.5 L547.0,402.2 L551.0,398.9 L555.0,395.6 L559.0,392.4 L563.0,389.2 L567.0,386.0 L571.0,383.0 L575.0,380.0 L579.0,377.1 L583.0,374.3 L587.0,371.5 L591.0,368.9 L595.0,366.3 L599.0,363.7 L603.0,361.3 L607.0,358.9 L611.0,356.5 L615.0,354.3 L619.0,352.0 L623.0,349.9 L627.0,347.8 L631.0,345.7 L635.0,343.7 L639.0,341.8 L643.0,339.9 L647.0,338.0 L651.0,336.2 L655.0,334.4 L659.0,332.7 L663.0,331.0 L667.0,329.3 L671.0,327.7 L675.0,326.1 L679.0,324.6 L683.0,323.0 L687.0,321.5 L691.0,320.1 L695.0,318.7 L699.0,317.3 L703.0,315.9 L707.0,314.6 L711.0,313.3 L715.0,312.1 L719.0,310.8 L723.0,309.6 L727.0,308.5 L731.0,307.3 L735.0,306.2 L739.0,305.1 L743.0,304.0 L747.0,303.0 L751.0,302.0 L755.0,301.0 L759.0,300.0 L763.0,299.1 L767.0,298.2 L771.0,297.3 L775.0,296.4 L779.0,295.6 L783.0,294.8 L787.0,294.0 L791.0,293.2 L795.0,292.4 L799.0,291.7 L803.0,291.0 L807.0,290.3 L811.0,289.6 L815.0,289.0 L819.0,288.4 L823.0,287.8 L827.0,287.2 L831.0,286.7 L835.0,286.2 L839.0,285.7 L843.0,285.2 L847.0,284.7 L851.0,284.3 L855.0,283.9 L859.0,283.5 L863.0,283.1 L867.0,282.8 L871.0,282.4 L875.0,282.1 L879.0,281.8 L883.0,281.6 L887.0,281.3 L891.0,281.1 L895.0,280.8 L899.0,280.6 L903.0,280.5 L907.0,280.3 L911.0,280.1 L915.0,280.0 L919.0,279.8 L923.0,279.7 L927.0,279.5 L931.0,279.4 L935.0,279.2 L939.0,279.1 L943.0,278.9 L947.0,278.7 L951.0,278.5 L955.0,278.2 L959.0,278.0 L963.0,277.6 L967.0,277.2 L971.0,276.7 L975.0,276.2 L979.0,275.5 L983.0,274.7 L987.0,273.8 L991.0,272.7 L995.0,271.4 L996.0,271.1 L996.0,326.1 L995.0,325.5 L991.0,323.3 L987.0,321.3 L983.0,319.5 L979.0,318.0 L975.0,316.6 L971.0,315.3 L967.0,314.2 L963.0,313.3 L959.0,312.4 L955.0,311.6 L951.0,311.0 L947.0,310.4 L943.0,309.9 L939.0,309.4 L935.0,309.0 L931.0,308.7 L927.0,308.4 L923.0,308.2 L919.0,308.0 L915.0,307.9 L911.0,307.8 L907.0,307.8 L903.0,307.8 L899.0,307.8 L895.0,307.8 L891.0,307.9 L887.0,308.1 L883.0,308.2 L879.0,308.4 L875.0,308.6 L871.0,308.9 L867.0,309.1 L863.0,309.4 L859.0,309.8 L855.0,310.1 L851.0,310.5 L847.0,310.9 L843.0,311.4 L839.0,311.8 L835.0,312.3 L831.0,312.8 L827.0,313.3 L823.0,313.9 L819.0,314.5 L815.0,315.1 L811.0,315.7 L807.0,316.4 L803.0,317.0 L799.0,317.7 L795.0,318.5 L791.0,319.2 L787.0,320.0 L783.0,320.8 L779.0,321.6 L775.0,322.5 L771.0,323.3 L767.0,324.2 L763.0,325.1 L759.0,326.1 L755.0,327.0 L751.0,328.0 L747.0,329.0 L743.0,330.1 L739.0,331.1 L735.0,332.2 L731.0,333.3 L727.0,334.5 L723.0,335.6 L719.0,336.8 L715.0,338.1 L711.0,339.3 L707.0,340.6 L703.0,341.9 L699.0,343.3 L695.0,344.7 L691.0,346.1 L687.0,347.5 L683.0,349.0 L679.0,350.6 L675.0,352.1 L671.0,353.7 L667.0,355.3 L663.0,357.0 L659.0,358.7 L655.0,360.4 L651.0,362.2 L647.0,364.0 L643.0,365.9 L639.0,367.8 L635.0,369.7 L631.0,371.7 L627.0,373.8 L623.0,375.9 L619.0,378.0 L615.0,380.3 L611.0,382.5 L607.0,384.9 L603.0,387.3 L599.0,389.7 L595.0,392.3 L591.0,394.9 L587.0,397.5 L583.0,400.3 L579.0,403.1 L575.0,406.0 L571.0,409.0 L567.0,412.0 L563.0,415.2 L559.0,418.4 L555.0,421.6 L551.0,424.9 L547.0,428.2 L543.0,431.5 L539.0,434.8 L535.0,438.1 L531.0,441.4 L527.0,444.6 L523.0,447.8 L519.0,451.0 L515.0,454.1 L511.0,457.2 L507.0,460.3 L503.0,463.5 L499.0,466.6 L495.0,469.9 L491.0,473.1 L487.0,476.4 L483.0,479.7 L479.0,483.1 L475.0,486.4 L471.0,489.8 L467.0,493.2 L463.0,496.6 L459.0,499.9 L455.0,503.3 L451.0,506.7 L447.0,510.0 L443.0,513.4 L439.0,516.7 L435.0,520.0 L431.0,523.3 L427.0,526.6 L423.0,529.9 L419.0,533.1 L415.0,536.3 L411.0,539.5 L407.0,542.6 L403.0,545.7 L399.0,548.8 L395.0,551.9 L391.0,554.9 L387.0,557.9 L383.0,560.9 L379.0,563.8 L375.0,566.7 L371.0,569.5 L367.0,572.3 L363.0,575.1 L359.0,577.8 L355.0,580.5 L351.0,583.1 L347.0,585.7 L343.0,588.2 L339.0,590.7 L335.0,593.1 L331.0,595.4 L327.0,597.7 L323.0,600.0 L319.0,602.2 L315.0,604.3 L311.0,606.4 L307.0,608.4 L303.0,610.4 L299.0,612.3 L295.0,614.1 L291.0,615.8 L287.0,617.5 L283.0,619.1 L279.0,620.7 L275.0,622.2 L271.0,623.7 L267.0,625.0 L263.0,626.4 L259.0,627.7 L255.0,628.9 L251.0,630.1 L247.0,631.2 L243.0,632.3 L239.0,633.3 L235.0,634.3 L231.0,635.3 L227.0,636.3 L223.0,637.2 L219.0,638.1 L215.0,638.9 L211.0,639.8 L207.0,640.6 L203.0,641.4 L199.0,642.3 L195.0,643.1 L191.0,643.9 L187.0,644.7 L183.0,645.6 L179.0,646.4 L175.0,647.3 L171.0,648.2 L167.0,649.2 L163.0,650.2 L159.0,651.3 L155.0,652.4 L151.0,653.6 L147.0,654.9 L143.0,656.3 L139.0,657.8 L135.0,659.4 L131.0,661.2Z" fill="#999" fill-opacity="0.135"/>
<path d="M131.0,626.2 L135.0,626.3 L139.0,626.4 L143.0,626.4 L147.0,626.5 L151.0,626.5 L155.0,626.5 L159.0,626.4 L163.0,626.4 L167.0,626.3 L171.0,626.2 L175.0,626.0 L179.0,625.8 L183.0,625.6 L187.0,625.4 L191.0,625.1 L195.0,624.8 L199.0,624.4 L203.0,624.0 L207.0,623.6 L211.0,623.1 L215.0,622.5 L219.0,622.0 L223.0,621.3 L227.0,620.7 L231.0,619.9 L235.0,619.2 L239.0,618.3 L243.0,617.5 L247.0,616.5 L251.0,615.5 L255.0,614.5 L259.0,613.4 L263.0,612.2 L267.0,611.0 L271.0,609.7 L275.0,608.3 L279.0,606.9 L283.0,605.4 L287.0,603.8 L291.0,602.2 L295.0,600.5 L299.0,598.7 L303.0,596.9 L307.0,595.0 L311.0,593.0 L315.0,591.0 L319.0,588.9 L323.0,586.7 L327.0,584.5 L331.0,582.2 L335.0,579.8 L339.0,577.4 L343.0,575.0 L347.0,572.5 L351.0,569.9 L355.0,567.3 L359.0,564.7 L363.0,562.0 L367.0,559.2 L371.0,556.4 L375.0,553.6 L379.0,550.7 L383.0,547.8 L387.0,544.9 L391.0,541.9 L395.0,538.8 L399.0,535.8 L403.0,532.7 L407.0,529.6 L411.0,526.4 L415.0,523.3 L419.0,520.1 L423.0,516.8 L427.0,513.6 L431.0,510.3 L435.0,507.0 L439.0,503.7 L443.0,500.4 L447.0,497.0 L451.0,493.7 L455.0,490.3 L459.0,486.9 L463.0,483.5 L467.0,480.2 L471.0,476.8 L475.0,473.4 L479.0,470.0 L483.0,466.7 L487.0,463.4 L491.0,460.1 L495.0,456.9 L499.0,453.6 L503.0,450.5 L507.0,447.3 L511.0,444.2 L515.0,441.1 L519.0,438.0 L523.0,434.8 L527.0,431.6 L531.0,428.4 L535.0,425.1 L539.0,421.8 L543.0,418.5 L547.0,415.2 L551.0,411.9 L555.0,408.6 L559.0,405.4 L563.0,402.2 L567.0,399.0 L571.0,396.0 L575.0,393.0 L579.0,390.1 L583.0,387.3 L587.0,384.5 L591.0,381.9 L595.0,379.3 L599.0,376.7 L603.0,374.3 L607.0,371.9 L611.0,369.5 L615.0,367.3 L619.0,365.0 L623.0,362.9 L627.0,360.8 L631.0,358.7 L635.0,356.7 L639.0,354.8 L643.0,352.9 L647.0,351.0 L651.0,349.2 L655.0,347.4 L659.0,345.7 L663.0,344.0 L667.0,342.3 L671.0,340.7 L675.0,339.1 L679.0,337.6 L683.0,336.0 L687.0,334.5 L691.0,333.1 L695.0,331.7 L699.0,330.3 L703.0,328.9 L707.0,327.6 L711.0,326.3 L715.0,325.1 L719.0,323.8 L723.0,322.6 L727.0,321.5 L731.0,320.3 L735.0,319.2 L739.0,318.1 L743.0,317.0 L747.0,316.0 L751.0,315.0 L755.0,314.0 L759.0,313.1 L763.0,312.1 L767.0,311.2 L771.0,310.3 L775.0,309.4 L779.0,308.6 L783.0,307.8 L787.0,307.0 L791.0,306.2 L795.0,305.5 L799.0,304.7 L803.0,304.0 L807.0,303.3 L811.0,302.7 L815.0,302.0 L819.0,301.4 L823.0,300.8 L827.0,300.3 L831.0,299.7 L835.0,299.2 L839.0,298.7 L843.0,298.3 L847.0,297.8 L851.0,297.4 L855.0,297.0 L859.0,296.6 L863.0,296.3 L867.0,295.9 L871.0,295.6 L875.0,295.4 L879.0,295.1 L883.0,294.9 L887.0,294.7 L891.0,294.5 L895.0,294.3 L899.0,294.2 L903.0,294.1 L907.0,294.0 L911.0,294.0 L915.0,293.9 L919.0,293.9 L923.0,293.9 L927.0,294.0 L931.0,294.0 L935.0,294.1 L939.0,294.2 L943.0,294.4 L947.0,294.5 L951.0,294.7 L955.0,294.9 L959.0,295.2 L963.0,295.4 L967.0,295.7 L971.0,296.0 L975.0,296.4 L979.0,296.7 L983.0,297.1 L987.0,297.5 L991.0,298.0 L995.0,298.4 L996.0,298.6" fill="none" stroke="#1AB6B8" stroke-width="4.5" stroke-linejoin="round"/>
<path d="M131.0,598.5 L135.0,600.6 L139.0,602.5 L143.0,604.1 L147.0,605.6 L151.0,606.9 L155.0,608.1 L159.0,609.1 L163.0,609.9 L167.0,610.6 L171.0,611.2 L175.0,611.6 L179.0,611.9 L183.0,612.2 L187.0,612.3 L191.0,612.3 L195.0,612.2 L199.0,612.0 L203.0,611.8 L207.0,611.4 L211.0,611.0 L215.0,610.5 L219.0,610.0 L223.0,609.3 L227.0,608.6 L231.0,607.9 L235.0,607.0 L239.0,606.2 L243.0,605.2 L247.0,604.2 L251.0,603.2 L255.0,602.1 L259.0,600.9 L263.0,599.7 L267.0,598.5 L271.0,597.2 L275.0,595.8 L279.0,594.4 L283.0,593.0 L287.0,591.5 L291.0,590.0 L295.0,588.5 L299.0,586.9 L303.0,585.3 L307.0,583.6 L311.0,581.9 L315.0,580.2 L319.0,578.4 L323.0,576.6 L327.0,574.8 L331.0,572.9 L335.0,571.1 L339.0,569.1 L343.0,567.2 L347.0,565.2 L351.0,563.2 L355.0,561.2 L359.0,559.1 L363.0,557.0 L367.0,554.9 L371.0,552.8 L375.0,550.6 L379.0,548.5 L383.0,546.3 L387.0,544.1 L391.0,541.8 L395.0,539.5 L399.0,537.3 L403.0,535.0 L407.0,532.7 L411.0,530.3 L415.0,528.0 L419.0,525.6 L423.0,523.2 L427.0,520.8 L431.0,518.4 L435.0,516.0 L439.0,513.5 L443.0,511.1 L447.0,508.6 L451.0,506.1 L455.0,503.6 L459.0,501.1 L463.0,498.6 L467.0,496.1 L471.0,493.5 L475.0,491.0 L479.0,488.4 L483.0,485.8 L487.0,483.2 L491.0,480.6 L495.0,478.0 L499.0,475.4 L503.0,472.8 L507.0,470.2 L511.0,467.5 L515.0,464.9 L519.0,462.2 L523.0,459.5 L527.0,456.9 L531.0,454.2 L535.0,451.5 L539.0,448.8 L543.0,446.1 L547.0,443.4 L551.0,440.7 L555.0,438.0 L559.0,435.3 L563.0,432.5 L567.0,429.8 L571.0,427.1 L575.0,424.3 L579.0,421.6 L583.0,418.8 L587.0,416.1 L591.0,413.3 L595.0,410.6 L599.0,407.8 L603.0,405.1 L607.0,402.3 L611.0,399.6 L615.0,396.8 L619.0,394.1 L623.0,391.3 L627.0,388.6 L631.0,385.8 L635.0,383.1 L639.0,380.4 L643.0,377.6 L647.0,374.9 L651.0,372.2 L655.0,369.5 L659.0,366.9 L663.0,364.2 L667.0,361.6 L671.0,358.9 L675.0,356.3 L679.0,353.7 L683.0,351.1 L687.0,348.6 L691.0,346.1 L695.0,343.5 L699.0,341.1 L703.0,338.6 L707.0,336.2 L711.0,333.7 L715.0,331.4 L719.0,329.0 L723.0,326.7 L727.0,324.4 L731.0,322.1 L735.0,319.9 L739.0,317.7 L743.0,315.5 L747.0,313.4 L751.0,311.3 L755.0,309.3 L759.0,307.3 L763.0,305.3 L767.0,303.4 L771.0,301.5 L775.0,299.6 L779.0,297.9 L783.0,296.1 L787.0,294.4 L791.0,292.7 L795.0,291.1 L799.0,289.6 L803.0,288.1 L807.0,286.6 L811.0,285.2 L815.0,283.8 L819.0,282.5 L823.0,281.3 L827.0,280.1 L831.0,278.9 L835.0,277.8 L839.0,276.7 L843.0,275.7 L847.0,274.7 L851.0,273.8 L855.0,272.9 L859.0,272.1 L863.0,271.3 L867.0,270.5 L871.0,269.8 L875.0,269.1 L879.0,268.5 L883.0,267.9 L887.0,267.3 L891.0,266.7 L895.0,266.2 L899.0,265.8 L903.0,265.3 L907.0,264.9 L911.0,264.5 L915.0,264.1 L919.0,263.8 L923.0,263.4 L927.0,263.1 L931.0,262.8 L935.0,262.4 L939.0,262.1 L943.0,261.8 L947.0,261.4 L951.0,261.0 L955.0,260.5 L959.0,260.0 L963.0,259.4 L967.0,258.8 L971.0,258.0 L975.0,257.1 L979.0,256.1 L983.0,254.9 L986.0,253.9 L986.0,308.9 L983.0,307.2 L979.0,305.1 L975.0,303.2 L971.0,301.6 L967.0,300.2 L963.0,298.9 L959.0,297.8 L955.0,296.8 L951.0,296.0 L947.0,295.3 L943.0,294.7 L939.0,294.2 L935.0,293.7 L931.0,293.4 L927.0,293.2 L923.0,293.0 L919.0,292.9 L915.0,292.9 L911.0,292.9 L907.0,293.0 L903.0,293.2 L899.0,293.4 L895.0,293.6 L891.0,294.0 L887.0,294.4 L883.0,294.8 L879.0,295.3 L875.0,295.8 L871.0,296.4 L867.0,297.0 L863.0,297.7 L859.0,298.5 L855.0,299.3 L851.0,300.1 L847.0,301.0 L843.0,302.0 L839.0,302.9 L835.0,304.0 L831.0,305.1 L827.0,306.2 L823.0,307.4 L819.0,308.7 L815.0,309.9 L811.0,311.3 L807.0,312.7 L803.0,314.1 L799.0,315.6 L795.0,317.2 L791.0,318.8 L787.0,320.4 L783.0,322.1 L779.0,323.9 L775.0,325.7 L771.0,327.5 L767.0,329.4 L763.0,331.3 L759.0,333.3 L755.0,335.3 L751.0,337.3 L747.0,339.4 L743.0,341.5 L739.0,343.7 L735.0,345.9 L731.0,348.1 L727.0,350.4 L723.0,352.7 L719.0,355.0 L715.0,357.4 L711.0,359.7 L707.0,362.2 L703.0,364.6 L699.0,367.1 L695.0,369.5 L691.0,372.1 L687.0,374.6 L683.0,377.1 L679.0,379.7 L675.0,382.3 L671.0,384.9 L667.0,387.6 L663.0,390.2 L659.0,392.9 L655.0,395.5 L651.0,398.2 L647.0,400.9 L643.0,403.6 L639.0,406.4 L635.0,409.1 L631.0,411.8 L627.0,414.6 L623.0,417.3 L619.0,420.1 L615.0,422.8 L611.0,425.6 L607.0,428.3 L603.0,431.1 L599.0,433.8 L595.0,436.6 L591.0,439.3 L587.0,442.1 L583.0,444.8 L579.0,447.6 L575.0,450.3 L571.0,453.1 L567.0,455.8 L563.0,458.5 L559.0,461.3 L555.0,464.0 L551.0,466.7 L547.0,469.4 L543.0,472.1 L539.0,474.8 L535.0,477.5 L531.0,480.2 L527.0,482.9 L523.0,485.5 L519.0,488.2 L515.0,490.9 L511.0,493.5 L507.0,496.2 L503.0,498.8 L499.0,501.4 L495.0,504.0 L491.0,506.6 L487.0,509.2 L483.0,511.8 L479.0,514.4 L475.0,517.0 L471.0,519.5 L467.0,522.1 L463.0,524.6 L459.0,527.1 L455.0,529.6 L451.0,532.1 L447.0,534.6 L443.0,537.1 L439.0,539.6 L435.0,542.0 L431.0,544.4 L427.0,546.9 L423.0,549.3 L419.0,551.7 L415.0,554.0 L411.0,556.4 L407.0,558.7 L403.0,561.1 L399.0,563.4 L395.0,565.7 L391.0,567.9 L387.0,570.2 L383.0,572.4 L379.0,574.6 L375.0,576.8 L371.0,579.0 L367.0,581.2 L363.0,583.3 L359.0,585.4 L355.0,587.5 L351.0,589.5 L347.0,591.6 L343.0,593.6 L339.0,595.6 L335.0,597.5 L331.0,599.5 L327.0,601.4 L323.0,603.2 L319.0,605.1 L315.0,606.9 L311.0,608.7 L307.0,610.5 L303.0,612.2 L299.0,613.9 L295.0,615.6 L291.0,617.3 L287.0,618.9 L283.0,620.5 L279.0,622.1 L275.0,623.6 L271.0,625.1 L267.0,626.6 L263.0,628.1 L259.0,629.5 L255.0,630.9 L251.0,632.2 L247.0,633.6 L243.0,634.9 L239.0,636.2 L235.0,637.4 L231.0,638.6 L227.0,639.8 L223.0,641.0 L219.0,642.2 L215.0,643.3 L211.0,644.5 L207.0,645.6 L203.0,646.7 L199.0,647.7 L195.0,648.8 L191.0,649.9 L187.0,650.9 L183.0,652.0 L179.0,653.1 L175.0,654.2 L171.0,655.2 L167.0,656.4 L163.0,657.5 L159.0,658.7 L155.0,659.9 L151.0,661.1 L147.0,662.5 L143.0,663.8 L139.0,665.3 L135.0,666.8 L131.0,668.5Z" fill="#999" fill-opacity="0.135"/>
<path d="M131.0,633.5 L135.0,633.7 L139.0,633.9 L143.0,634.0 L147.0,634.0 L151.0,634.0 L155.0,634.0 L159.0,633.9 L163.0,633.7 L167.0,633.5 L171.0,633.2 L175.0,632.9 L179.0,632.5 L183.0,632.1 L187.0,631.6 L191.0,631.1 L195.0,630.5 L199.0,629.9 L203.0,629.2 L207.0,628.5 L211.0,627.7 L215.0,626.9 L219.0,626.1 L223.0,625.2 L227.0,624.2 L231.0,623.3 L235.0,622.2 L239.0,621.2 L243.0,620.0 L247.0,618.9 L251.0,617.7 L255.0,616.5 L259.0,615.2 L263.0,613.9 L267.0,612.5 L271.0,611.1 L275.0,609.7 L279.0,608.3 L283.0,606.8 L287.0,605.2 L291.0,603.7 L295.0,602.1 L299.0,600.4 L303.0,598.8 L307.0,597.1 L311.0,595.3 L315.0,593.6 L319.0,591.8 L323.0,589.9 L327.0,588.1 L331.0,586.2 L335.0,584.3 L339.0,582.4 L343.0,580.4 L347.0,578.4 L351.0,576.4 L355.0,574.3 L359.0,572.3 L363.0,570.2 L367.0,568.0 L371.0,565.9 L375.0,563.7 L379.0,561.6 L383.0,559.4 L387.0,557.1 L391.0,554.9 L395.0,552.6 L399.0,550.3 L403.0,548.0 L407.0,545.7 L411.0,543.4 L415.0,541.0 L419.0,538.6 L423.0,536.2 L427.0,533.8 L431.0,531.4 L435.0,529.0 L439.0,526.5 L443.0,524.1 L447.0,521.6 L451.0,519.1 L455.0,516.6 L459.0,514.1 L463.0,511.6 L467.0,509.1 L471.0,506.5 L475.0,504.0 L479.0,501.4 L483.0,498.8 L487.0,496.2 L491.0,493.6 L495.0,491.0 L499.0,488.4 L503.0,485.8 L507.0,483.2 L511.0,480.5 L515.0,477.9 L519.0,475.2 L523.0,472.5 L527.0,469.9 L531.0,467.2 L535.0,464.5 L539.0,461.8 L543.0,459.1 L547.0,456.4 L551.0,453.7 L555.0,451.0 L559.0,448.3 L563.0,445.5 L567.0,442.8 L571.0,440.1 L575.0,437.3 L579.0,434.6 L583.0,431.8 L587.0,429.1 L591.0,426.3 L595.0,423.6 L599.0,420.8 L603.0,418.1 L607.0,415.3 L611.0,412.6 L615.0,409.8 L619.0,407.1 L623.0,404.3 L627.0,401.6 L631.0,398.8 L635.0,396.1 L639.0,393.4 L643.0,390.6 L647.0,387.9 L651.0,385.2 L655.0,382.5 L659.0,379.9 L663.0,377.2 L667.0,374.6 L671.0,371.9 L675.0,369.3 L679.0,366.7 L683.0,364.1 L687.0,361.6 L691.0,359.1 L695.0,356.5 L699.0,354.1 L703.0,351.6 L707.0,349.2 L711.0,346.7 L715.0,344.4 L719.0,342.0 L723.0,339.7 L727.0,337.4 L731.0,335.1 L735.0,332.9 L739.0,330.7 L743.0,328.5 L747.0,326.4 L751.0,324.3 L755.0,322.3 L759.0,320.3 L763.0,318.3 L767.0,316.4 L771.0,314.5 L775.0,312.7 L779.0,310.9 L783.0,309.1 L787.0,307.4 L791.0,305.8 L795.0,304.2 L799.0,302.6 L803.0,301.1 L807.0,299.6 L811.0,298.2 L815.0,296.9 L819.0,295.6 L823.0,294.3 L827.0,293.1 L831.0,292.0 L835.0,290.9 L839.0,289.8 L843.0,288.8 L847.0,287.9 L851.0,287.0 L855.0,286.1 L859.0,285.3 L863.0,284.5 L867.0,283.8 L871.0,283.1 L875.0,282.5 L879.0,281.9 L883.0,281.3 L887.0,280.8 L891.0,280.4 L895.0,279.9 L899.0,279.6 L903.0,279.2 L907.0,279.0 L911.0,278.7 L915.0,278.5 L919.0,278.3 L923.0,278.2 L927.0,278.1 L931.0,278.1 L935.0,278.1 L939.0,278.1 L943.0,278.2 L947.0,278.3 L951.0,278.5 L955.0,278.7 L959.0,278.9 L963.0,279.2 L967.0,279.5 L971.0,279.8 L975.0,280.2 L979.0,280.6 L983.0,281.0 L986.0,281.4" fill="none" stroke="#16A6F3" stroke-width="4.5" stroke-linejoin="round"/>
<path d="M131.0,611.3 L135.0,613.3 L139.0,615.1 L143.0,616.6 L147.0,618.0 L151.0,619.2 L155.0,620.2 L159.0,621.0 L163.0,621.7 L167.0,622.3 L171.0,622.6 L175.0,622.9 L179.0,623.0 L183.0,623.1 L187.0,623.0 L191.0,622.8 L195.0,622.5 L199.0,622.1 L203.0,621.6 L207.0,621.0 L211.0,620.3 L215.0,619.5 L219.0,618.7 L223.0,617.8 L227.0,616.8 L231.0,615.8 L235.0,614.6 L239.0,613.4 L243.0,612.2 L247.0,610.9 L251.0,609.5 L255.0,608.1 L259.0,606.6 L263.0,605.0 L267.0,603.5 L271.0,601.8 L275.0,600.1 L279.0,598.4 L283.0,596.6 L287.0,594.8 L291.0,592.9 L295.0,591.0 L299.0,589.0 L303.0,587.0 L307.0,585.0 L311.0,582.9 L315.0,580.8 L319.0,578.7 L323.0,576.5 L327.0,574.3 L331.0,572.0 L335.0,569.8 L339.0,567.4 L343.0,565.1 L347.0,562.7 L351.0,560.4 L355.0,557.9 L359.0,555.5 L363.0,553.0 L367.0,550.5 L371.0,548.0 L375.0,545.5 L379.0,542.9 L383.0,540.3 L387.0,537.7 L391.0,535.1 L395.0,532.4 L399.0,529.8 L403.0,527.1 L407.0,524.4 L411.0,521.7 L415.0,519.0 L419.0,516.2 L423.0,513.5 L427.0,510.7 L431.0,507.9 L435.0,505.1 L439.0,502.3 L443.0,499.5 L447.0,496.7 L451.0,493.8 L455.0,490.9 L459.0,488.1 L463.0,485.2 L467.0,482.3 L471.0,479.3 L475.0,476.4 L479.0,473.5 L483.0,470.5 L487.0,467.5 L491.0,464.5 L495.0,461.6 L499.0,458.5 L503.0,455.5 L507.0,452.5 L511.0,449.5 L515.0,446.4 L519.0,443.3 L523.0,440.3 L527.0,437.2 L531.0,434.1 L535.0,431.0 L539.0,427.8 L543.0,424.7 L547.0,421.6 L551.0,418.4 L555.0,415.3 L559.0,412.1 L563.0,408.9 L567.0,405.7 L571.0,402.5 L575.0,399.3 L579.0,396.1 L583.0,392.9 L587.0,389.6 L591.0,386.4 L595.0,383.2 L599.0,379.9 L603.0,376.7 L607.0,373.5 L611.0,370.3 L615.0,367.1 L619.0,363.9 L623.0,360.7 L627.0,357.6 L631.0,354.4 L635.0,351.4 L639.0,348.3 L643.0,345.3 L647.0,342.3 L651.0,339.3 L655.0,336.4 L659.0,333.5 L663.0,330.7 L667.0,327.9 L671.0,325.2 L675.0,322.5 L679.0,319.9 L683.0,317.4 L687.0,314.9 L691.0,312.5 L695.0,310.1 L699.0,307.9 L703.0,305.6 L707.0,303.5 L711.0,301.4 L715.0,299.4 L719.0,297.5 L723.0,295.6 L727.0,293.8 L731.0,292.0 L735.0,290.3 L739.0,288.7 L743.0,287.1 L747.0,285.6 L751.0,284.2 L755.0,282.8 L759.0,281.5 L763.0,280.2 L767.0,279.0 L771.0,277.8 L775.0,276.8 L779.0,275.7 L783.0,274.8 L787.0,273.8 L791.0,273.0 L795.0,272.2 L799.0,271.4 L803.0,270.7 L807.0,270.1 L811.0,269.5 L815.0,268.9 L819.0,268.4 L823.0,268.0 L827.0,267.6 L831.0,267.3 L835.0,267.0 L839.0,266.8 L843.0,266.6 L847.0,266.5 L851.0,266.4 L855.0,266.3 L859.0,266.4 L863.0,266.4 L867.0,266.5 L871.0,266.7 L875.0,266.9 L879.0,267.1 L883.0,267.4 L887.0,267.7 L891.0,268.1 L895.0,268.5 L899.0,268.9 L903.0,269.4 L907.0,269.9 L911.0,270.4 L915.0,271.0 L919.0,271.6 L923.0,272.2 L927.0,272.8 L931.0,273.4 L935.0,274.1 L939.0,274.7 L943.0,275.3 L947.0,275.9 L951.0,276.5 L955.0,277.1 L959.0,277.6 L963.0,278.0 L967.0,278.4 L971.0,278.7 L975.0,278.9 L979.0,278.9 L983.0,278.8 L986.0,278.6 L986.0,333.6 L983.0,331.0 L979.0,327.9 L975.0,325.0 L971.0,322.3 L967.0,319.8 L963.0,317.5 L959.0,315.4 L955.0,313.4 L951.0,311.6 L947.0,309.8 L943.0,308.2 L939.0,306.8 L935.0,305.4 L931.0,304.1 L927.0,302.9 L923.0,301.7 L919.0,300.7 L915.0,299.7 L911.0,298.8 L907.0,298.0 L903.0,297.2 L899.0,296.5 L895.0,295.9 L891.0,295.3 L887.0,294.8 L883.0,294.3 L879.0,293.9 L875.0,293.6 L871.0,293.3 L867.0,293.1 L863.0,292.9 L859.0,292.8 L855.0,292.7 L851.0,292.7 L847.0,292.7 L843.0,292.8 L839.0,293.0 L835.0,293.2 L831.0,293.5 L827.0,293.8 L823.0,294.1 L819.0,294.5 L815.0,295.0 L811.0,295.6 L807.0,296.1 L803.0,296.8 L799.0,297.5 L795.0,298.2 L791.0,299.0 L787.0,299.9 L783.0,300.8 L779.0,301.8 L775.0,302.8 L771.0,303.9 L767.0,305.0 L763.0,306.2 L759.0,307.5 L755.0,308.8 L751.0,310.2 L747.0,311.6 L743.0,313.1 L739.0,314.7 L735.0,316.3 L731.0,318.0 L727.0,319.8 L723.0,321.6 L719.0,323.5 L715.0,325.4 L711.0,327.4 L707.0,329.5 L703.0,331.6 L699.0,333.9 L695.0,336.1 L691.0,338.5 L687.0,340.9 L683.0,343.4 L679.0,345.9 L675.0,348.5 L671.0,351.2 L667.0,353.9 L663.0,356.7 L659.0,359.5 L655.0,362.4 L651.0,365.3 L647.0,368.3 L643.0,371.3 L639.0,374.3 L635.0,377.4 L631.0,380.4 L627.0,383.6 L623.0,386.7 L619.0,389.9 L615.0,393.1 L611.0,396.3 L607.0,399.5 L603.0,402.7 L599.0,405.9 L595.0,409.2 L591.0,412.4 L587.0,415.6 L583.0,418.9 L579.0,422.1 L575.0,425.3 L571.0,428.5 L567.0,431.7 L563.0,434.9 L559.0,438.1 L555.0,441.3 L551.0,444.4 L547.0,447.6 L543.0,450.7 L539.0,453.8 L535.0,457.0 L531.0,460.1 L527.0,463.2 L523.0,466.3 L519.0,469.3 L515.0,472.4 L511.0,475.5 L507.0,478.5 L503.0,481.5 L499.0,484.6 L495.0,487.6 L491.0,490.6 L487.0,493.5 L483.0,496.5 L479.0,499.5 L475.0,502.4 L471.0,505.4 L467.0,508.3 L463.0,511.2 L459.0,514.1 L455.0,517.0 L451.0,519.8 L447.0,522.7 L443.0,525.5 L439.0,528.4 L435.0,531.2 L431.0,534.0 L427.0,536.8 L423.0,539.6 L419.0,542.3 L415.0,545.1 L411.0,547.8 L407.0,550.5 L403.0,553.2 L399.0,555.9 L395.0,558.6 L391.0,561.2 L387.0,563.9 L383.0,566.5 L379.0,569.1 L375.0,571.6 L371.0,574.2 L367.0,576.7 L363.0,579.3 L359.0,581.8 L355.0,584.2 L351.0,586.7 L347.0,589.1 L343.0,591.5 L339.0,593.9 L335.0,596.2 L331.0,598.5 L327.0,600.8 L323.0,603.1 L319.0,605.3 L315.0,607.6 L311.0,609.7 L307.0,611.9 L303.0,614.0 L299.0,616.1 L295.0,618.1 L291.0,620.2 L287.0,622.1 L283.0,624.1 L279.0,626.0 L275.0,627.9 L271.0,629.8 L267.0,631.6 L263.0,633.4 L259.0,635.1 L255.0,636.9 L251.0,638.6 L247.0,640.2 L243.0,641.8 L239.0,643.4 L235.0,645.0 L231.0,646.5 L227.0,648.0 L223.0,649.5 L219.0,650.9 L215.0,652.3 L211.0,653.7 L207.0,655.1 L203.0,656.4 L199.0,657.8 L195.0,659.1 L191.0,660.4 L187.0,661.6 L183.0,662.9 L179.0,664.2 L175.0,665.5 L171.0,666.7 L167.0,668.0 L163.0,669.3 L159.0,670.7 L155.0,672.0 L151.0,673.4 L147.0,674.8 L143.0,676.3 L139.0,677.9 L135.0,679.5 L131.0,681.3Z" fill="#999" fill-opacity="0.135"/>
<path d="M131.0,646.3 L135.0,646.4 L139.0,646.5 L143.0,646.5 L147.0,646.4 L151.0,646.3 L155.0,646.1 L159.0,645.8 L163.0,645.5 L167.0,645.1 L171.0,644.7 L175.0,644.2 L179.0,643.6 L183.0,643.0 L187.0,642.3 L191.0,641.6 L195.0,640.8 L199.0,639.9 L203.0,639.0 L207.0,638.0 L211.0,637.0 L215.0,635.9 L219.0,634.8 L223.0,633.6 L227.0,632.4 L231.0,631.1 L235.0,629.8 L239.0,628.4 L243.0,627.0 L247.0,625.5 L251.0,624.0 L255.0,622.5 L259.0,620.9 L263.0,619.2 L267.0,617.5 L271.0,615.8 L275.0,614.0 L279.0,612.2 L283.0,610.4 L287.0,608.5 L291.0,606.5 L295.0,604.6 L299.0,602.6 L303.0,600.5 L307.0,598.4 L311.0,596.3 L315.0,594.2 L319.0,592.0 L323.0,589.8 L327.0,587.6 L331.0,585.3 L335.0,583.0 L339.0,580.7 L343.0,578.3 L347.0,575.9 L351.0,573.5 L355.0,571.1 L359.0,568.6 L363.0,566.1 L367.0,563.6 L371.0,561.1 L375.0,558.6 L379.0,556.0 L383.0,553.4 L387.0,550.8 L391.0,548.1 L395.0,545.5 L399.0,542.8 L403.0,540.2 L407.0,537.5 L411.0,534.7 L415.0,532.0 L419.0,529.3 L423.0,526.5 L427.0,523.8 L431.0,521.0 L435.0,518.2 L439.0,515.4 L443.0,512.5 L447.0,509.7 L451.0,506.8 L455.0,504.0 L459.0,501.1 L463.0,498.2 L467.0,495.3 L471.0,492.4 L475.0,489.4 L479.0,486.5 L483.0,483.5 L487.0,480.5 L491.0,477.6 L495.0,474.6 L499.0,471.6 L503.0,468.5 L507.0,465.5 L511.0,462.5 L515.0,459.4 L519.0,456.3 L523.0,453.3 L527.0,450.2 L531.0,447.1 L535.0,444.0 L539.0,440.8 L543.0,437.7 L547.0,434.6 L551.0,431.4 L555.0,428.3 L559.0,425.1 L563.0,421.9 L567.0,418.7 L571.0,415.5 L575.0,412.3 L579.0,409.1 L583.0,405.9 L587.0,402.6 L591.0,399.4 L595.0,396.2 L599.0,392.9 L603.0,389.7 L607.0,386.5 L611.0,383.3 L615.0,380.1 L619.0,376.9 L623.0,373.7 L627.0,370.6 L631.0,367.4 L635.0,364.4 L639.0,361.3 L643.0,358.3 L647.0,355.3 L651.0,352.3 L655.0,349.4 L659.0,346.5 L663.0,343.7 L667.0,340.9 L671.0,338.2 L675.0,335.5 L679.0,332.9 L683.0,330.4 L687.0,327.9 L691.0,325.5 L695.0,323.1 L699.0,320.9 L703.0,318.6 L707.0,316.5 L711.0,314.4 L715.0,312.4 L719.0,310.5 L723.0,308.6 L727.0,306.8 L731.0,305.0 L735.0,303.3 L739.0,301.7 L743.0,300.1 L747.0,298.6 L751.0,297.2 L755.0,295.8 L759.0,294.5 L763.0,293.2 L767.0,292.0 L771.0,290.9 L775.0,289.8 L779.0,288.7 L783.0,287.8 L787.0,286.9 L791.0,286.0 L795.0,285.2 L799.0,284.4 L803.0,283.7 L807.0,283.1 L811.0,282.5 L815.0,282.0 L819.0,281.5 L823.0,281.1 L827.0,280.7 L831.0,280.4 L835.0,280.1 L839.0,279.9 L843.0,279.7 L847.0,279.6 L851.0,279.5 L855.0,279.5 L859.0,279.6 L863.0,279.7 L867.0,279.8 L871.0,280.0 L875.0,280.2 L879.0,280.5 L883.0,280.9 L887.0,281.2 L891.0,281.7 L895.0,282.2 L899.0,282.7 L903.0,283.3 L907.0,283.9 L911.0,284.6 L915.0,285.4 L919.0,286.1 L923.0,287.0 L927.0,287.8 L931.0,288.7 L935.0,289.7 L939.0,290.7 L943.0,291.8 L947.0,292.9 L951.0,294.0 L955.0,295.2 L959.0,296.5 L963.0,297.8 L967.0,299.1 L971.0,300.5 L975.0,301.9 L979.0,303.4 L983.0,304.9 L986.0,306.1" fill="none" stroke="#8D84FF" stroke-width="4.5" stroke-linejoin="round"/>
<path d="M131.0,608.0 L135.0,609.8 L139.0,611.4 L143.0,612.8 L147.0,614.0 L151.0,615.1 L155.0,616.0 L159.0,616.8 L163.0,617.5 L167.0,618.1 L171.0,618.5 L175.0,618.8 L179.0,619.1 L183.0,619.2 L187.0,619.2 L191.0,619.2 L195.0,619.1 L199.0,618.9 L203.0,618.6 L207.0,618.2 L211.0,617.8 L215.0,617.3 L219.0,616.7 L223.0,616.1 L227.0,615.4 L231.0,614.7 L235.0,613.9 L239.0,613.0 L243.0,612.1 L247.0,611.1 L251.0,610.1 L255.0,609.0 L259.0,607.9 L263.0,606.7 L267.0,605.5 L271.0,604.2 L275.0,602.9 L279.0,601.5 L283.0,600.0 L287.0,598.6 L291.0,597.0 L295.0,595.5 L299.0,593.8 L303.0,592.2 L307.0,590.4 L311.0,588.7 L315.0,586.8 L319.0,585.0 L323.0,583.1 L327.0,581.1 L331.0,579.1 L335.0,577.0 L339.0,574.9 L343.0,572.8 L347.0,570.5 L351.0,568.2 L355.0,565.9 L359.0,563.5 L363.0,561.0 L367.0,558.5 L371.0,555.9 L375.0,553.2 L379.0,550.5 L383.0,547.6 L387.0,544.7 L391.0,541.8 L395.0,538.7 L399.0,535.6 L403.0,532.4 L407.0,529.1 L411.0,525.7 L415.0,522.2 L419.0,518.7 L423.0,515.1 L427.0,511.5 L431.0,507.9 L435.0,504.3 L439.0,500.6 L443.0,496.9 L447.0,493.2 L451.0,489.6 L455.0,485.9 L459.0,482.3 L463.0,478.7 L467.0,475.2 L471.0,471.7 L475.0,468.3 L479.0,465.0 L483.0,461.7 L487.0,458.5 L491.0,455.3 L495.0,452.2 L499.0,449.0 L503.0,445.9 L507.0,442.8 L511.0,439.7 L515.0,436.5 L519.0,433.3 L523.0,430.1 L527.0,426.9 L531.0,423.6 L535.0,420.3 L539.0,416.9 L543.0,413.6 L547.0,410.2 L551.0,406.9 L555.0,403.7 L559.0,400.5 L563.0,397.3 L567.0,394.2 L571.0,391.2 L575.0,388.2 L579.0,385.2 L583.0,382.2 L587.0,379.3 L591.0,376.3 L595.0,373.4 L599.0,370.5 L603.0,367.6 L607.0,364.7 L611.0,361.8 L615.0,358.9 L619.0,355.9 L623.0,353.0 L627.0,350.1 L631.0,347.2 L635.0,344.2 L639.0,341.3 L643.0,338.4 L647.0,335.5 L651.0,332.7 L655.0,329.9 L659.0,327.1 L663.0,324.3 L667.0,321.6 L671.0,318.9 L675.0,316.2 L679.0,313.6 L683.0,311.1 L687.0,308.6 L691.0,306.1 L695.0,303.7 L699.0,301.4 L703.0,299.1 L707.0,296.9 L711.0,294.7 L715.0,292.5 L719.0,290.4 L723.0,288.3 L727.0,286.2 L731.0,284.1 L735.0,282.1 L739.0,280.0 L743.0,278.0 L747.0,276.0 L751.0,274.0 L755.0,272.0 L759.0,270.1 L763.0,268.1 L767.0,266.2 L771.0,264.3 L775.0,262.5 L779.0,260.7 L783.0,258.8 L787.0,257.1 L791.0,255.3 L795.0,253.6 L799.0,251.9 L803.0,250.2 L807.0,248.6 L811.0,247.0 L815.0,245.5 L819.0,244.0 L823.0,242.5 L827.0,241.1 L831.0,239.7 L835.0,238.3 L839.0,237.0 L843.0,235.7 L847.0,234.5 L851.0,233.3 L855.0,232.1 L859.0,231.0 L863.0,230.0 L867.0,228.9 L871.0,227.9 L875.0,227.0 L879.0,226.0 L883.0,225.1 L887.0,224.3 L891.0,223.4 L895.0,222.6 L899.0,221.8 L903.0,221.0 L907.0,220.3 L911.0,219.5 L915.0,218.8 L919.0,218.1 L923.0,217.3 L927.0,216.6 L931.0,215.9 L935.0,215.1 L939.0,214.4 L943.0,213.6 L947.0,212.8 L951.0,211.9 L955.0,211.0 L959.0,210.0 L963.0,208.9 L967.0,207.8 L971.0,206.5 L975.0,205.1 L979.0,203.5 L983.0,201.7 L986.0,200.3 L986.0,255.3 L983.0,254.0 L979.0,252.5 L975.0,251.2 L971.0,250.1 L967.0,249.2 L963.0,248.4 L959.0,247.8 L955.0,247.3 L951.0,246.9 L947.0,246.7 L943.0,246.5 L939.0,246.4 L935.0,246.4 L931.0,246.5 L927.0,246.7 L923.0,246.9 L919.0,247.2 L915.0,247.5 L911.0,247.9 L907.0,248.3 L903.0,248.8 L899.0,249.4 L895.0,250.0 L891.0,250.6 L887.0,251.3 L883.0,252.1 L879.0,252.8 L875.0,253.7 L871.0,254.6 L867.0,255.5 L863.0,256.4 L859.0,257.5 L855.0,258.5 L851.0,259.6 L847.0,260.8 L843.0,262.0 L839.0,263.2 L835.0,264.5 L831.0,265.8 L827.0,267.2 L823.0,268.6 L819.0,270.1 L815.0,271.6 L811.0,273.1 L807.0,274.7 L803.0,276.3 L799.0,278.0 L795.0,279.6 L791.0,281.4 L787.0,283.1 L783.0,284.9 L779.0,286.7 L775.0,288.5 L771.0,290.4 L767.0,292.3 L763.0,294.2 L759.0,296.1 L755.0,298.0 L751.0,300.0 L747.0,302.0 L743.0,304.0 L739.0,306.0 L735.0,308.1 L731.0,310.1 L727.0,312.2 L723.0,314.3 L719.0,316.4 L715.0,318.5 L711.0,320.7 L707.0,322.9 L703.0,325.1 L699.0,327.4 L695.0,329.7 L691.0,332.1 L687.0,334.6 L683.0,337.1 L679.0,339.6 L675.0,342.2 L671.0,344.9 L667.0,347.6 L663.0,350.3 L659.0,353.1 L655.0,355.9 L651.0,358.7 L647.0,361.5 L643.0,364.4 L639.0,367.3 L635.0,370.2 L631.0,373.2 L627.0,376.1 L623.0,379.0 L619.0,381.9 L615.0,384.9 L611.0,387.8 L607.0,390.7 L603.0,393.6 L599.0,396.5 L595.0,399.4 L591.0,402.3 L587.0,405.3 L583.0,408.2 L579.0,411.2 L575.0,414.2 L571.0,417.2 L567.0,420.2 L563.0,423.3 L559.0,426.5 L555.0,429.7 L551.0,432.9 L547.0,436.2 L543.0,439.6 L539.0,442.9 L535.0,446.3 L531.0,449.6 L527.0,452.9 L523.0,456.1 L519.0,459.4 L515.0,462.5 L511.0,465.7 L507.0,468.8 L503.0,471.9 L499.0,475.0 L495.0,478.2 L491.0,481.3 L487.0,484.5 L483.0,487.8 L479.0,491.0 L475.0,494.4 L471.0,497.8 L467.0,501.2 L463.0,504.8 L459.0,508.3 L455.0,512.0 L451.0,515.6 L447.0,519.3 L443.0,522.9 L439.0,526.6 L435.0,530.3 L431.0,534.0 L427.0,537.6 L423.0,541.2 L419.0,544.8 L415.0,548.3 L411.0,551.8 L407.0,555.1 L403.0,558.5 L399.0,561.7 L395.0,564.8 L391.0,567.9 L387.0,570.9 L383.0,573.8 L379.0,576.6 L375.0,579.4 L371.0,582.1 L367.0,584.7 L363.0,587.3 L359.0,589.8 L355.0,592.2 L351.0,594.6 L347.0,596.9 L343.0,599.2 L339.0,601.4 L335.0,603.5 L331.0,605.6 L327.0,607.7 L323.0,609.7 L319.0,611.7 L315.0,613.6 L311.0,615.5 L307.0,617.3 L303.0,619.1 L299.0,620.9 L295.0,622.6 L291.0,624.3 L287.0,625.9 L283.0,627.5 L279.0,629.1 L275.0,630.6 L271.0,632.1 L267.0,633.6 L263.0,635.0 L259.0,636.4 L255.0,637.8 L251.0,639.2 L247.0,640.5 L243.0,641.7 L239.0,643.0 L235.0,644.2 L231.0,645.4 L227.0,646.6 L223.0,647.8 L219.0,649.0 L215.0,650.1 L211.0,651.2 L207.0,652.3 L203.0,653.5 L199.0,654.6 L195.0,655.7 L191.0,656.8 L187.0,657.9 L183.0,659.1 L179.0,660.2 L175.0,661.4 L171.0,662.6 L167.0,663.8 L163.0,665.1 L159.0,666.5 L155.0,667.9 L151.0,669.3 L147.0,670.9 L143.0,672.5 L139.0,674.2 L135.0,676.0 L131.0,678.0Z" fill="#999" fill-opacity="0.135"/>
<path d="M131.0,643.0 L135.0,642.9 L139.0,642.8 L143.0,642.6 L147.0,642.4 L151.0,642.2 L155.0,641.9 L159.0,641.7 L163.0,641.3 L167.0,641.0 L171.0,640.6 L175.0,640.1 L179.0,639.6 L183.0,639.1 L187.0,638.6 L191.0,638.0 L195.0,637.4 L199.0,636.7 L203.0,636.0 L207.0,635.3 L211.0,634.5 L215.0,633.7 L219.0,632.8 L223.0,632.0 L227.0,631.0 L231.0,630.1 L235.0,629.1 L239.0,628.0 L243.0,626.9 L247.0,625.8 L251.0,624.6 L255.0,623.4 L259.0,622.2 L263.0,620.9 L267.0,619.5 L271.0,618.2 L275.0,616.7 L279.0,615.3 L283.0,613.8 L287.0,612.2 L291.0,610.7 L295.0,609.0 L299.0,607.4 L303.0,605.6 L307.0,603.9 L311.0,602.1 L315.0,600.2 L319.0,598.3 L323.0,596.4 L327.0,594.4 L331.0,592.4 L335.0,590.3 L339.0,588.1 L343.0,586.0 L347.0,583.7 L351.0,581.4 L355.0,579.1 L359.0,576.6 L363.0,574.2 L367.0,571.6 L371.0,569.0 L375.0,566.3 L379.0,563.6 L383.0,560.7 L387.0,557.8 L391.0,554.8 L395.0,551.8 L399.0,548.6 L403.0,545.4 L407.0,542.1 L411.0,538.7 L415.0,535.3 L419.0,531.7 L423.0,528.2 L427.0,524.6 L431.0,520.9 L435.0,517.3 L439.0,513.6 L443.0,509.9 L447.0,506.2 L451.0,502.6 L455.0,498.9 L459.0,495.3 L463.0,491.8 L467.0,488.2 L471.0,484.8 L475.0,481.4 L479.0,478.0 L483.0,474.7 L487.0,471.5 L491.0,468.3 L495.0,465.2 L499.0,462.0 L503.0,458.9 L507.0,455.8 L511.0,452.7 L515.0,449.5 L519.0,446.3 L523.0,443.1 L527.0,439.9 L531.0,436.6 L535.0,433.3 L539.0,429.9 L543.0,426.6 L547.0,423.2 L551.0,419.9 L555.0,416.7 L559.0,413.5 L563.0,410.3 L567.0,407.2 L571.0,404.2 L575.0,401.2 L579.0,398.2 L583.0,395.2 L587.0,392.3 L591.0,389.3 L595.0,386.4 L599.0,383.5 L603.0,380.6 L607.0,377.7 L611.0,374.8 L615.0,371.9 L619.0,368.9 L623.0,366.0 L627.0,363.1 L631.0,360.2 L635.0,357.2 L639.0,354.3 L643.0,351.4 L647.0,348.5 L651.0,345.7 L655.0,342.9 L659.0,340.1 L663.0,337.3 L667.0,334.6 L671.0,331.9 L675.0,329.2 L679.0,326.6 L683.0,324.1 L687.0,321.6 L691.0,319.1 L695.0,316.7 L699.0,314.4 L703.0,312.1 L707.0,309.9 L711.0,307.7 L715.0,305.5 L719.0,303.4 L723.0,301.3 L727.0,299.2 L731.0,297.1 L735.0,295.1 L739.0,293.0 L743.0,291.0 L747.0,289.0 L751.0,287.0 L755.0,285.0 L759.0,283.1 L763.0,281.2 L767.0,279.2 L771.0,277.4 L775.0,275.5 L779.0,273.7 L783.0,271.9 L787.0,270.1 L791.0,268.3 L795.0,266.6 L799.0,264.9 L803.0,263.3 L807.0,261.7 L811.0,260.1 L815.0,258.5 L819.0,257.0 L823.0,255.6 L827.0,254.1 L831.0,252.7 L835.0,251.4 L839.0,250.1 L843.0,248.8 L847.0,247.6 L851.0,246.4 L855.0,245.3 L859.0,244.2 L863.0,243.2 L867.0,242.2 L871.0,241.2 L875.0,240.3 L879.0,239.4 L883.0,238.6 L887.0,237.8 L891.0,237.0 L895.0,236.3 L899.0,235.6 L903.0,234.9 L907.0,234.3 L911.0,233.7 L915.0,233.1 L919.0,232.6 L923.0,232.1 L927.0,231.6 L931.0,231.2 L935.0,230.8 L939.0,230.4 L943.0,230.1 L947.0,229.7 L951.0,229.4 L955.0,229.2 L959.0,228.9 L963.0,228.7 L967.0,228.5 L971.0,228.3 L975.0,228.1 L979.0,228.0 L983.0,227.9 L986.0,227.8" fill="none" stroke="#DF52F0" stroke-width="4.5" stroke-linejoin="round"/>
<path d="M131.0,592.7 L135.0,595.1 L139.0,597.2 L143.0,599.2 L147.0,601.0 L151.0,602.5 L155.0,603.9 L159.0,605.1 L163.0,606.2 L167.0,607.1 L171.0,607.9 L175.0,608.5 L179.0,609.0 L183.0,609.4 L187.0,609.6 L191.0,609.8 L195.0,609.8 L199.0,609.7 L203.0,609.6 L207.0,609.3 L211.0,608.9 L215.0,608.5 L219.0,607.9 L223.0,607.3 L227.0,606.6 L231.0,605.8 L235.0,605.0 L239.0,604.0 L243.0,603.0 L247.0,601.9 L251.0,600.8 L255.0,599.6 L259.0,598.3 L263.0,596.9 L267.0,595.5 L271.0,594.0 L275.0,592.5 L279.0,590.9 L283.0,589.2 L287.0,587.5 L291.0,585.7 L295.0,583.8 L299.0,581.9 L303.0,580.0 L307.0,578.0 L311.0,575.9 L315.0,573.8 L319.0,571.6 L323.0,569.4 L327.0,567.1 L331.0,564.8 L335.0,562.4 L339.0,560.0 L343.0,557.5 L347.0,555.0 L351.0,552.4 L355.0,549.8 L359.0,547.1 L363.0,544.4 L367.0,541.7 L371.0,538.9 L375.0,536.0 L379.0,533.1 L383.0,530.2 L387.0,527.2 L391.0,524.2 L395.0,521.1 L399.0,518.0 L403.0,514.8 L407.0,511.6 L411.0,508.4 L415.0,505.1 L419.0,501.8 L423.0,498.4 L427.0,495.1 L431.0,491.7 L435.0,488.2 L439.0,484.7 L443.0,481.2 L447.0,477.7 L451.0,474.1 L455.0,470.5 L459.0,466.9 L463.0,463.3 L467.0,459.6 L471.0,456.0 L475.0,452.3 L479.0,448.6 L483.0,444.8 L487.0,441.1 L491.0,437.3 L495.0,433.6 L499.0,429.8 L503.0,426.0 L507.0,422.2 L511.0,418.4 L515.0,414.6 L519.0,410.8 L523.0,407.0 L527.0,403.2 L531.0,399.4 L535.0,395.6 L539.0,391.8 L543.0,388.0 L547.0,384.2 L551.0,380.5 L555.0,376.7 L559.0,372.9 L563.0,369.2 L567.0,365.4 L571.0,361.7 L575.0,358.0 L579.0,354.3 L583.0,350.6 L587.0,346.9 L591.0,343.3 L595.0,339.7 L599.0,336.1 L603.0,332.5 L607.0,328.9 L611.0,325.4 L615.0,321.9 L619.0,318.4 L623.0,314.9 L627.0,311.5 L631.0,308.1 L635.0,304.7 L639.0,301.4 L643.0,298.1 L647.0,294.8 L651.0,291.6 L655.0,288.4 L659.0,285.2 L663.0,282.1 L667.0,279.0 L671.0,276.0 L675.0,273.0 L679.0,270.0 L683.0,267.1 L687.0,264.3 L691.0,261.5 L695.0,258.7 L699.0,256.0 L703.0,253.3 L707.0,250.7 L711.0,248.1 L715.0,245.6 L719.0,243.2 L723.0,240.8 L727.0,238.5 L731.0,236.2 L735.0,234.0 L739.0,231.8 L743.0,229.7 L747.0,227.7 L751.0,225.7 L755.0,223.8 L759.0,221.9 L763.0,220.2 L767.0,218.5 L771.0,216.8 L775.0,215.2 L779.0,213.7 L783.0,212.2 L787.0,210.9 L791.0,209.5 L795.0,208.3 L799.0,207.0 L803.0,205.9 L807.0,204.8 L811.0,203.8 L815.0,202.8 L819.0,202.0 L823.0,201.1 L827.0,200.3 L831.0,199.6 L835.0,199.0 L839.0,198.4 L843.0,197.8 L847.0,197.4 L851.0,197.0 L855.0,196.6 L859.0,196.3 L863.0,196.1 L867.0,195.9 L871.0,195.7 L875.0,195.7 L879.0,195.6 L883.0,195.7 L887.0,195.8 L891.0,195.9 L895.0,196.1 L899.0,196.3 L903.0,196.6 L907.0,197.0 L911.0,197.3 L915.0,197.8 L919.0,198.2 L923.0,198.7 L927.0,199.2 L931.0,199.8 L935.0,200.4 L939.0,201.0 L943.0,201.6 L947.0,202.3 L951.0,202.9 L955.0,203.6 L959.0,204.2 L963.0,204.8 L967.0,205.4 L971.0,205.9 L975.0,206.4 L979.0,206.8 L983.0,207.2 L987.0,207.4 L991.0,207.4 L995.0,207.3 L996.0,207.3 L996.0,262.3 L995.0,261.4 L991.0,258.0 L987.0,254.8 L983.0,252.0 L979.0,249.3 L975.0,246.8 L971.0,244.5 L967.0,242.4 L963.0,240.5 L959.0,238.7 L955.0,237.0 L951.0,235.4 L947.0,233.9 L943.0,232.6 L939.0,231.3 L935.0,230.2 L931.0,229.1 L927.0,228.1 L923.0,227.3 L919.0,226.4 L915.0,225.7 L911.0,225.0 L907.0,224.4 L903.0,223.9 L899.0,223.5 L895.0,223.1 L891.0,222.8 L887.0,222.5 L883.0,222.4 L879.0,222.2 L875.0,222.2 L871.0,222.2 L867.0,222.3 L863.0,222.4 L859.0,222.6 L855.0,222.9 L851.0,223.2 L847.0,223.6 L843.0,224.0 L839.0,224.5 L835.0,225.1 L831.0,225.7 L827.0,226.4 L823.0,227.2 L819.0,228.0 L815.0,228.9 L811.0,229.9 L807.0,230.9 L803.0,232.0 L799.0,233.1 L795.0,234.3 L791.0,235.6 L787.0,236.9 L783.0,238.3 L779.0,239.7 L775.0,241.2 L771.0,242.8 L767.0,244.5 L763.0,246.2 L759.0,248.0 L755.0,249.8 L751.0,251.7 L747.0,253.7 L743.0,255.7 L739.0,257.8 L735.0,260.0 L731.0,262.2 L727.0,264.5 L723.0,266.8 L719.0,269.2 L715.0,271.6 L711.0,274.2 L707.0,276.7 L703.0,279.3 L699.0,282.0 L695.0,284.7 L691.0,287.5 L687.0,290.3 L683.0,293.1 L679.0,296.1 L675.0,299.0 L671.0,302.0 L667.0,305.0 L663.0,308.1 L659.0,311.2 L655.0,314.4 L651.0,317.6 L647.0,320.8 L643.0,324.1 L639.0,327.4 L635.0,330.7 L631.0,334.1 L627.0,337.5 L623.0,340.9 L619.0,344.4 L615.0,347.9 L611.0,351.4 L607.0,354.9 L603.0,358.5 L599.0,362.1 L595.0,365.7 L591.0,369.3 L587.0,372.9 L583.0,376.6 L579.0,380.3 L575.0,384.0 L571.0,387.7 L567.0,391.4 L563.0,395.2 L559.0,398.9 L555.0,402.7 L551.0,406.5 L547.0,410.2 L543.0,414.0 L539.0,417.8 L535.0,421.6 L531.0,425.4 L527.0,429.2 L523.0,433.0 L519.0,436.9 L515.0,440.7 L511.0,444.5 L507.0,448.3 L503.0,452.0 L499.0,455.8 L495.0,459.6 L491.0,463.4 L487.0,467.1 L483.0,470.9 L479.0,474.6 L475.0,478.3 L471.0,482.0 L467.0,485.7 L463.0,489.3 L459.0,493.0 L455.0,496.6 L451.0,500.2 L447.0,503.7 L443.0,507.3 L439.0,510.8 L435.0,514.3 L431.0,517.7 L427.0,521.1 L423.0,524.5 L419.0,527.9 L415.0,531.2 L411.0,534.5 L407.0,537.7 L403.0,540.9 L399.0,544.1 L395.0,547.2 L391.0,550.3 L387.0,553.3 L383.0,556.3 L379.0,559.3 L375.0,562.2 L371.0,565.1 L367.0,567.9 L363.0,570.7 L359.0,573.4 L355.0,576.1 L351.0,578.8 L347.0,581.4 L343.0,583.9 L339.0,586.4 L335.0,588.9 L331.0,591.3 L327.0,593.7 L323.0,596.0 L319.0,598.3 L315.0,600.5 L311.0,602.7 L307.0,604.9 L303.0,607.0 L299.0,609.0 L295.0,611.0 L291.0,612.9 L287.0,614.8 L283.0,616.7 L279.0,618.5 L275.0,620.3 L271.0,622.0 L267.0,623.6 L263.0,625.3 L259.0,626.8 L255.0,628.4 L251.0,629.8 L247.0,631.3 L243.0,632.7 L239.0,634.0 L235.0,635.3 L231.0,636.6 L227.0,637.8 L223.0,639.0 L219.0,640.2 L215.0,641.3 L211.0,642.4 L207.0,643.4 L203.0,644.4 L199.0,645.4 L195.0,646.4 L191.0,647.4 L187.0,648.3 L183.0,649.2 L179.0,650.1 L175.0,651.0 L171.0,652.0 L167.0,652.9 L163.0,653.8 L159.0,654.7 L155.0,655.7 L151.0,656.7 L147.0,657.8 L143.0,658.9 L139.0,660.1 L135.0,661.3 L131.0,662.7Z" fill="#999" fill-opacity="0.135"/>
<path d="M131.0,627.7 L135.0,628.2 L139.0,628.7 L143.0,629.1 L147.0,629.4 L151.0,629.6 L155.0,629.8 L159.0,629.9 L163.0,630.0 L167.0,630.0 L171.0,629.9 L175.0,629.8 L179.0,629.6 L183.0,629.3 L187.0,629.0 L191.0,628.6 L195.0,628.1 L199.0,627.6 L203.0,627.0 L207.0,626.4 L211.0,625.6 L215.0,624.9 L219.0,624.1 L223.0,623.2 L227.0,622.2 L231.0,621.2 L235.0,620.2 L239.0,619.0 L243.0,617.8 L247.0,616.6 L251.0,615.3 L255.0,614.0 L259.0,612.6 L263.0,611.1 L267.0,609.6 L271.0,608.0 L275.0,606.4 L279.0,604.7 L283.0,602.9 L287.0,601.2 L291.0,599.3 L295.0,597.4 L299.0,595.5 L303.0,593.5 L307.0,591.4 L311.0,589.3 L315.0,587.2 L319.0,585.0 L323.0,582.7 L327.0,580.4 L331.0,578.1 L335.0,575.7 L339.0,573.2 L343.0,570.7 L347.0,568.2 L351.0,565.6 L355.0,563.0 L359.0,560.3 L363.0,557.5 L367.0,554.8 L371.0,552.0 L375.0,549.1 L379.0,546.2 L383.0,543.2 L387.0,540.3 L391.0,537.2 L395.0,534.1 L399.0,531.0 L403.0,527.9 L407.0,524.7 L411.0,521.4 L415.0,518.2 L419.0,514.8 L423.0,511.5 L427.0,508.1 L431.0,504.7 L435.0,501.2 L439.0,497.7 L443.0,494.2 L447.0,490.7 L451.0,487.1 L455.0,483.5 L459.0,479.9 L463.0,476.3 L467.0,472.6 L471.0,469.0 L475.0,465.3 L479.0,461.6 L483.0,457.8 L487.0,454.1 L491.0,450.4 L495.0,446.6 L499.0,442.8 L503.0,439.0 L507.0,435.2 L511.0,431.5 L515.0,427.7 L519.0,423.8 L523.0,420.0 L527.0,416.2 L531.0,412.4 L535.0,408.6 L539.0,404.8 L543.0,401.0 L547.0,397.2 L551.0,393.5 L555.0,389.7 L559.0,385.9 L563.0,382.2 L567.0,378.4 L571.0,374.7 L575.0,371.0 L579.0,367.3 L583.0,363.6 L587.0,359.9 L591.0,356.3 L595.0,352.7 L599.0,349.1 L603.0,345.5 L607.0,341.9 L611.0,338.4 L615.0,334.9 L619.0,331.4 L623.0,327.9 L627.0,324.5 L631.0,321.1 L635.0,317.7 L639.0,314.4 L643.0,311.1 L647.0,307.8 L651.0,304.6 L655.0,301.4 L659.0,298.2 L663.0,295.1 L667.0,292.0 L671.0,289.0 L675.0,286.0 L679.0,283.0 L683.0,280.1 L687.0,277.3 L691.0,274.5 L695.0,271.7 L699.0,269.0 L703.0,266.3 L707.0,263.7 L711.0,261.2 L715.0,258.6 L719.0,256.2 L723.0,253.8 L727.0,251.5 L731.0,249.2 L735.0,247.0 L739.0,244.8 L743.0,242.7 L747.0,240.7 L751.0,238.7 L755.0,236.8 L759.0,235.0 L763.0,233.2 L767.0,231.5 L771.0,229.8 L775.0,228.2 L779.0,226.7 L783.0,225.3 L787.0,223.9 L791.0,222.5 L795.0,221.3 L799.0,220.1 L803.0,218.9 L807.0,217.9 L811.0,216.8 L815.0,215.9 L819.0,215.0 L823.0,214.2 L827.0,213.4 L831.0,212.7 L835.0,212.0 L839.0,211.5 L843.0,210.9 L847.0,210.5 L851.0,210.1 L855.0,209.7 L859.0,209.5 L863.0,209.2 L867.0,209.1 L871.0,209.0 L875.0,208.9 L879.0,208.9 L883.0,209.0 L887.0,209.2 L891.0,209.3 L895.0,209.6 L899.0,209.9 L903.0,210.3 L907.0,210.7 L911.0,211.2 L915.0,211.7 L919.0,212.3 L923.0,213.0 L927.0,213.7 L931.0,214.5 L935.0,215.3 L939.0,216.2 L943.0,217.1 L947.0,218.1 L951.0,219.2 L955.0,220.3 L959.0,221.4 L963.0,222.6 L967.0,223.9 L971.0,225.2 L975.0,226.6 L979.0,228.1 L983.0,229.6 L987.0,231.1 L991.0,232.7 L995.0,234.4 L996.0,234.8" fill="none" stroke="#FF45B2" stroke-width="4.5" stroke-linejoin="round"/>
<path d="M131.0,589.5 L134.0,591.0 L137.0,592.4 L140.0,593.8 L143.0,595.1 L146.0,596.3 L149.0,597.5 L152.0,598.5 L155.0,599.2 L158.0,600.0 L161.0,600.6 L164.0,601.3 L167.0,601.9 L170.0,602.4 L173.0,602.6 L176.0,602.7 L179.0,602.8 L182.0,602.9 L185.0,602.9 L188.0,602.9 L191.0,602.8 L194.0,602.5 L197.0,602.2 L200.0,601.8 L203.0,601.4 L206.0,601.0 L209.0,600.5 L212.0,600.0 L215.0,599.4 L218.0,598.8 L221.0,598.2 L224.0,597.4 L227.0,596.5 L230.0,595.7 L233.0,594.8 L236.0,593.8 L239.0,592.8 L242.0,591.8 L245.0,590.7 L248.0,589.6 L251.0,588.5 L254.0,587.3 L257.0,586.0 L260.0,584.7 L263.0,583.4 L266.0,582.0 L269.0,580.6 L272.0,579.1 L275.0,577.7 L278.0,576.1 L281.0,574.6 L284.0,573.0 L287.0,571.4 L290.0,569.7 L293.0,568.1 L296.0,566.4 L299.0,564.6 L302.0,562.8 L305.0,561.0 L308.0,559.2 L311.0,557.3 L314.0,555.3 L317.0,553.3 L320.0,551.2 L323.0,549.1 L326.0,546.8 L329.0,544.6 L332.0,542.2 L335.0,539.8 L338.0,537.3 L341.0,534.8 L344.0,532.2 L347.0,529.6 L350.0,527.0 L353.0,524.2 L356.0,521.5 L359.0,518.7 L362.0,515.9 L365.0,513.1 L368.0,510.2 L371.0,507.3 L374.0,504.4 L377.0,501.5 L380.0,498.5 L383.0,495.6 L386.0,492.6 L389.0,489.7 L392.0,486.7 L395.0,483.8 L398.0,480.8 L401.0,477.9 L404.0,475.0 L407.0,472.1 L410.0,469.2 L413.0,466.3 L416.0,463.5 L419.0,460.7 L422.0,458.0 L425.0,455.2 L428.0,452.5 L431.0,449.9 L434.0,447.3 L437.0,444.8 L440.0,442.3 L443.0,439.8 L446.0,437.5 L449.0,435.2 L452.0,432.9 L455.0,430.7 L458.0,428.7 L461.0,426.6 L464.0,424.7 L467.0,422.8 L470.0,421.0 L473.0,419.3 L476.0,417.6 L479.0,416.0 L482.0,414.4 L485.0,412.8 L488.0,411.3 L491.0,409.9 L494.0,408.5 L497.0,407.1 L500.0,405.7 L503.0,404.3 L506.0,403.0 L509.0,401.6 L512.0,400.3 L515.0,398.9 L518.0,397.6 L521.0,396.2 L524.0,394.8 L527.0,393.4 L530.0,392.0 L533.0,390.5 L536.0,389.0 L539.0,387.5 L542.0,385.9 L545.0,384.3 L548.0,382.7 L551.0,381.0 L554.0,379.2 L557.0,377.4 L560.0,375.6 L563.0,373.7 L566.0,371.8 L569.0,369.8 L572.0,367.8 L575.0,365.8 L578.0,363.8 L581.0,361.8 L584.0,359.7 L587.0,357.6 L590.0,355.6 L593.0,353.4 L596.0,351.1 L599.0,348.9 L602.0,346.7 L605.0,344.5 L608.0,342.3 L611.0,340.0 L614.0,337.7 L617.0,335.3 L620.0,333.0 L623.0,330.7 L626.0,328.3 L629.0,325.7 L632.0,323.1 L635.0,320.6 L638.0,318.0 L641.0,315.2 L644.0,312.5 L647.0,309.8 L650.0,306.7 L653.0,303.6 L656.0,300.6 L656.0,356.6 L653.0,356.6 L650.0,356.7 L647.0,356.8 L644.0,357.4 L641.0,358.0 L638.0,358.7 L635.0,359.6 L632.0,360.6 L629.0,361.7 L626.0,362.8 L623.0,364.2 L620.0,365.7 L617.0,367.2 L614.0,368.7 L611.0,370.3 L608.0,372.0 L605.0,373.7 L602.0,375.5 L599.0,377.3 L596.0,379.0 L593.0,380.8 L590.0,382.6 L587.0,384.5 L584.0,386.4 L581.0,388.3 L578.0,390.2 L575.0,392.0 L572.0,393.9 L569.0,395.7 L566.0,397.5 L563.0,399.3 L560.0,401.0 L557.0,402.9 L554.0,404.6 L551.0,406.4 L548.0,408.1 L545.0,409.7 L542.0,411.4 L539.0,413.0 L536.0,414.5 L533.0,416.0 L530.0,417.5 L527.0,418.9 L524.0,420.3 L521.0,421.7 L518.0,423.0 L515.0,424.4 L512.0,425.8 L509.0,427.1 L506.0,428.5 L503.0,429.8 L500.0,431.2 L497.0,432.6 L494.0,434.0 L491.0,435.4 L488.0,436.9 L485.0,438.4 L482.0,439.9 L479.0,441.5 L476.0,443.1 L473.0,444.8 L470.0,446.6 L467.0,448.4 L464.0,450.3 L461.0,452.2 L458.0,454.2 L455.0,456.4 L452.0,458.5 L449.0,460.8 L446.0,463.1 L443.0,465.5 L440.0,467.9 L437.0,470.4 L434.0,473.0 L431.0,475.6 L428.0,478.2 L425.0,480.9 L422.0,483.6 L419.0,486.4 L416.0,489.2 L413.0,492.0 L410.0,494.9 L407.0,497.8 L404.0,500.7 L401.0,503.6 L398.0,506.5 L395.0,509.5 L392.0,512.4 L389.0,515.4 L386.0,518.4 L383.0,521.3 L380.0,524.3 L377.0,527.2 L374.0,530.1 L371.0,533.1 L368.0,536.0 L365.0,538.8 L362.0,541.7 L359.0,544.5 L356.0,547.3 L353.0,550.0 L350.0,552.8 L347.0,555.4 L344.0,558.1 L341.0,560.6 L338.0,563.2 L335.0,565.6 L332.0,568.1 L329.0,570.4 L326.0,572.7 L323.0,574.9 L320.0,577.1 L317.0,579.2 L314.0,581.2 L311.0,583.1 L308.0,585.1 L305.0,586.9 L302.0,588.7 L299.0,590.5 L296.0,592.3 L293.0,594.0 L290.0,595.7 L287.0,597.3 L284.0,598.9 L281.0,600.5 L278.0,602.1 L275.0,603.6 L272.0,605.1 L269.0,606.5 L266.0,608.0 L263.0,609.3 L260.0,610.7 L257.0,612.0 L254.0,613.3 L251.0,614.5 L248.0,615.7 L245.0,616.9 L242.0,618.1 L239.0,619.2 L236.0,620.3 L233.0,621.3 L230.0,622.3 L227.0,623.3 L224.0,624.2 L221.0,625.1 L218.0,626.0 L215.0,626.9 L212.0,627.8 L209.0,628.6 L206.0,629.4 L203.0,630.1 L200.0,630.8 L197.0,631.5 L194.0,632.1 L191.0,632.7 L188.0,633.3 L185.0,633.9 L182.0,634.5 L179.0,635.0 L176.0,635.5 L173.0,636.0 L170.0,636.4 L167.0,637.1 L164.0,637.7 L161.0,638.2 L158.0,638.8 L155.0,639.2 L152.0,639.7 L149.0,640.2 L146.0,640.8 L143.0,641.5 L140.0,642.1 L137.0,642.6 L134.0,643.1 L131.0,643.5Z" fill="#000" fill-opacity="0.74"/>
<path d="M131.0,616.5 L134.0,617.0 L137.0,617.5 L140.0,617.9 L143.0,618.3 L146.0,618.6 L149.0,618.9 L152.0,619.1 L155.0,619.2 L158.0,619.4 L161.0,619.4 L164.0,619.5 L167.0,619.5 L170.0,619.4 L173.0,619.3 L176.0,619.1 L179.0,618.9 L182.0,618.7 L185.0,618.4 L188.0,618.1 L191.0,617.7 L194.0,617.3 L197.0,616.8 L200.0,616.3 L203.0,615.8 L206.0,615.2 L209.0,614.6 L212.0,613.9 L215.0,613.2 L218.0,612.4 L221.0,611.6 L224.0,610.8 L227.0,609.9 L230.0,609.0 L233.0,608.1 L236.0,607.1 L239.0,606.0 L242.0,604.9 L245.0,603.8 L248.0,602.7 L251.0,601.5 L254.0,600.3 L257.0,599.0 L260.0,597.7 L263.0,596.3 L266.0,595.0 L269.0,593.6 L272.0,592.1 L275.0,590.6 L278.0,589.1 L281.0,587.6 L284.0,586.0 L287.0,584.4 L290.0,582.7 L293.0,581.0 L296.0,579.3 L299.0,577.6 L302.0,575.8 L305.0,574.0 L308.0,572.1 L311.0,570.2 L314.0,568.2 L317.0,566.2 L320.0,564.1 L323.0,562.0 L326.0,559.8 L329.0,557.5 L332.0,555.1 L335.0,552.7 L338.0,550.3 L341.0,547.7 L344.0,545.2 L347.0,542.5 L350.0,539.9 L353.0,537.1 L356.0,534.4 L359.0,531.6 L362.0,528.8 L365.0,525.9 L368.0,523.1 L371.0,520.2 L374.0,517.3 L377.0,514.3 L380.0,511.4 L383.0,508.4 L386.0,505.5 L389.0,502.5 L392.0,499.6 L395.0,496.6 L398.0,493.7 L401.0,490.7 L404.0,487.8 L407.0,484.9 L410.0,482.0 L413.0,479.2 L416.0,476.4 L419.0,473.6 L422.0,470.8 L425.0,468.1 L428.0,465.4 L431.0,462.7 L434.0,460.1 L437.0,457.6 L440.0,455.1 L443.0,452.7 L446.0,450.3 L449.0,448.0 L452.0,445.7 L455.0,443.6 L458.0,441.4 L461.0,439.4 L464.0,437.5 L467.0,435.6 L470.0,433.8 L473.0,432.0 L476.0,430.4 L479.0,428.7 L482.0,427.2 L485.0,425.6 L488.0,424.1 L491.0,422.7 L494.0,421.2 L497.0,419.8 L500.0,418.4 L503.0,417.1 L506.0,415.7 L509.0,414.4 L512.0,413.0 L515.0,411.7 L518.0,410.3 L521.0,408.9 L524.0,407.6 L527.0,406.2 L530.0,404.7 L533.0,403.3 L536.0,401.8 L539.0,400.2 L542.0,398.7 L545.0,397.0 L548.0,395.4 L551.0,393.7 L554.0,391.9 L557.0,390.1 L560.0,388.3 L563.0,386.5 L566.0,384.6 L569.0,382.8 L572.0,380.8 L575.0,378.9 L578.0,377.0 L581.0,375.0 L584.0,373.0 L587.0,371.1 L590.0,369.1 L593.0,367.1 L596.0,365.1 L599.0,363.1 L602.0,361.1 L605.0,359.1 L608.0,357.1 L611.0,355.2 L614.0,353.2 L617.0,351.3 L620.0,349.4 L623.0,347.5 L626.0,345.6 L629.0,343.7 L632.0,341.9 L635.0,340.1 L638.0,338.3 L641.0,336.6 L644.0,334.9 L647.0,333.3 L650.0,331.7 L653.0,330.1 L656.0,328.6" fill="none" stroke="#fff" stroke-width="3.6"/>
</g>
<g id="axes">
<path d="M87.4,83 V714.2 H1039.5" fill="none" stroke="#000" stroke-width="2.2" stroke-linejoin="miter"/>
<path d="M120.8,714 v5.5" stroke="#333" stroke-width="2"/>
<text x="120.8" y="740" text-anchor="middle" class="tk">01 Feb</text>
<path d="M218.1,714 v5.5" stroke="#333" stroke-width="2"/>
<text x="218.1" y="740" text-anchor="middle" class="tk">11 Feb</text>
<path d="M315.4,714 v5.5" stroke="#333" stroke-width="2"/>
<text x="315.4" y="740" text-anchor="middle" class="tk">21 Feb</text>
<path d="M412.6,714 v5.5" stroke="#333" stroke-width="2"/>
<text x="412.6" y="740" text-anchor="middle" class="tk">03 Mar</text>
<path d="M509.9,714 v5.5" stroke="#333" stroke-width="2"/>
<text x="509.9" y="740" text-anchor="middle" class="tk">13 Mar</text>
<path d="M607.2,714 v5.5" stroke="#333" stroke-width="2"/>
<text x="607.2" y="740" text-anchor="middle" class="tk">23 Mar</text>
<path d="M704.5,714 v5.5" stroke="#333" stroke-width="2"/>
<text x="704.5" y="740" text-anchor="middle" class="tk">02 Apr</text>
<path d="M801.8,714 v5.5" stroke="#333" stroke-width="2"/>
<text x="801.8" y="740" text-anchor="middle" class="tk">12 Apr</text>
<path d="M899.0,714 v5.5" stroke="#333" stroke-width="2"/>
<text x="899.0" y="740" text-anchor="middle" class="tk">22 Apr</text>
<path d="M996.3,714 v5.5" stroke="#333" stroke-width="2"/>
<text x="996.3" y="740" text-anchor="middle" class="tk">02 May</text>
<path d="M81.9,654.9 h5.5" stroke="#333" stroke-width="2"/>
<text x="76.8" y="662.4" text-anchor="end" class="tk">0</text>
<path d="M81.9,538.2 h5.5" stroke="#333" stroke-width="2"/>
<text x="76.8" y="545.7" text-anchor="end" class="tk">5</text>
<path d="M81.9,421.5 h5.5" stroke="#333" stroke-width="2"/>
<text x="76.8" y="429.0" text-anchor="end" class="tk">10</text>
<path d="M81.9,304.8 h5.5" stroke="#333" stroke-width="2"/>
<text x="76.8" y="312.3" text-anchor="end" class="tk">15</text>
<path d="M81.9,188.1 h5.5" stroke="#333" stroke-width="2"/>
<text x="76.8" y="195.6" text-anchor="end" class="tk">20</text>
<text x="563.6" y="775.8" text-anchor="middle" class="at">Date</text>
<text transform="translate(36,398.2) rotate(-90)" text-anchor="middle" class="at" style="font-size:34.3px">Percent of checklists reporting</text>
</g>
<g id="legend">
<rect x="1075" y="223" width="36" height="360" fill="#F2F2F2"/>
<path d="M1078.8,241 H1107.4" stroke="#F5696A" stroke-width="4.5"/>
<circle cx="1093" cy="241" r="3.2" fill="#F5696A" fill-opacity="0.58" stroke="#F5696A" stroke-opacity="0.58" stroke-width="1.6"/>
<text x="1114.6" y="250.3" class="lg">2007</text>
<path d="M1078.8,277 H1107.4" stroke="#D0850C" stroke-width="4.5"/>
<circle cx="1093" cy="277" r="3.2" fill="#D0850C" fill-opacity="0.58" stroke="#D0850C" stroke-opacity="0.58" stroke-width="1.6"/>
<text x="1114.6" y="286.3" class="lg">2008</text>
<path d="M1078.8,313 H1107.4" stroke="#9C9C0A" stroke-width="4.5"/>
<circle cx="1093" cy="313" r="3.2" fill="#9C9C0A" fill-opacity="0.58" stroke="#9C9C0A" stroke-opacity="0.58" stroke-width="1.6"/>
<text x="1114.6" y="322.3" class="lg">2009</text>
<path d="M1078.8,349 H1107.4" stroke="#30B214" stroke-width="4.5"/>
<circle cx="1093" cy="349" r="3.2" fill="#30B214" fill-opacity="0.58" stroke="#30B214" stroke-opacity="0.58" stroke-width="1.6"/>
<text x="1114.6" y="358.3" class="lg">2010</text>
<path d="M1078.8,385 H1107.4" stroke="#1CB974" stroke-width="4.5"/>
<circle cx="1093" cy="385" r="3.2" fill="#1CB974" fill-opacity="0.58" stroke="#1CB974" stroke-opacity="0.58" stroke-width="1.6"/>
<text x="1114.6" y="394.3" class="lg">2011</text>
<path d="M1078.8,421 H1107.4" stroke="#1AB6B8" stroke-width="4.5"/>
<circle cx="1093" cy="421" r="3.2" fill="#1AB6B8" fill-opacity="0.58" stroke="#1AB6B8" stroke-opacity="0.58" stroke-width="1.6"/>
<text x="1114.6" y="430.3" class="lg">2012</text>
<path d="M1078.8,457 H1107.4" stroke="#16A6F3" stroke-width="4.5"/>
<circle cx="1093" cy="457" r="3.2" fill="#16A6F3" fill-opacity="0.58" stroke="#16A6F3" stroke-opacity="0.58" stroke-width="1.6"/>
<text x="1114.6" y="466.3" class="lg">2013</text>
<path d="M1078.8,493 H1107.4" stroke="#8D84FF" stroke-width="4.5"/>
<circle cx="1093" cy="493" r="3.2" fill="#8D84FF" fill-opacity="0.58" stroke="#8D84FF" stroke-opacity="0.58" stroke-width="1.6"/>
<text x="1114.6" y="502.3" class="lg">2014</text>
<path d="M1078.8,529 H1107.4" stroke="#DF52F0" stroke-width="4.5"/>
<circle cx="1093" cy="529" r="3.2" fill="#DF52F0" fill-opacity="0.58" stroke="#DF52F0" stroke-opacity="0.58" stroke-width="1.6"/>
<text x="1114.6" y="538.3" class="lg">2015</text>
<path d="M1078.8,565 H1107.4" stroke="#FF45B2" stroke-width="4.5"/>
<circle cx="1093" cy="565" r="3.2" fill="#FF45B2" fill-opacity="0.58" stroke="#FF45B2" stroke-opacity="0.58" stroke-width="1.6"/>
<text x="1114.6" y="574.3" class="lg">2016</text>
</g>
<g id="annot">
<text x="287.5" y="226" class="an" textLength="306.5" lengthAdjust="spacingAndGlyphs">This year so far</text>
<path d="M596,232 L623,264" stroke="#000" stroke-width="7.2" fill="none"/>
<path d="M637.7,281.7 L605,265 L622.5,262.5 L626.7,247.3 Z" fill="#000"/>
</g>
<g id="logos">
<text transform="translate(14.9,867) scale(0.801,1)" class="bc">B</text>
<text transform="translate(49.3,867) scale(0.857,1)" class="bc">i</text>
<text transform="translate(61.4,867) scale(0.846,1)" class="bc">r</text>
<text transform="translate(79.6,867) scale(0.916,1)" class="bc">d</text>
<text transform="translate(113.6,867) scale(0.846,1)" class="bc">C</text>
<text transform="translate(148.6,867) scale(0.802,1)" class="bc">a</text>
<text transform="translate(176.1,867) scale(0.799,1)" class="bc">s</text>
<text transform="translate(201.0,867) scale(0.931,1)" class="bc">t</text>
<text x="338.3" y="858.3" class="cl" textLength="61.5" lengthAdjust="spacingAndGlyphs">The</text>
<text x="399.8" y="858.3" class="cb" textLength="128" lengthAdjust="spacingAndGlyphs">Cornell</text>
<text x="527.8" y="858.3" class="cl" textLength="57.5" lengthAdjust="spacingAndGlyphs">Lab</text>
<text x="629.8" y="858.3" class="cl" textLength="31" lengthAdjust="spacingAndGlyphs">of</text>
<text x="667.2" y="858.3" class="cl" textLength="193.8" lengthAdjust="spacingAndGlyphs">Ornithology</text>
<g>
<path d="M552.7,818.2 Q553.5,821 557,821 L621,821.3 L621,817.7 L553.5,817.7 Z" fill="#000"/>
<path d="M578,821 L603,821 L593.5,832.5 Z" fill="#F2E418"/>
<path d="M603,820.5 C597,824 594,830 594,838 L594,848 C594,862 604,870.7 618,870.7 L618,820.5 Z" fill="#000"/>
<path d="M598.7,829 C598.2,832 599,834.5 601.5,836.8 L613,846.3 L613,840 C612.5,836 610,833.5 606.5,832 Z" fill="#fff"/>
<path d="M617,821 C618,817.2 623,815.8 628,815.8 C633.5,816 637,818.3 638.2,821.3 L650,824.4 L638.8,823.6 C633,828.5 625,832.5 620,836.5 L617.5,836 Z" fill="#000"/>
<path d="M626.8,816 C632,815.5 637,818 638.2,821 L636.3,821.3 C634.5,819 631,817.5 627,817.6 Z" fill="#E11B22"/>
<path d="M638.6,823 L625.5,833 L624.8,832 L637.4,822.6 Z" fill="#E11B22"/>
<path d="M618.5,826.6 L628,822.3 L628.6,823.6 L619.2,828 Z" fill="#fff"/>
<path d="M620.5,834.3 C624,829.5 631,825.5 637.5,822.3 L637.9,823.2 C631.5,826.5 625,830.5 621.4,835 Z" fill="#fff"/>
<circle cx="632" cy="820.6" r="1" fill="#fff"/>
</g>
<g class="eb"><text transform="translate(971.5,876.4) scale(1.06,1)" fill="#27A42B" stroke="#27A42B">e</text><text transform="translate(1016.5,876.4) scale(0.9,1)">B</text><text transform="translate(1071.5,876.4)">&#305;</text><circle cx="1083.6" cy="815.8" r="5.6" stroke-width="0.8"/><text transform="translate(1097.5,876.4) scale(1.08,1)">r</text><text transform="translate(1130.5,876.4) scale(1.07,1.045)">d</text></g>
</g>
</svg>
</body></html>
